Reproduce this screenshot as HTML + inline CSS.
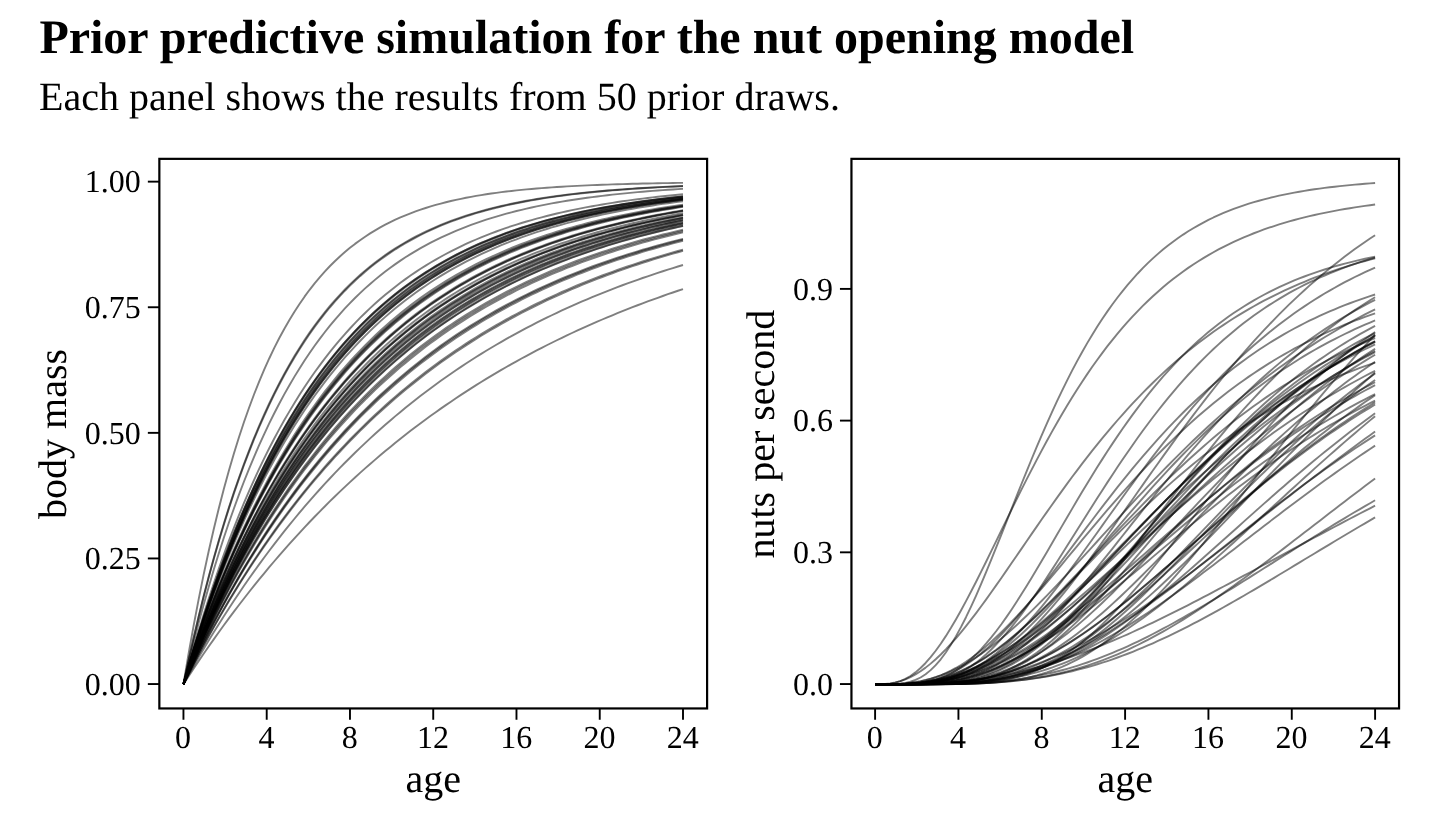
<!DOCTYPE html>
<html><head><meta charset="utf-8"><title>Prior predictive simulation</title>
<style>
html,body{margin:0;padding:0;background:#fff;}
body{width:1440px;height:840px;overflow:hidden;font-family:"Liberation Serif",serif;}
svg{display:block;}
svg text{font-family:"Liberation Serif",serif;fill:#000;text-rendering:geometricPrecision;}
svg{will-change:transform;}
</style></head><body>
<svg width="1440" height="840" viewBox="0 0 1440 840">
<rect width="1440" height="840" fill="#fff"/>
<text class="t" x="39.4" y="53" font-size="48" font-weight="bold">Prior predictive simulation for the nut opening model</text>
<text class="t" x="39" y="110" font-size="40">Each panel shows the results from 50 prior draws.</text>
<g fill="none" stroke="#000" stroke-opacity="0.5" stroke-width="1.9" stroke-linejoin="round"><path d="M183.45 684.20 L188.50 671.83 L193.54 659.77 L198.59 648.00 L203.63 636.52 L208.68 625.33 L213.73 614.41 L218.77 603.76 L223.82 593.37 L228.86 583.24 L233.91 573.36 L238.96 563.72 L244.00 554.31 L249.05 545.14 L254.09 536.20 L259.14 527.47 L264.19 518.96 L269.23 510.66 L274.28 502.56 L279.32 494.67 L284.37 486.96 L289.42 479.45 L294.46 472.12 L299.51 464.97 L304.55 458.00 L309.60 451.20 L314.64 444.57 L319.69 438.10 L324.74 431.79 L329.78 425.63 L334.83 419.63 L339.87 413.77 L344.92 408.06 L349.97 402.49 L355.01 397.05 L360.06 391.75 L365.10 386.58 L370.15 381.54 L375.20 376.62 L380.24 371.82 L385.29 367.14 L390.33 362.58 L395.38 358.13 L400.43 353.79 L405.47 349.55 L410.52 345.42 L415.56 341.39 L420.61 337.46 L425.66 333.63 L430.70 329.89 L435.75 326.24 L440.79 322.68 L445.84 319.21 L450.89 315.83 L455.93 312.53 L460.98 309.31 L466.02 306.16 L471.07 303.10 L476.12 300.11 L481.16 297.20 L486.21 294.36 L491.25 291.58 L496.30 288.88 L501.35 286.24 L506.39 283.67 L511.44 281.16 L516.48 278.71 L521.53 276.32 L526.58 273.99 L531.62 271.72 L536.67 269.51 L541.71 267.34 L546.76 265.24 L551.81 263.18 L556.85 261.17 L561.90 259.22 L566.94 257.31 L571.99 255.45 L577.03 253.63 L582.08 251.86 L587.13 250.14 L592.17 248.45 L597.22 246.81 L602.26 245.21 L607.31 243.64 L612.36 242.12 L617.40 240.63 L622.45 239.18 L627.49 237.77 L632.54 236.39 L637.59 235.04 L642.63 233.73 L647.68 232.45 L652.72 231.20 L657.77 229.98 L662.82 228.79 L667.86 227.63 L672.91 226.50 L677.95 225.40 L683.00 224.32"/><path d="M183.45 684.20 L188.50 666.59 L193.54 649.59 L198.59 633.19 L203.63 617.37 L208.68 602.10 L213.73 587.36 L218.77 573.15 L223.82 559.43 L228.86 546.19 L233.91 533.41 L238.96 521.08 L244.00 509.19 L249.05 497.71 L254.09 486.64 L259.14 475.95 L264.19 465.63 L269.23 455.68 L274.28 446.08 L279.32 436.81 L284.37 427.87 L289.42 419.24 L294.46 410.92 L299.51 402.88 L304.55 395.13 L309.60 387.65 L314.64 380.43 L319.69 373.47 L324.74 366.75 L329.78 360.26 L334.83 354.00 L339.87 347.96 L344.92 342.14 L349.97 336.51 L355.01 331.09 L360.06 325.85 L365.10 320.80 L370.15 315.92 L375.20 311.22 L380.24 306.68 L385.29 302.30 L390.33 298.07 L395.38 293.99 L400.43 290.06 L405.47 286.26 L410.52 282.59 L415.56 279.06 L420.61 275.65 L425.66 272.35 L430.70 269.18 L435.75 266.11 L440.79 263.15 L445.84 260.30 L450.89 257.54 L455.93 254.88 L460.98 252.32 L466.02 249.84 L471.07 247.45 L476.12 245.15 L481.16 242.93 L486.21 240.78 L491.25 238.71 L496.30 236.71 L501.35 234.78 L506.39 232.92 L511.44 231.13 L516.48 229.40 L521.53 227.72 L526.58 226.11 L531.62 224.55 L536.67 223.05 L541.71 221.60 L546.76 220.20 L551.81 218.85 L556.85 217.55 L561.90 216.30 L566.94 215.08 L571.99 213.91 L577.03 212.78 L582.08 211.69 L587.13 210.64 L592.17 209.63 L597.22 208.65 L602.26 207.71 L607.31 206.79 L612.36 205.91 L617.40 205.07 L622.45 204.25 L627.49 203.46 L632.54 202.69 L637.59 201.96 L642.63 201.25 L647.68 200.56 L652.72 199.90 L657.77 199.26 L662.82 198.65 L667.86 198.05 L672.91 197.48 L677.95 196.93 L683.00 196.39"/><path d="M183.45 684.20 L188.50 665.81 L193.54 648.09 L198.59 631.02 L203.63 614.58 L208.68 598.73 L213.73 583.47 L218.77 568.76 L223.82 554.60 L228.86 540.95 L233.91 527.80 L238.96 515.13 L244.00 502.93 L249.05 491.17 L254.09 479.85 L259.14 468.94 L264.19 458.42 L269.23 448.29 L274.28 438.54 L279.32 429.14 L284.37 420.08 L289.42 411.36 L294.46 402.95 L299.51 394.85 L304.55 387.05 L309.60 379.54 L314.64 372.30 L319.69 365.32 L324.74 358.60 L329.78 352.12 L334.83 345.89 L339.87 339.88 L344.92 334.09 L349.97 328.51 L355.01 323.14 L360.06 317.96 L365.10 312.97 L370.15 308.17 L375.20 303.54 L380.24 299.08 L385.29 294.79 L390.33 290.65 L395.38 286.66 L400.43 282.82 L405.47 279.12 L410.52 275.55 L415.56 272.12 L420.61 268.81 L425.66 265.62 L430.70 262.55 L435.75 259.59 L440.79 256.74 L445.84 253.99 L450.89 251.35 L455.93 248.80 L460.98 246.34 L466.02 243.98 L471.07 241.70 L476.12 239.50 L481.16 237.38 L486.21 235.35 L491.25 233.38 L496.30 231.49 L501.35 229.67 L506.39 227.91 L511.44 226.22 L516.48 224.59 L521.53 223.02 L526.58 221.51 L531.62 220.05 L536.67 218.65 L541.71 217.30 L546.76 215.99 L551.81 214.74 L556.85 213.53 L561.90 212.37 L566.94 211.24 L571.99 210.16 L577.03 209.12 L582.08 208.12 L587.13 207.15 L592.17 206.22 L597.22 205.32 L602.26 204.46 L607.31 203.62 L612.36 202.82 L617.40 202.05 L622.45 201.30 L627.49 200.59 L632.54 199.89 L637.59 199.23 L642.63 198.59 L647.68 197.97 L652.72 197.37 L657.77 196.80 L662.82 196.25 L667.86 195.71 L672.91 195.20 L677.95 194.71 L683.00 194.23"/><path d="M183.45 684.20 L188.50 667.50 L193.54 651.35 L198.59 635.74 L203.63 620.64 L208.68 606.05 L213.73 591.95 L218.77 578.31 L223.82 565.13 L228.86 552.38 L233.91 540.06 L238.96 528.15 L244.00 516.63 L249.05 505.50 L254.09 494.74 L259.14 484.33 L264.19 474.27 L269.23 464.55 L274.28 455.14 L279.32 446.05 L284.37 437.27 L289.42 428.77 L294.46 420.56 L299.51 412.62 L304.55 404.94 L309.60 397.52 L314.64 390.35 L319.69 383.41 L324.74 376.71 L329.78 370.23 L334.83 363.96 L339.87 357.90 L344.92 352.04 L349.97 346.38 L355.01 340.91 L360.06 335.61 L365.10 330.50 L370.15 325.55 L375.20 320.77 L380.24 316.15 L385.29 311.68 L390.33 307.36 L395.38 303.18 L400.43 299.14 L405.47 295.24 L410.52 291.47 L415.56 287.82 L420.61 284.29 L425.66 280.88 L430.70 277.58 L435.75 274.39 L440.79 271.31 L445.84 268.33 L450.89 265.46 L455.93 262.67 L460.98 259.98 L466.02 257.38 L471.07 254.86 L476.12 252.43 L481.16 250.08 L486.21 247.81 L491.25 245.61 L496.30 243.48 L501.35 241.43 L506.39 239.44 L511.44 237.53 L516.48 235.67 L521.53 233.88 L526.58 232.14 L531.62 230.46 L536.67 228.84 L541.71 227.28 L546.76 225.76 L551.81 224.30 L556.85 222.88 L561.90 221.51 L566.94 220.19 L571.99 218.91 L577.03 217.67 L582.08 216.48 L587.13 215.32 L592.17 214.20 L597.22 213.12 L602.26 212.08 L607.31 211.07 L612.36 210.09 L617.40 209.15 L622.45 208.24 L627.49 207.35 L632.54 206.50 L637.59 205.68 L642.63 204.88 L647.68 204.11 L652.72 203.36 L657.77 202.64 L662.82 201.95 L667.86 201.28 L672.91 200.62 L677.95 200.00 L683.00 199.39"/><path d="M183.45 684.20 L188.50 674.14 L193.54 664.28 L198.59 654.62 L203.63 645.16 L208.68 635.88 L213.73 626.79 L218.77 617.88 L223.82 609.15 L228.86 600.59 L233.91 592.21 L238.96 583.99 L244.00 575.94 L249.05 568.04 L254.09 560.31 L259.14 552.73 L264.19 545.30 L269.23 538.03 L274.28 530.89 L279.32 523.90 L284.37 517.05 L289.42 510.34 L294.46 503.76 L299.51 497.31 L304.55 491.00 L309.60 484.80 L314.64 478.74 L319.69 472.79 L324.74 466.96 L329.78 461.25 L334.83 455.66 L339.87 450.17 L344.92 444.80 L349.97 439.53 L355.01 434.37 L360.06 429.31 L365.10 424.36 L370.15 419.50 L375.20 414.74 L380.24 410.08 L385.29 405.50 L390.33 401.02 L395.38 396.63 L400.43 392.33 L405.47 388.11 L410.52 383.98 L415.56 379.93 L420.61 375.97 L425.66 372.08 L430.70 368.27 L435.75 364.53 L440.79 360.87 L445.84 357.28 L450.89 353.77 L455.93 350.33 L460.98 346.95 L466.02 343.64 L471.07 340.40 L476.12 337.22 L481.16 334.11 L486.21 331.06 L491.25 328.07 L496.30 325.14 L501.35 322.27 L506.39 319.45 L511.44 316.70 L516.48 313.99 L521.53 311.35 L526.58 308.75 L531.62 306.21 L536.67 303.72 L541.71 301.27 L546.76 298.88 L551.81 296.53 L556.85 294.24 L561.90 291.98 L566.94 289.77 L571.99 287.61 L577.03 285.49 L582.08 283.41 L587.13 281.38 L592.17 279.38 L597.22 277.43 L602.26 275.51 L607.31 273.63 L612.36 271.79 L617.40 269.99 L622.45 268.22 L627.49 266.49 L632.54 264.79 L637.59 263.13 L642.63 261.50 L647.68 259.90 L652.72 258.34 L657.77 256.80 L662.82 255.30 L667.86 253.83 L672.91 252.38 L677.95 250.97 L683.00 249.58"/><path d="M183.45 684.20 L188.50 672.43 L193.54 660.93 L198.59 649.70 L203.63 638.73 L208.68 628.02 L213.73 617.57 L218.77 607.35 L223.82 597.38 L228.86 587.64 L233.91 578.13 L238.96 568.84 L244.00 559.77 L249.05 550.91 L254.09 542.26 L259.14 533.81 L264.19 525.56 L269.23 517.50 L274.28 509.63 L279.32 501.95 L284.37 494.45 L289.42 487.12 L294.46 479.96 L299.51 472.97 L304.55 466.15 L309.60 459.48 L314.64 452.98 L319.69 446.62 L324.74 440.41 L329.78 434.35 L334.83 428.43 L339.87 422.65 L344.92 417.00 L349.97 411.49 L355.01 406.11 L360.06 400.85 L365.10 395.71 L370.15 390.70 L375.20 385.80 L380.24 381.02 L385.29 376.35 L390.33 371.79 L395.38 367.33 L400.43 362.98 L405.47 358.74 L410.52 354.59 L415.56 350.54 L420.61 346.58 L425.66 342.72 L430.70 338.94 L435.75 335.26 L440.79 331.66 L445.84 328.15 L450.89 324.72 L455.93 321.37 L460.98 318.09 L466.02 314.90 L471.07 311.78 L476.12 308.73 L481.16 305.75 L486.21 302.85 L491.25 300.01 L496.30 297.23 L501.35 294.53 L506.39 291.88 L511.44 289.30 L516.48 286.78 L521.53 284.32 L526.58 281.91 L531.62 279.57 L536.67 277.27 L541.71 275.03 L546.76 272.85 L551.81 270.71 L556.85 268.63 L561.90 266.59 L566.94 264.60 L571.99 262.66 L577.03 260.76 L582.08 258.91 L587.13 257.10 L592.17 255.33 L597.22 253.61 L602.26 251.92 L607.31 250.28 L612.36 248.67 L617.40 247.10 L622.45 245.57 L627.49 244.07 L632.54 242.61 L637.59 241.18 L642.63 239.79 L647.68 238.43 L652.72 237.10 L657.77 235.80 L662.82 234.53 L667.86 233.30 L672.91 232.09 L677.95 230.91 L683.00 229.75"/><path d="M183.45 684.20 L188.50 670.64 L193.54 657.44 L198.59 644.60 L203.63 632.11 L208.68 619.96 L213.73 608.13 L218.77 596.62 L223.82 585.42 L228.86 574.53 L233.91 563.93 L238.96 553.61 L244.00 543.57 L249.05 533.81 L254.09 524.30 L259.14 515.06 L264.19 506.06 L269.23 497.31 L274.28 488.79 L279.32 480.50 L284.37 472.44 L289.42 464.59 L294.46 456.96 L299.51 449.53 L304.55 442.30 L309.60 435.27 L314.64 428.42 L319.69 421.77 L324.74 415.29 L329.78 408.98 L334.83 402.85 L339.87 396.88 L344.92 391.07 L349.97 385.42 L355.01 379.93 L360.06 374.58 L365.10 369.37 L370.15 364.31 L375.20 359.38 L380.24 354.58 L385.29 349.92 L390.33 345.38 L395.38 340.96 L400.43 336.66 L405.47 332.48 L410.52 328.41 L415.56 324.45 L420.61 320.60 L425.66 316.85 L430.70 313.20 L435.75 309.65 L440.79 306.20 L445.84 302.84 L450.89 299.57 L455.93 296.39 L460.98 293.29 L466.02 290.28 L471.07 287.35 L476.12 284.50 L481.16 281.73 L486.21 279.03 L491.25 276.40 L496.30 273.85 L501.35 271.36 L506.39 268.94 L511.44 266.58 L516.48 264.29 L521.53 262.06 L526.58 259.90 L531.62 257.79 L536.67 255.73 L541.71 253.73 L546.76 251.79 L551.81 249.90 L556.85 248.06 L561.90 246.27 L566.94 244.52 L571.99 242.83 L577.03 241.18 L582.08 239.57 L587.13 238.01 L592.17 236.49 L597.22 235.01 L602.26 233.57 L607.31 232.17 L612.36 230.81 L617.40 229.49 L622.45 228.20 L627.49 226.94 L632.54 225.72 L637.59 224.53 L642.63 223.38 L647.68 222.25 L652.72 221.16 L657.77 220.09 L662.82 219.06 L667.86 218.05 L672.91 217.07 L677.95 216.11 L683.00 215.19"/><path d="M183.45 684.20 L188.50 674.23 L193.54 664.47 L198.59 654.89 L203.63 645.51 L208.68 636.31 L213.73 627.29 L218.77 618.45 L223.82 609.79 L228.86 601.30 L233.91 592.98 L238.96 584.82 L244.00 576.83 L249.05 568.99 L254.09 561.31 L259.14 553.78 L264.19 546.40 L269.23 539.17 L274.28 532.08 L279.32 525.13 L284.37 518.32 L289.42 511.64 L294.46 505.10 L299.51 498.68 L304.55 492.40 L309.60 486.23 L314.64 480.19 L319.69 474.27 L324.74 468.47 L329.78 462.78 L334.83 457.21 L339.87 451.74 L344.92 446.39 L349.97 441.14 L355.01 435.99 L360.06 430.95 L365.10 426.01 L370.15 421.16 L375.20 416.41 L380.24 411.76 L385.29 407.19 L390.33 402.72 L395.38 398.34 L400.43 394.04 L405.47 389.83 L410.52 385.70 L415.56 381.66 L420.61 377.69 L425.66 373.80 L430.70 369.99 L435.75 366.26 L440.79 362.60 L445.84 359.01 L450.89 355.49 L455.93 352.05 L460.98 348.67 L466.02 345.36 L471.07 342.11 L476.12 338.93 L481.16 335.81 L486.21 332.75 L491.25 329.76 L496.30 326.82 L501.35 323.94 L506.39 321.12 L511.44 318.36 L516.48 315.65 L521.53 312.99 L526.58 310.39 L531.62 307.83 L536.67 305.33 L541.71 302.88 L546.76 300.48 L551.81 298.12 L556.85 295.81 L561.90 293.55 L566.94 291.33 L571.99 289.16 L577.03 287.03 L582.08 284.94 L587.13 282.89 L592.17 280.88 L597.22 278.92 L602.26 276.99 L607.31 275.10 L612.36 273.24 L617.40 271.43 L622.45 269.65 L627.49 267.91 L632.54 266.20 L637.59 264.52 L642.63 262.88 L647.68 261.27 L652.72 259.69 L657.77 258.14 L662.82 256.63 L667.86 255.14 L672.91 253.68 L677.95 252.26 L683.00 250.86"/><path d="M183.45 684.20 L188.50 672.68 L193.54 661.43 L198.59 650.44 L203.63 639.70 L208.68 629.20 L213.73 618.95 L218.77 608.93 L223.82 599.14 L228.86 589.57 L233.91 580.23 L238.96 571.09 L244.00 562.17 L249.05 553.45 L254.09 544.93 L259.14 536.61 L264.19 528.48 L269.23 520.53 L274.28 512.77 L279.32 505.18 L284.37 497.77 L289.42 490.52 L294.46 483.45 L299.51 476.53 L304.55 469.78 L309.60 463.17 L314.64 456.72 L319.69 450.42 L324.74 444.26 L329.78 438.25 L334.83 432.37 L339.87 426.62 L344.92 421.01 L349.97 415.53 L355.01 410.17 L360.06 404.93 L365.10 399.82 L370.15 394.82 L375.20 389.94 L380.24 385.16 L385.29 380.50 L390.33 375.95 L395.38 371.49 L400.43 367.15 L405.47 362.90 L410.52 358.74 L415.56 354.69 L420.61 350.72 L425.66 346.85 L430.70 343.06 L435.75 339.37 L440.79 335.75 L445.84 332.22 L450.89 328.77 L455.93 325.40 L460.98 322.11 L466.02 318.89 L471.07 315.75 L476.12 312.68 L481.16 309.68 L486.21 306.74 L491.25 303.88 L496.30 301.08 L501.35 298.34 L506.39 295.67 L511.44 293.06 L516.48 290.51 L521.53 288.01 L526.58 285.58 L531.62 283.20 L536.67 280.87 L541.71 278.60 L546.76 276.38 L551.81 274.21 L556.85 272.09 L561.90 270.02 L566.94 267.99 L571.99 266.02 L577.03 264.08 L582.08 262.20 L587.13 260.35 L592.17 258.55 L597.22 256.79 L602.26 255.07 L607.31 253.39 L612.36 251.74 L617.40 250.14 L622.45 248.57 L627.49 247.04 L632.54 245.54 L637.59 244.08 L642.63 242.65 L647.68 241.25 L652.72 239.89 L657.77 238.55 L662.82 237.25 L667.86 235.98 L672.91 234.73 L677.95 233.52 L683.00 232.33"/><path d="M183.45 684.20 L188.50 670.33 L193.54 656.83 L198.59 643.71 L203.63 630.96 L208.68 618.55 L213.73 606.49 L218.77 594.76 L223.82 583.36 L228.86 572.27 L233.91 561.48 L238.96 551.00 L244.00 540.80 L249.05 530.89 L254.09 521.24 L259.14 511.87 L264.19 502.75 L269.23 493.89 L274.28 485.27 L279.32 476.89 L284.37 468.74 L289.42 460.81 L294.46 453.10 L299.51 445.61 L304.55 438.32 L309.60 431.24 L314.64 424.35 L319.69 417.65 L324.74 411.13 L329.78 404.80 L334.83 398.64 L339.87 392.65 L344.92 386.82 L349.97 381.16 L355.01 375.65 L360.06 370.30 L365.10 365.09 L370.15 360.03 L375.20 355.10 L380.24 350.31 L385.29 345.66 L390.33 341.13 L395.38 336.73 L400.43 332.45 L405.47 328.29 L410.52 324.24 L415.56 320.30 L420.61 316.48 L425.66 312.76 L430.70 309.14 L435.75 305.62 L440.79 302.20 L445.84 298.87 L450.89 295.63 L455.93 292.49 L460.98 289.43 L466.02 286.45 L471.07 283.56 L476.12 280.75 L481.16 278.01 L486.21 275.36 L491.25 272.77 L496.30 270.26 L501.35 267.81 L506.39 265.43 L511.44 263.12 L516.48 260.87 L521.53 258.69 L526.58 256.56 L531.62 254.49 L536.67 252.48 L541.71 250.53 L546.76 248.63 L551.81 246.78 L556.85 244.98 L561.90 243.24 L566.94 241.54 L571.99 239.89 L577.03 238.28 L582.08 236.72 L587.13 235.20 L592.17 233.72 L597.22 232.28 L602.26 230.89 L607.31 229.53 L612.36 228.21 L617.40 226.92 L622.45 225.68 L627.49 224.46 L632.54 223.28 L637.59 222.13 L642.63 221.02 L647.68 219.93 L652.72 218.88 L657.77 217.85 L662.82 216.85 L667.86 215.88 L672.91 214.94 L677.95 214.02 L683.00 213.13"/><path d="M183.45 684.20 L188.50 669.94 L193.54 656.09 L198.59 642.63 L203.63 629.55 L208.68 616.84 L213.73 604.50 L218.77 592.50 L223.82 580.84 L228.86 569.52 L233.91 558.51 L238.96 547.82 L244.00 537.43 L249.05 527.34 L254.09 517.53 L259.14 508.00 L264.19 498.75 L269.23 489.75 L274.28 481.01 L279.32 472.52 L284.37 464.26 L289.42 456.25 L294.46 448.46 L299.51 440.89 L304.55 433.53 L309.60 426.39 L314.64 419.45 L319.69 412.70 L324.74 406.15 L329.78 399.78 L334.83 393.59 L339.87 387.58 L344.92 381.74 L349.97 376.06 L355.01 370.54 L360.06 365.19 L365.10 359.98 L370.15 354.92 L375.20 350.01 L380.24 345.23 L385.29 340.59 L390.33 336.08 L395.38 331.70 L400.43 327.45 L405.47 323.31 L410.52 319.29 L415.56 315.39 L420.61 311.60 L425.66 307.91 L430.70 304.33 L435.75 300.85 L440.79 297.47 L445.84 294.18 L450.89 290.99 L455.93 287.89 L460.98 284.88 L466.02 281.95 L471.07 279.11 L476.12 276.34 L481.16 273.66 L486.21 271.05 L491.25 268.51 L496.30 266.05 L501.35 263.66 L506.39 261.33 L511.44 259.07 L516.48 256.88 L521.53 254.74 L526.58 252.67 L531.62 250.66 L536.67 248.70 L541.71 246.80 L546.76 244.95 L551.81 243.16 L556.85 241.41 L561.90 239.72 L566.94 238.07 L571.99 236.47 L577.03 234.92 L582.08 233.41 L587.13 231.94 L592.17 230.52 L597.22 229.13 L602.26 227.78 L607.31 226.48 L612.36 225.21 L617.40 223.97 L622.45 222.77 L627.49 221.61 L632.54 220.48 L637.59 219.37 L642.63 218.31 L647.68 217.27 L652.72 216.26 L657.77 215.28 L662.82 214.32 L667.86 213.40 L672.91 212.50 L677.95 211.63 L683.00 210.78"/><path d="M183.45 684.20 L188.50 673.45 L193.54 662.93 L198.59 652.64 L203.63 642.56 L208.68 632.71 L213.73 623.06 L218.77 613.62 L223.82 604.38 L228.86 595.34 L233.91 586.49 L238.96 577.83 L244.00 569.36 L249.05 561.06 L254.09 552.95 L259.14 545.01 L264.19 537.24 L269.23 529.63 L274.28 522.19 L279.32 514.91 L284.37 507.78 L289.42 500.80 L294.46 493.98 L299.51 487.30 L304.55 480.76 L309.60 474.36 L314.64 468.10 L319.69 461.98 L324.74 455.98 L329.78 450.11 L334.83 444.37 L339.87 438.75 L344.92 433.25 L349.97 427.87 L355.01 422.61 L360.06 417.45 L365.10 412.41 L370.15 407.48 L375.20 402.65 L380.24 397.92 L385.29 393.30 L390.33 388.77 L395.38 384.34 L400.43 380.01 L405.47 375.76 L410.52 371.61 L415.56 367.55 L420.61 363.57 L425.66 359.68 L430.70 355.88 L435.75 352.15 L440.79 348.50 L445.84 344.94 L450.89 341.44 L455.93 338.03 L460.98 334.68 L466.02 331.41 L471.07 328.21 L476.12 325.07 L481.16 322.01 L486.21 319.01 L491.25 316.07 L496.30 313.20 L501.35 310.38 L506.39 307.63 L511.44 304.94 L516.48 302.30 L521.53 299.72 L526.58 297.20 L531.62 294.72 L536.67 292.31 L541.71 289.94 L546.76 287.63 L551.81 285.36 L556.85 283.14 L561.90 280.97 L566.94 278.85 L571.99 276.77 L577.03 274.74 L582.08 272.75 L587.13 270.80 L592.17 268.89 L597.22 267.03 L602.26 265.20 L607.31 263.42 L612.36 261.67 L617.40 259.96 L622.45 258.28 L627.49 256.65 L632.54 255.04 L637.59 253.47 L642.63 251.94 L647.68 250.44 L652.72 248.97 L657.77 247.53 L662.82 246.12 L667.86 244.74 L672.91 243.39 L677.95 242.07 L683.00 240.78"/><path d="M183.45 684.20 L188.50 671.36 L193.54 658.84 L198.59 646.65 L203.63 634.76 L208.68 623.18 L213.73 611.90 L218.77 600.91 L223.82 590.19 L228.86 579.75 L233.91 569.58 L238.96 559.66 L244.00 550.00 L249.05 540.59 L254.09 531.42 L259.14 522.48 L264.19 513.77 L269.23 505.28 L274.28 497.01 L279.32 488.95 L284.37 481.10 L289.42 473.45 L294.46 465.99 L299.51 458.73 L304.55 451.65 L309.60 444.75 L314.64 438.02 L319.69 431.47 L324.74 425.09 L329.78 418.87 L334.83 412.81 L339.87 406.90 L344.92 401.14 L349.97 395.54 L355.01 390.07 L360.06 384.75 L365.10 379.56 L370.15 374.50 L375.20 369.57 L380.24 364.77 L385.29 360.09 L390.33 355.53 L395.38 351.09 L400.43 346.76 L405.47 342.54 L410.52 338.43 L415.56 334.42 L420.61 330.52 L425.66 326.72 L430.70 323.01 L435.75 319.40 L440.79 315.88 L445.84 312.45 L450.89 309.11 L455.93 305.85 L460.98 302.68 L466.02 299.59 L471.07 296.57 L476.12 293.64 L481.16 290.78 L486.21 287.99 L491.25 285.27 L496.30 282.63 L501.35 280.05 L506.39 277.53 L511.44 275.08 L516.48 272.70 L521.53 270.37 L526.58 268.10 L531.62 265.90 L536.67 263.74 L541.71 261.65 L546.76 259.60 L551.81 257.61 L556.85 255.67 L561.90 253.78 L566.94 251.94 L571.99 250.14 L577.03 248.40 L582.08 246.69 L587.13 245.03 L592.17 243.41 L597.22 241.83 L602.26 240.30 L607.31 238.80 L612.36 237.34 L617.40 235.92 L622.45 234.53 L627.49 233.18 L632.54 231.87 L637.59 230.58 L642.63 229.33 L647.68 228.12 L652.72 226.93 L657.77 225.77 L662.82 224.65 L667.86 223.55 L672.91 222.48 L677.95 221.44 L683.00 220.42"/><path d="M183.45 684.20 L188.50 667.26 L193.54 650.88 L198.59 635.06 L203.63 619.77 L208.68 605.00 L213.73 590.73 L218.77 576.93 L223.82 563.61 L228.86 550.73 L233.91 538.28 L238.96 526.26 L244.00 514.64 L249.05 503.41 L254.09 492.56 L259.14 482.08 L264.19 471.95 L269.23 462.16 L274.28 452.71 L279.32 443.57 L284.37 434.74 L289.42 426.20 L294.46 417.96 L299.51 409.99 L304.55 402.29 L309.60 394.86 L314.64 387.67 L319.69 380.72 L324.74 374.01 L329.78 367.53 L334.83 361.26 L339.87 355.20 L344.92 349.35 L349.97 343.70 L355.01 338.24 L360.06 332.96 L365.10 327.86 L370.15 322.93 L375.20 318.17 L380.24 313.57 L385.29 309.12 L390.33 304.82 L395.38 300.67 L400.43 296.66 L405.47 292.78 L410.52 289.04 L415.56 285.42 L420.61 281.92 L425.66 278.54 L430.70 275.27 L435.75 272.12 L440.79 269.07 L445.84 266.12 L450.89 263.28 L455.93 260.53 L460.98 257.87 L466.02 255.30 L471.07 252.82 L476.12 250.42 L481.16 248.10 L486.21 245.86 L491.25 243.70 L496.30 241.61 L501.35 239.59 L506.39 237.64 L511.44 235.75 L516.48 233.93 L521.53 232.17 L526.58 230.46 L531.62 228.82 L536.67 227.23 L541.71 225.70 L546.76 224.21 L551.81 222.78 L556.85 221.39 L561.90 220.05 L566.94 218.76 L571.99 217.51 L577.03 216.30 L582.08 215.14 L587.13 214.01 L592.17 212.92 L597.22 211.87 L602.26 210.85 L607.31 209.87 L612.36 208.92 L617.40 208.00 L622.45 207.11 L627.49 206.26 L632.54 205.43 L637.59 204.63 L642.63 203.85 L647.68 203.11 L652.72 202.39 L657.77 201.69 L662.82 201.01 L667.86 200.36 L672.91 199.73 L677.95 199.13 L683.00 198.54"/><path d="M183.45 684.20 L188.50 673.36 L193.54 662.75 L198.59 652.36 L203.63 642.21 L208.68 632.27 L213.73 622.54 L218.77 613.03 L223.82 603.72 L228.86 594.61 L233.91 585.70 L238.96 576.98 L244.00 568.45 L249.05 560.11 L254.09 551.94 L259.14 543.95 L264.19 536.13 L269.23 528.48 L274.28 521.00 L279.32 513.68 L284.37 506.51 L289.42 499.50 L294.46 492.64 L299.51 485.93 L304.55 479.37 L309.60 472.94 L314.64 466.66 L319.69 460.51 L324.74 454.49 L329.78 448.61 L334.83 442.84 L339.87 437.21 L344.92 431.70 L349.97 426.30 L355.01 421.02 L360.06 415.86 L365.10 410.80 L370.15 405.86 L375.20 401.02 L380.24 396.29 L385.29 391.66 L390.33 387.13 L395.38 382.69 L400.43 378.35 L405.47 374.11 L410.52 369.96 L415.56 365.90 L420.61 361.92 L425.66 358.03 L430.70 354.23 L435.75 350.50 L440.79 346.86 L445.84 343.30 L450.89 339.81 L455.93 336.40 L460.98 333.06 L466.02 329.79 L471.07 326.59 L476.12 323.47 L481.16 320.41 L486.21 317.41 L491.25 314.49 L496.30 311.62 L501.35 308.82 L506.39 306.07 L511.44 303.39 L516.48 300.76 L521.53 298.19 L526.58 295.68 L531.62 293.22 L536.67 290.81 L541.71 288.46 L546.76 286.15 L551.81 283.90 L556.85 281.69 L561.90 279.54 L566.94 277.42 L571.99 275.36 L577.03 273.34 L582.08 271.36 L587.13 269.43 L592.17 267.53 L597.22 265.68 L602.26 263.87 L607.31 262.09 L612.36 260.36 L617.40 258.66 L622.45 257.00 L627.49 255.38 L632.54 253.79 L637.59 252.23 L642.63 250.71 L647.68 249.22 L652.72 247.76 L657.77 246.34 L662.82 244.94 L667.86 243.58 L672.91 242.24 L677.95 240.93 L683.00 239.66"/><path d="M183.45 684.20 L188.50 671.23 L193.54 658.59 L198.59 646.28 L203.63 634.28 L208.68 622.60 L213.73 611.22 L218.77 600.13 L223.82 589.33 L228.86 578.80 L233.91 568.55 L238.96 558.57 L244.00 548.84 L249.05 539.36 L254.09 530.13 L259.14 521.13 L264.19 512.37 L269.23 503.83 L274.28 495.51 L279.32 487.41 L284.37 479.52 L289.42 471.83 L294.46 464.34 L299.51 457.05 L304.55 449.94 L309.60 443.01 L314.64 436.27 L319.69 429.69 L324.74 423.29 L329.78 417.06 L334.83 410.98 L339.87 405.06 L344.92 399.29 L349.97 393.68 L355.01 388.20 L360.06 382.87 L365.10 377.68 L370.15 372.62 L375.20 367.69 L380.24 362.89 L385.29 358.21 L390.33 353.66 L395.38 349.22 L400.43 344.89 L405.47 340.68 L410.52 336.57 L415.56 332.58 L420.61 328.68 L425.66 324.89 L430.70 321.19 L435.75 317.59 L440.79 314.08 L445.84 310.66 L450.89 307.33 L455.93 304.09 L460.98 300.93 L466.02 297.85 L471.07 294.85 L476.12 291.93 L481.16 289.09 L486.21 286.32 L491.25 283.61 L496.30 280.98 L501.35 278.42 L506.39 275.92 L511.44 273.49 L516.48 271.12 L521.53 268.81 L526.58 266.56 L531.62 264.37 L536.67 262.24 L541.71 260.16 L546.76 258.13 L551.81 256.16 L556.85 254.24 L561.90 252.37 L566.94 250.54 L571.99 248.76 L577.03 247.03 L582.08 245.35 L587.13 243.70 L592.17 242.10 L597.22 240.54 L602.26 239.02 L607.31 237.54 L612.36 236.10 L617.40 234.70 L622.45 233.33 L627.49 232.00 L632.54 230.70 L637.59 229.43 L642.63 228.20 L647.68 227.00 L652.72 225.83 L657.77 224.69 L662.82 223.58 L667.86 222.50 L672.91 221.45 L677.95 220.42 L683.00 219.42"/><path d="M183.45 684.20 L188.50 668.97 L193.54 654.21 L198.59 639.89 L203.63 626.01 L208.68 612.54 L213.73 599.49 L218.77 586.83 L223.82 574.55 L228.86 562.65 L233.91 551.10 L238.96 539.91 L244.00 529.06 L249.05 518.53 L254.09 508.32 L259.14 498.43 L264.19 488.83 L269.23 479.52 L274.28 470.50 L279.32 461.75 L284.37 453.26 L289.42 445.03 L294.46 437.05 L299.51 429.31 L304.55 421.81 L309.60 414.54 L314.64 407.48 L319.69 400.64 L324.74 394.00 L329.78 387.57 L334.83 381.33 L339.87 375.28 L344.92 369.42 L349.97 363.73 L355.01 358.21 L360.06 352.86 L365.10 347.68 L370.15 342.65 L375.20 337.77 L380.24 333.04 L385.29 328.46 L390.33 324.01 L395.38 319.70 L400.43 315.52 L405.47 311.46 L410.52 307.53 L415.56 303.72 L420.61 300.02 L425.66 296.43 L430.70 292.96 L435.75 289.59 L440.79 286.32 L445.84 283.15 L450.89 280.07 L455.93 277.09 L460.98 274.20 L466.02 271.40 L471.07 268.68 L476.12 266.04 L481.16 263.49 L486.21 261.01 L491.25 258.61 L496.30 256.28 L501.35 254.02 L506.39 251.82 L511.44 249.70 L516.48 247.64 L521.53 245.64 L526.58 243.70 L531.62 241.82 L536.67 240.00 L541.71 238.24 L546.76 236.52 L551.81 234.86 L556.85 233.25 L561.90 231.69 L566.94 230.17 L571.99 228.71 L577.03 227.28 L582.08 225.90 L587.13 224.56 L592.17 223.26 L597.22 222.00 L602.26 220.78 L607.31 219.60 L612.36 218.45 L617.40 217.33 L622.45 216.26 L627.49 215.21 L632.54 214.19 L637.59 213.21 L642.63 212.25 L647.68 211.33 L652.72 210.43 L657.77 209.56 L662.82 208.71 L667.86 207.90 L672.91 207.10 L677.95 206.33 L683.00 205.59"/><path d="M183.45 684.20 L188.50 676.43 L193.54 668.78 L198.59 661.24 L203.63 653.82 L208.68 646.52 L213.73 639.33 L218.77 632.25 L223.82 625.29 L228.86 618.42 L233.91 611.67 L238.96 605.02 L244.00 598.47 L249.05 592.03 L254.09 585.68 L259.14 579.43 L264.19 573.28 L269.23 567.22 L274.28 561.26 L279.32 555.39 L284.37 549.61 L289.42 543.92 L294.46 538.32 L299.51 532.80 L304.55 527.37 L309.60 522.02 L314.64 516.76 L319.69 511.58 L324.74 506.47 L329.78 501.45 L334.83 496.50 L339.87 491.64 L344.92 486.84 L349.97 482.12 L355.01 477.48 L360.06 472.90 L365.10 468.40 L370.15 463.96 L375.20 459.60 L380.24 455.30 L385.29 451.07 L390.33 446.90 L395.38 442.80 L400.43 438.76 L405.47 434.78 L410.52 430.87 L415.56 427.01 L420.61 423.22 L425.66 419.48 L430.70 415.81 L435.75 412.19 L440.79 408.62 L445.84 405.11 L450.89 401.66 L455.93 398.25 L460.98 394.90 L466.02 391.61 L471.07 388.36 L476.12 385.16 L481.16 382.02 L486.21 378.92 L491.25 375.87 L496.30 372.86 L501.35 369.91 L506.39 367.00 L511.44 364.13 L516.48 361.31 L521.53 358.53 L526.58 355.80 L531.62 353.10 L536.67 350.45 L541.71 347.84 L546.76 345.27 L551.81 342.74 L556.85 340.25 L561.90 337.80 L566.94 335.38 L571.99 333.01 L577.03 330.67 L582.08 328.36 L587.13 326.09 L592.17 323.86 L597.22 321.66 L602.26 319.50 L607.31 317.37 L612.36 315.27 L617.40 313.20 L622.45 311.17 L627.49 309.16 L632.54 307.19 L637.59 305.25 L642.63 303.34 L647.68 301.46 L652.72 299.61 L657.77 297.78 L662.82 295.99 L667.86 294.22 L672.91 292.48 L677.95 290.77 L683.00 289.08"/><path d="M183.45 684.20 L188.50 670.63 L193.54 657.43 L198.59 644.58 L203.63 632.08 L208.68 619.92 L213.73 608.08 L218.77 596.57 L223.82 585.37 L228.86 574.47 L233.91 563.86 L238.96 553.54 L244.00 543.50 L249.05 533.73 L254.09 524.22 L259.14 514.97 L264.19 505.97 L269.23 497.22 L274.28 488.70 L279.32 480.41 L284.37 472.34 L289.42 464.49 L294.46 456.85 L299.51 449.42 L304.55 442.19 L309.60 435.16 L314.64 428.32 L319.69 421.66 L324.74 415.18 L329.78 408.87 L334.83 402.74 L339.87 396.77 L344.92 390.96 L349.97 385.31 L355.01 379.81 L360.06 374.46 L365.10 369.25 L370.15 364.19 L375.20 359.26 L380.24 354.47 L385.29 349.80 L390.33 345.26 L395.38 340.85 L400.43 336.55 L405.47 332.37 L410.52 328.30 L415.56 324.34 L420.61 320.49 L425.66 316.74 L430.70 313.09 L435.75 309.54 L440.79 306.09 L445.84 302.73 L450.89 299.46 L455.93 296.28 L460.98 293.19 L466.02 290.18 L471.07 287.25 L476.12 284.40 L481.16 281.63 L486.21 278.93 L491.25 276.30 L496.30 273.75 L501.35 271.26 L506.39 268.84 L511.44 266.49 L516.48 264.20 L521.53 261.97 L526.58 259.80 L531.62 257.70 L536.67 255.64 L541.71 253.65 L546.76 251.70 L551.81 249.81 L556.85 247.97 L561.90 246.18 L566.94 244.44 L571.99 242.75 L577.03 241.10 L582.08 239.50 L587.13 237.94 L592.17 236.42 L597.22 234.94 L602.26 233.50 L607.31 232.10 L612.36 230.74 L617.40 229.42 L622.45 228.13 L627.49 226.87 L632.54 225.65 L637.59 224.47 L642.63 223.31 L647.68 222.19 L652.72 221.10 L657.77 220.03 L662.82 219.00 L667.86 217.99 L672.91 217.01 L677.95 216.06 L683.00 215.13"/><path d="M183.45 684.20 L188.50 666.70 L193.54 649.81 L198.59 633.51 L203.63 617.77 L208.68 602.59 L213.73 587.93 L218.77 573.78 L223.82 560.13 L228.86 546.95 L233.91 534.23 L238.96 521.95 L244.00 510.10 L249.05 498.66 L254.09 487.63 L259.14 476.97 L264.19 466.69 L269.23 456.76 L274.28 447.18 L279.32 437.94 L284.37 429.02 L289.42 420.40 L294.46 412.09 L299.51 404.07 L304.55 396.32 L309.60 388.85 L314.64 381.63 L319.69 374.67 L324.74 367.95 L329.78 361.46 L334.83 355.20 L339.87 349.16 L344.92 343.33 L349.97 337.70 L355.01 332.27 L360.06 327.02 L365.10 321.96 L370.15 317.08 L375.20 312.36 L380.24 307.81 L385.29 303.42 L390.33 299.18 L395.38 295.09 L400.43 291.14 L405.47 287.33 L410.52 283.65 L415.56 280.10 L420.61 276.67 L425.66 273.37 L430.70 270.17 L435.75 267.09 L440.79 264.12 L445.84 261.25 L450.89 258.48 L455.93 255.80 L460.98 253.22 L466.02 250.73 L471.07 248.33 L476.12 246.01 L481.16 243.77 L486.21 241.61 L491.25 239.52 L496.30 237.51 L501.35 235.56 L506.39 233.69 L511.44 231.88 L516.48 230.13 L521.53 228.44 L526.58 226.82 L531.62 225.24 L536.67 223.73 L541.71 222.26 L546.76 220.85 L551.81 219.49 L556.85 218.17 L561.90 216.90 L566.94 215.68 L571.99 214.49 L577.03 213.35 L582.08 212.25 L587.13 211.18 L592.17 210.16 L597.22 209.17 L602.26 208.21 L607.31 207.29 L612.36 206.40 L617.40 205.54 L622.45 204.71 L627.49 203.90 L632.54 203.13 L637.59 202.38 L642.63 201.66 L647.68 200.97 L652.72 200.30 L657.77 199.65 L662.82 199.03 L667.86 198.42 L672.91 197.84 L677.95 197.28 L683.00 196.74"/><path d="M183.45 684.20 L188.50 667.97 L193.54 652.27 L198.59 637.08 L203.63 622.37 L208.68 608.14 L213.73 594.37 L218.77 581.05 L223.82 568.15 L228.86 555.67 L233.91 543.60 L238.96 531.91 L244.00 520.60 L249.05 509.66 L254.09 499.07 L259.14 488.82 L264.19 478.90 L269.23 469.31 L274.28 460.02 L279.32 451.03 L284.37 442.33 L289.42 433.92 L294.46 425.77 L299.51 417.89 L304.55 410.27 L309.60 402.88 L314.64 395.74 L319.69 388.83 L324.74 382.14 L329.78 375.67 L334.83 369.41 L339.87 363.35 L344.92 357.48 L349.97 351.80 L355.01 346.31 L360.06 341.00 L365.10 335.85 L370.15 330.87 L375.20 326.06 L380.24 321.40 L385.29 316.88 L390.33 312.52 L395.38 308.30 L400.43 304.21 L405.47 300.25 L410.52 296.42 L415.56 292.72 L420.61 289.13 L425.66 285.66 L430.70 282.31 L435.75 279.06 L440.79 275.91 L445.84 272.87 L450.89 269.93 L455.93 267.08 L460.98 264.32 L466.02 261.65 L471.07 259.07 L476.12 256.57 L481.16 254.16 L486.21 251.82 L491.25 249.55 L496.30 247.36 L501.35 245.24 L506.39 243.19 L511.44 241.20 L516.48 239.28 L521.53 237.42 L526.58 235.62 L531.62 233.88 L536.67 232.20 L541.71 230.57 L546.76 228.99 L551.81 227.46 L556.85 225.98 L561.90 224.55 L566.94 223.17 L571.99 221.83 L577.03 220.54 L582.08 219.28 L587.13 218.07 L592.17 216.89 L597.22 215.76 L602.26 214.66 L607.31 213.59 L612.36 212.56 L617.40 211.57 L622.45 210.60 L627.49 209.67 L632.54 208.77 L637.59 207.89 L642.63 207.05 L647.68 206.23 L652.72 205.44 L657.77 204.67 L662.82 203.93 L667.86 203.21 L672.91 202.52 L677.95 201.84 L683.00 201.19"/><path d="M183.45 684.20 L188.50 671.39 L193.54 658.90 L198.59 646.73 L203.63 634.88 L208.68 623.32 L213.73 612.06 L218.77 601.09 L223.82 590.40 L228.86 579.98 L233.91 569.82 L238.96 559.92 L244.00 550.28 L249.05 540.88 L254.09 531.72 L259.14 522.80 L264.19 514.10 L269.23 505.63 L274.28 497.37 L279.32 489.32 L284.37 481.48 L289.42 473.83 L294.46 466.38 L299.51 459.12 L304.55 452.05 L309.60 445.16 L314.64 438.44 L319.69 431.89 L324.74 425.51 L329.78 419.30 L334.83 413.24 L339.87 407.34 L344.92 401.58 L349.97 395.98 L355.01 390.51 L360.06 385.19 L365.10 380.00 L370.15 374.94 L375.20 370.02 L380.24 365.22 L385.29 360.54 L390.33 355.98 L395.38 351.53 L400.43 347.20 L405.47 342.98 L410.52 338.87 L415.56 334.86 L420.61 330.96 L425.66 327.15 L430.70 323.44 L435.75 319.83 L440.79 316.31 L445.84 312.88 L450.89 309.53 L455.93 306.27 L460.98 303.10 L466.02 300.00 L471.07 296.98 L476.12 294.04 L481.16 291.18 L486.21 288.39 L491.25 285.67 L496.30 283.02 L501.35 280.43 L506.39 277.92 L511.44 275.46 L516.48 273.07 L521.53 270.74 L526.58 268.47 L531.62 266.26 L536.67 264.10 L541.71 262.00 L546.76 259.96 L551.81 257.96 L556.85 256.02 L561.90 254.12 L566.94 252.27 L571.99 250.47 L577.03 248.72 L582.08 247.01 L587.13 245.35 L592.17 243.72 L597.22 242.14 L602.26 240.60 L607.31 239.10 L612.36 237.64 L617.40 236.21 L622.45 234.82 L627.49 233.47 L632.54 232.15 L637.59 230.86 L642.63 229.61 L647.68 228.38 L652.72 227.19 L657.77 226.03 L662.82 224.90 L667.86 223.80 L672.91 222.73 L677.95 221.68 L683.00 220.66"/><path d="M183.45 684.20 L188.50 670.55 L193.54 657.27 L198.59 644.36 L203.63 631.79 L208.68 619.56 L213.73 607.67 L218.77 596.10 L223.82 584.85 L228.86 573.90 L233.91 563.24 L238.96 552.88 L244.00 542.80 L249.05 532.99 L254.09 523.45 L259.14 514.17 L264.19 505.14 L269.23 496.35 L274.28 487.80 L279.32 479.49 L284.37 471.40 L289.42 463.53 L294.46 455.88 L299.51 448.43 L304.55 441.19 L309.60 434.14 L314.64 427.28 L319.69 420.61 L324.74 414.12 L329.78 407.81 L334.83 401.67 L339.87 395.69 L344.92 389.88 L349.97 384.23 L355.01 378.72 L360.06 373.37 L365.10 368.17 L370.15 363.10 L375.20 358.18 L380.24 353.38 L385.29 348.72 L390.33 344.18 L395.38 339.77 L400.43 335.48 L405.47 331.30 L410.52 327.24 L415.56 323.28 L420.61 319.44 L425.66 315.70 L430.70 312.06 L435.75 308.52 L440.79 305.07 L445.84 301.72 L450.89 298.46 L455.93 295.29 L460.98 292.20 L466.02 289.20 L471.07 286.28 L476.12 283.44 L481.16 280.68 L486.21 277.99 L491.25 275.37 L496.30 272.83 L501.35 270.35 L506.39 267.95 L511.44 265.60 L516.48 263.33 L521.53 261.11 L526.58 258.95 L531.62 256.85 L536.67 254.81 L541.71 252.83 L546.76 250.89 L551.81 249.01 L556.85 247.19 L561.90 245.41 L566.94 243.68 L571.99 241.99 L577.03 240.36 L582.08 238.76 L587.13 237.21 L592.17 235.71 L597.22 234.24 L602.26 232.81 L607.31 231.42 L612.36 230.07 L617.40 228.76 L622.45 227.48 L627.49 226.24 L632.54 225.03 L637.59 223.85 L642.63 222.71 L647.68 221.59 L652.72 220.51 L657.77 219.45 L662.82 218.43 L667.86 217.43 L672.91 216.46 L677.95 215.52 L683.00 214.60"/><path d="M183.45 684.20 L188.50 667.01 L193.54 650.40 L198.59 634.37 L203.63 618.88 L208.68 603.92 L213.73 589.48 L218.77 575.53 L223.82 562.05 L228.86 549.04 L233.91 536.47 L238.96 524.33 L244.00 512.61 L249.05 501.29 L254.09 490.36 L259.14 479.80 L264.19 469.60 L269.23 459.75 L274.28 450.23 L279.32 441.05 L284.37 432.17 L289.42 423.60 L294.46 415.33 L299.51 407.33 L304.55 399.61 L309.60 392.16 L314.64 384.96 L319.69 378.00 L324.74 371.29 L329.78 364.80 L334.83 358.54 L339.87 352.49 L344.92 346.64 L349.97 341.00 L355.01 335.55 L360.06 330.29 L365.10 325.20 L370.15 320.29 L375.20 315.55 L380.24 310.97 L385.29 306.55 L390.33 302.28 L395.38 298.15 L400.43 294.17 L405.47 290.32 L410.52 286.60 L415.56 283.01 L420.61 279.55 L425.66 276.20 L430.70 272.97 L435.75 269.85 L440.79 266.83 L445.84 263.92 L450.89 261.10 L455.93 258.39 L460.98 255.76 L466.02 253.23 L471.07 250.78 L476.12 248.42 L481.16 246.14 L486.21 243.93 L491.25 241.80 L496.30 239.75 L501.35 237.76 L506.39 235.84 L511.44 233.99 L516.48 232.20 L521.53 230.47 L526.58 228.80 L531.62 227.19 L536.67 225.64 L541.71 224.13 L546.76 222.68 L551.81 221.28 L556.85 219.93 L561.90 218.62 L566.94 217.35 L571.99 216.13 L577.03 214.96 L582.08 213.82 L587.13 212.72 L592.17 211.66 L597.22 210.63 L602.26 209.64 L607.31 208.69 L612.36 207.76 L617.40 206.87 L622.45 206.01 L627.49 205.18 L632.54 204.38 L637.59 203.60 L642.63 202.85 L647.68 202.13 L652.72 201.43 L657.77 200.75 L662.82 200.10 L667.86 199.47 L672.91 198.86 L677.95 198.28 L683.00 197.71"/><path d="M183.45 684.20 L188.50 666.59 L193.54 649.61 L198.59 633.21 L203.63 617.39 L208.68 602.13 L213.73 587.40 L218.77 573.19 L223.82 559.47 L228.86 546.23 L233.91 533.46 L238.96 521.14 L244.00 509.25 L249.05 497.77 L254.09 486.70 L259.14 476.01 L264.19 465.70 L269.23 455.75 L274.28 446.15 L279.32 436.88 L284.37 427.94 L289.42 419.32 L294.46 410.99 L299.51 402.96 L304.55 395.21 L309.60 387.73 L314.64 380.51 L319.69 373.54 L324.74 366.82 L329.78 360.34 L334.83 354.08 L339.87 348.04 L344.92 342.21 L349.97 336.59 L355.01 331.16 L360.06 325.92 L365.10 320.87 L370.15 316.00 L375.20 311.29 L380.24 306.75 L385.29 302.37 L390.33 298.14 L395.38 294.06 L400.43 290.12 L405.47 286.33 L410.52 282.66 L415.56 279.12 L420.61 275.71 L425.66 272.42 L430.70 269.24 L435.75 266.17 L440.79 263.21 L445.84 260.36 L450.89 257.60 L455.93 254.94 L460.98 252.38 L466.02 249.90 L471.07 247.51 L476.12 245.20 L481.16 242.98 L486.21 240.83 L491.25 238.76 L496.30 236.76 L501.35 234.83 L506.39 232.97 L511.44 231.17 L516.48 229.44 L521.53 227.77 L526.58 226.15 L531.62 224.60 L536.67 223.09 L541.71 221.64 L546.76 220.24 L551.81 218.89 L556.85 217.59 L561.90 216.33 L566.94 215.12 L571.99 213.95 L577.03 212.82 L582.08 211.73 L587.13 210.68 L592.17 209.66 L597.22 208.68 L602.26 207.74 L607.31 206.82 L612.36 205.94 L617.40 205.09 L622.45 204.28 L627.49 203.48 L632.54 202.72 L637.59 201.98 L642.63 201.27 L647.68 200.59 L652.72 199.93 L657.77 199.29 L662.82 198.67 L667.86 198.08 L672.91 197.50 L677.95 196.95 L683.00 196.42"/><path d="M183.45 684.20 L188.50 669.86 L193.54 655.93 L198.59 642.40 L203.63 629.25 L208.68 616.48 L213.73 604.07 L218.77 592.02 L223.82 580.31 L228.86 568.93 L233.91 557.88 L238.96 547.15 L244.00 536.72 L249.05 526.59 L254.09 516.74 L259.14 507.18 L264.19 497.89 L269.23 488.87 L274.28 480.11 L279.32 471.59 L284.37 463.32 L289.42 455.28 L294.46 447.47 L299.51 439.89 L304.55 432.52 L309.60 425.36 L314.64 418.41 L319.69 411.65 L324.74 405.09 L329.78 398.72 L334.83 392.52 L339.87 386.51 L344.92 380.66 L349.97 374.99 L355.01 369.47 L360.06 364.11 L365.10 358.91 L370.15 353.85 L375.20 348.94 L380.24 344.16 L385.29 339.53 L390.33 335.02 L395.38 330.65 L400.43 326.40 L405.47 322.27 L410.52 318.26 L415.56 314.36 L420.61 310.57 L425.66 306.90 L430.70 303.32 L435.75 299.85 L440.79 296.48 L445.84 293.21 L450.89 290.02 L455.93 286.93 L460.98 283.93 L466.02 281.01 L471.07 278.18 L476.12 275.42 L481.16 272.75 L486.21 270.15 L491.25 267.63 L496.30 265.18 L501.35 262.79 L506.39 260.48 L511.44 258.23 L516.48 256.05 L521.53 253.93 L526.58 251.86 L531.62 249.86 L536.67 247.92 L541.71 246.03 L546.76 244.19 L551.81 242.41 L556.85 240.68 L561.90 238.99 L566.94 237.36 L571.99 235.77 L577.03 234.23 L582.08 232.73 L587.13 231.27 L592.17 229.86 L597.22 228.48 L602.26 227.15 L607.31 225.85 L612.36 224.59 L617.40 223.37 L622.45 222.18 L627.49 221.02 L632.54 219.90 L637.59 218.81 L642.63 217.75 L647.68 216.72 L652.72 215.72 L657.77 214.75 L662.82 213.81 L667.86 212.89 L672.91 212.00 L677.95 211.14 L683.00 210.30"/><path d="M183.45 684.20 L188.50 669.14 L193.54 654.53 L198.59 640.36 L203.63 626.61 L208.68 613.28 L213.73 600.34 L218.77 587.80 L223.82 575.63 L228.86 563.82 L233.91 552.37 L238.96 541.26 L244.00 530.48 L249.05 520.03 L254.09 509.89 L259.14 500.05 L264.19 490.51 L269.23 481.26 L274.28 472.28 L279.32 463.57 L284.37 455.12 L289.42 446.93 L294.46 438.98 L299.51 431.27 L304.55 423.79 L309.60 416.53 L314.64 409.49 L319.69 402.67 L324.74 396.05 L329.78 389.62 L334.83 383.39 L339.87 377.34 L344.92 371.48 L349.97 365.79 L355.01 360.28 L360.06 354.92 L365.10 349.73 L370.15 344.70 L375.20 339.81 L380.24 335.07 L385.29 330.48 L390.33 326.02 L395.38 321.69 L400.43 317.50 L405.47 313.43 L410.52 309.48 L415.56 305.65 L420.61 301.93 L425.66 298.33 L430.70 294.84 L435.75 291.44 L440.79 288.16 L445.84 284.96 L450.89 281.87 L455.93 278.87 L460.98 275.96 L466.02 273.13 L471.07 270.39 L476.12 267.73 L481.16 265.15 L486.21 262.65 L491.25 260.23 L496.30 257.87 L501.35 255.59 L506.39 253.38 L511.44 251.23 L516.48 249.14 L521.53 247.12 L526.58 245.16 L531.62 243.26 L536.67 241.41 L541.71 239.62 L546.76 237.89 L551.81 236.20 L556.85 234.57 L561.90 232.99 L566.94 231.45 L571.99 229.96 L577.03 228.51 L582.08 227.11 L587.13 225.75 L592.17 224.43 L597.22 223.15 L602.26 221.91 L607.31 220.70 L612.36 219.53 L617.40 218.40 L622.45 217.30 L627.49 216.23 L632.54 215.20 L637.59 214.19 L642.63 213.22 L647.68 212.27 L652.72 211.36 L657.77 210.47 L662.82 209.61 L667.86 208.77 L672.91 207.96 L677.95 207.17 L683.00 206.41"/><path d="M183.45 684.20 L188.50 671.02 L193.54 658.19 L198.59 645.69 L203.63 633.52 L208.68 621.67 L213.73 610.14 L218.77 598.90 L223.82 587.96 L228.86 577.30 L233.91 566.93 L238.96 556.83 L244.00 546.99 L249.05 537.41 L254.09 528.08 L259.14 519.00 L264.19 510.15 L269.23 501.54 L274.28 493.15 L279.32 484.98 L284.37 477.03 L289.42 469.28 L294.46 461.74 L299.51 454.40 L304.55 447.24 L309.60 440.28 L314.64 433.50 L319.69 426.89 L324.74 420.46 L329.78 414.20 L334.83 408.10 L339.87 402.17 L344.92 396.39 L349.97 390.76 L355.01 385.27 L360.06 379.93 L365.10 374.73 L370.15 369.67 L375.20 364.74 L380.24 359.94 L385.29 355.27 L390.33 350.72 L395.38 346.28 L400.43 341.97 L405.47 337.76 L410.52 333.67 L415.56 329.69 L420.61 325.80 L425.66 322.03 L430.70 318.34 L435.75 314.76 L440.79 311.27 L445.84 307.87 L450.89 304.56 L455.93 301.34 L460.98 298.20 L466.02 295.15 L471.07 292.17 L476.12 289.28 L481.16 286.46 L486.21 283.71 L491.25 281.03 L496.30 278.43 L501.35 275.89 L506.39 273.42 L511.44 271.02 L516.48 268.67 L521.53 266.39 L526.58 264.17 L531.62 262.01 L536.67 259.90 L541.71 257.85 L546.76 255.85 L551.81 253.91 L556.85 252.02 L561.90 250.17 L566.94 248.38 L571.99 246.63 L577.03 244.92 L582.08 243.27 L587.13 241.65 L592.17 240.08 L597.22 238.55 L602.26 237.06 L607.31 235.61 L612.36 234.19 L617.40 232.82 L622.45 231.47 L627.49 230.17 L632.54 228.90 L637.59 227.66 L642.63 226.46 L647.68 225.28 L652.72 224.14 L657.77 223.03 L662.82 221.94 L667.86 220.89 L672.91 219.86 L677.95 218.86 L683.00 217.88"/><path d="M183.45 684.20 L188.50 660.60 L193.54 638.10 L198.59 616.67 L203.63 596.24 L208.68 576.77 L213.73 558.21 L218.77 540.52 L223.82 523.67 L228.86 507.61 L233.91 492.30 L238.96 477.71 L244.00 463.81 L249.05 450.56 L254.09 437.93 L259.14 425.89 L264.19 414.42 L269.23 403.49 L274.28 393.07 L279.32 383.15 L284.37 373.68 L289.42 364.67 L294.46 356.07 L299.51 347.88 L304.55 340.08 L309.60 332.64 L314.64 325.55 L319.69 318.79 L324.74 312.35 L329.78 306.22 L334.83 300.37 L339.87 294.79 L344.92 289.48 L349.97 284.42 L355.01 279.59 L360.06 275.00 L365.10 270.61 L370.15 266.44 L375.20 262.46 L380.24 258.66 L385.29 255.05 L390.33 251.60 L395.38 248.32 L400.43 245.19 L405.47 242.21 L410.52 239.37 L415.56 236.66 L420.61 234.08 L425.66 231.62 L430.70 229.27 L435.75 227.04 L440.79 224.91 L445.84 222.88 L450.89 220.94 L455.93 219.10 L460.98 217.34 L466.02 215.67 L471.07 214.07 L476.12 212.55 L481.16 211.10 L486.21 209.72 L491.25 208.41 L496.30 207.15 L501.35 205.96 L506.39 204.82 L511.44 203.73 L516.48 202.70 L521.53 201.71 L526.58 200.77 L531.62 199.88 L536.67 199.02 L541.71 198.21 L546.76 197.43 L551.81 196.69 L556.85 195.99 L561.90 195.32 L566.94 194.68 L571.99 194.07 L577.03 193.49 L582.08 192.93 L587.13 192.41 L592.17 191.90 L597.22 191.42 L602.26 190.97 L607.31 190.53 L612.36 190.12 L617.40 189.72 L622.45 189.35 L627.49 188.99 L632.54 188.64 L637.59 188.32 L642.63 188.01 L647.68 187.71 L652.72 187.43 L657.77 187.16 L662.82 186.90 L667.86 186.66 L672.91 186.43 L677.95 186.20 L683.00 185.99"/><path d="M183.45 684.20 L188.50 673.28 L193.54 662.60 L198.59 652.15 L203.63 641.93 L208.68 631.93 L213.73 622.15 L218.77 612.58 L223.82 603.22 L228.86 594.06 L233.91 585.10 L238.96 576.34 L244.00 567.76 L249.05 559.38 L254.09 551.17 L259.14 543.14 L264.19 535.29 L269.23 527.61 L274.28 520.09 L279.32 512.74 L284.37 505.55 L289.42 498.51 L294.46 491.63 L299.51 484.90 L304.55 478.31 L309.60 471.86 L314.64 465.56 L319.69 459.39 L324.74 453.36 L329.78 447.46 L334.83 441.68 L339.87 436.03 L344.92 430.51 L349.97 425.10 L355.01 419.81 L360.06 414.64 L365.10 409.58 L370.15 404.63 L375.20 399.79 L380.24 395.05 L385.29 390.41 L390.33 385.88 L395.38 381.44 L400.43 377.10 L405.47 372.86 L410.52 368.70 L415.56 364.64 L420.61 360.67 L425.66 356.78 L430.70 352.97 L435.75 349.25 L440.79 345.61 L445.84 342.05 L450.89 338.57 L455.93 335.16 L460.98 331.82 L466.02 328.56 L471.07 325.37 L476.12 322.25 L481.16 319.20 L486.21 316.21 L491.25 313.29 L496.30 310.43 L501.35 307.63 L506.39 304.90 L511.44 302.22 L516.48 299.60 L521.53 297.04 L526.58 294.53 L531.62 292.08 L536.67 289.68 L541.71 287.34 L546.76 285.04 L551.81 282.80 L556.85 280.60 L561.90 278.45 L566.94 276.35 L571.99 274.29 L577.03 272.28 L582.08 270.31 L587.13 268.39 L592.17 266.50 L597.22 264.66 L602.26 262.86 L607.31 261.10 L612.36 259.37 L617.40 257.68 L622.45 256.03 L627.49 254.42 L632.54 252.84 L637.59 251.29 L642.63 249.78 L647.68 248.30 L652.72 246.85 L657.77 245.44 L662.82 244.05 L667.86 242.70 L672.91 241.37 L677.95 240.08 L683.00 238.81"/><path d="M183.45 684.20 L188.50 667.36 L193.54 651.09 L198.59 635.36 L203.63 620.16 L208.68 605.46 L213.73 591.26 L218.77 577.54 L223.82 564.28 L228.86 551.46 L233.91 539.07 L238.96 527.09 L244.00 515.52 L249.05 504.33 L254.09 493.52 L259.14 483.07 L264.19 472.97 L269.23 463.21 L274.28 453.78 L279.32 444.66 L284.37 435.85 L289.42 427.33 L294.46 419.10 L299.51 411.15 L304.55 403.46 L309.60 396.03 L314.64 388.85 L319.69 381.90 L324.74 375.20 L329.78 368.71 L334.83 362.45 L339.87 356.39 L344.92 350.54 L349.97 344.88 L355.01 339.41 L360.06 334.13 L365.10 329.02 L370.15 324.08 L375.20 319.31 L380.24 314.70 L385.29 310.24 L390.33 305.93 L395.38 301.77 L400.43 297.75 L405.47 293.86 L410.52 290.10 L415.56 286.47 L420.61 282.96 L425.66 279.56 L430.70 276.29 L435.75 273.12 L440.79 270.05 L445.84 267.09 L450.89 264.23 L455.93 261.47 L460.98 258.79 L466.02 256.21 L471.07 253.71 L476.12 251.30 L481.16 248.97 L486.21 246.71 L491.25 244.53 L496.30 242.43 L501.35 240.39 L506.39 238.43 L511.44 236.53 L516.48 234.69 L521.53 232.91 L526.58 231.20 L531.62 229.54 L536.67 227.94 L541.71 226.39 L546.76 224.89 L551.81 223.44 L556.85 222.04 L561.90 220.69 L566.94 219.38 L571.99 218.12 L577.03 216.90 L582.08 215.72 L587.13 214.58 L592.17 213.48 L597.22 212.41 L602.26 211.39 L607.31 210.39 L612.36 209.43 L617.40 208.50 L622.45 207.60 L627.49 206.73 L632.54 205.90 L637.59 205.08 L642.63 204.30 L647.68 203.54 L652.72 202.81 L657.77 202.10 L662.82 201.42 L667.86 200.76 L672.91 200.12 L677.95 199.50 L683.00 198.91"/><path d="M183.45 684.20 L188.50 660.77 L193.54 638.43 L198.59 617.13 L203.63 596.83 L208.68 577.47 L213.73 559.02 L218.77 541.42 L223.82 524.65 L228.86 508.66 L233.91 493.41 L238.96 478.88 L244.00 465.02 L249.05 451.81 L254.09 439.22 L259.14 427.21 L264.19 415.76 L269.23 404.85 L274.28 394.44 L279.32 384.52 L284.37 375.06 L289.42 366.05 L294.46 357.45 L299.51 349.26 L304.55 341.44 L309.60 333.99 L314.64 326.89 L319.69 320.12 L324.74 313.67 L329.78 307.51 L334.83 301.65 L339.87 296.05 L344.92 290.72 L349.97 285.64 L355.01 280.79 L360.06 276.17 L365.10 271.77 L370.15 267.57 L375.20 263.56 L380.24 259.75 L385.29 256.11 L390.33 252.64 L395.38 249.33 L400.43 246.18 L405.47 243.17 L410.52 240.30 L415.56 237.57 L420.61 234.97 L425.66 232.48 L430.70 230.11 L435.75 227.86 L440.79 225.70 L445.84 223.65 L450.89 221.70 L455.93 219.83 L460.98 218.05 L466.02 216.36 L471.07 214.74 L476.12 213.20 L481.16 211.73 L486.21 210.33 L491.25 209.00 L496.30 207.72 L501.35 206.51 L506.39 205.35 L511.44 204.25 L516.48 203.20 L521.53 202.20 L526.58 201.24 L531.62 200.33 L536.67 199.46 L541.71 198.63 L546.76 197.84 L551.81 197.09 L556.85 196.37 L561.90 195.69 L566.94 195.04 L571.99 194.41 L577.03 193.82 L582.08 193.26 L587.13 192.72 L592.17 192.20 L597.22 191.71 L602.26 191.25 L607.31 190.80 L612.36 190.38 L617.40 189.97 L622.45 189.59 L627.49 189.22 L632.54 188.87 L637.59 188.53 L642.63 188.22 L647.68 187.91 L652.72 187.62 L657.77 187.35 L662.82 187.08 L667.86 186.83 L672.91 186.59 L677.95 186.36 L683.00 186.15"/><path d="M183.45 684.20 L188.50 669.98 L193.54 656.16 L198.59 642.73 L203.63 629.68 L208.68 617.00 L213.73 604.68 L218.77 592.70 L223.82 581.07 L228.86 569.77 L233.91 558.78 L238.96 548.11 L244.00 537.74 L249.05 527.66 L254.09 517.87 L259.14 508.35 L264.19 499.11 L269.23 490.12 L274.28 481.39 L279.32 472.91 L284.37 464.67 L289.42 456.66 L294.46 448.87 L299.51 441.31 L304.55 433.96 L309.60 426.82 L314.64 419.89 L319.69 413.14 L324.74 406.59 L329.78 400.23 L334.83 394.04 L339.87 388.03 L344.92 382.19 L349.97 376.52 L355.01 371.00 L360.06 365.64 L365.10 360.44 L370.15 355.38 L375.20 350.46 L380.24 345.69 L385.29 341.04 L390.33 336.53 L395.38 332.15 L400.43 327.89 L405.47 323.75 L410.52 319.73 L415.56 315.83 L420.61 312.03 L425.66 308.34 L430.70 304.76 L435.75 301.27 L440.79 297.89 L445.84 294.60 L450.89 291.40 L455.93 288.30 L460.98 285.28 L466.02 282.35 L471.07 279.50 L476.12 276.73 L481.16 274.04 L486.21 271.43 L491.25 268.89 L496.30 266.42 L501.35 264.02 L506.39 261.69 L511.44 259.43 L516.48 257.23 L521.53 255.09 L526.58 253.01 L531.62 251.00 L536.67 249.03 L541.71 247.13 L546.76 245.28 L551.81 243.48 L556.85 241.73 L561.90 240.03 L566.94 238.38 L571.99 236.77 L577.03 235.21 L582.08 233.70 L587.13 232.23 L592.17 230.80 L597.22 229.41 L602.26 228.06 L607.31 226.75 L612.36 225.47 L617.40 224.23 L622.45 223.03 L627.49 221.86 L632.54 220.72 L637.59 219.62 L642.63 218.54 L647.68 217.50 L652.72 216.49 L657.77 215.50 L662.82 214.55 L667.86 213.62 L672.91 212.71 L677.95 211.84 L683.00 210.98"/><path d="M183.45 684.20 L188.50 671.59 L193.54 659.29 L198.59 647.30 L203.63 635.61 L208.68 624.21 L213.73 613.11 L218.77 602.28 L223.82 591.72 L228.86 581.42 L233.91 571.39 L238.96 561.61 L244.00 552.07 L249.05 542.77 L254.09 533.71 L259.14 524.87 L264.19 516.25 L269.23 507.86 L274.28 499.67 L279.32 491.69 L284.37 483.90 L289.42 476.32 L294.46 468.92 L299.51 461.71 L304.55 454.68 L309.60 447.83 L314.64 441.15 L319.69 434.63 L324.74 428.28 L329.78 422.09 L334.83 416.06 L339.87 410.18 L344.92 404.44 L349.97 398.85 L355.01 393.40 L360.06 388.08 L365.10 382.90 L370.15 377.85 L375.20 372.93 L380.24 368.13 L385.29 363.45 L390.33 358.88 L395.38 354.44 L400.43 350.10 L405.47 345.87 L410.52 341.75 L415.56 337.73 L420.61 333.81 L425.66 330.00 L430.70 326.27 L435.75 322.64 L440.79 319.11 L445.84 315.66 L450.89 312.29 L455.93 309.01 L460.98 305.82 L466.02 302.70 L471.07 299.67 L476.12 296.70 L481.16 293.82 L486.21 291.00 L491.25 288.26 L496.30 285.58 L501.35 282.98 L506.39 280.43 L511.44 277.95 L516.48 275.54 L521.53 273.18 L526.58 270.89 L531.62 268.65 L536.67 266.46 L541.71 264.34 L546.76 262.26 L551.81 260.24 L556.85 258.27 L561.90 256.35 L566.94 254.47 L571.99 252.64 L577.03 250.86 L582.08 249.13 L587.13 247.43 L592.17 245.78 L597.22 244.18 L602.26 242.61 L607.31 241.08 L612.36 239.59 L617.40 238.13 L622.45 236.72 L627.49 235.34 L632.54 233.99 L637.59 232.68 L642.63 231.40 L647.68 230.15 L652.72 228.93 L657.77 227.75 L662.82 226.59 L667.86 225.46 L672.91 224.37 L677.95 223.29 L683.00 222.25"/><path d="M183.45 684.20 L188.50 668.78 L193.54 653.84 L198.59 639.35 L203.63 625.31 L208.68 611.70 L213.73 598.51 L218.77 585.72 L223.82 573.33 L228.86 561.31 L233.91 549.66 L238.96 538.37 L244.00 527.43 L249.05 516.82 L254.09 506.54 L259.14 496.58 L264.19 486.92 L269.23 477.55 L274.28 468.47 L279.32 459.68 L284.37 451.15 L289.42 442.88 L294.46 434.87 L299.51 427.10 L304.55 419.57 L309.60 412.27 L314.64 405.20 L319.69 398.34 L324.74 391.70 L329.78 385.25 L334.83 379.01 L339.87 372.95 L344.92 367.09 L349.97 361.40 L355.01 355.89 L360.06 350.54 L365.10 345.36 L370.15 340.34 L375.20 335.47 L380.24 330.75 L385.29 326.18 L390.33 321.75 L395.38 317.45 L400.43 313.29 L405.47 309.25 L410.52 305.34 L415.56 301.54 L420.61 297.87 L425.66 294.30 L430.70 290.85 L435.75 287.50 L440.79 284.25 L445.84 281.11 L450.89 278.06 L455.93 275.10 L460.98 272.24 L466.02 269.46 L471.07 266.76 L476.12 264.16 L481.16 261.63 L486.21 259.17 L491.25 256.80 L496.30 254.49 L501.35 252.26 L506.39 250.09 L511.44 248.00 L516.48 245.96 L521.53 243.99 L526.58 242.08 L531.62 240.23 L536.67 238.43 L541.71 236.69 L546.76 235.00 L551.81 233.37 L556.85 231.78 L561.90 230.25 L566.94 228.76 L571.99 227.31 L577.03 225.91 L582.08 224.56 L587.13 223.24 L592.17 221.97 L597.22 220.73 L602.26 219.53 L607.31 218.37 L612.36 217.25 L617.40 216.16 L622.45 215.10 L627.49 214.08 L632.54 213.08 L637.59 212.12 L642.63 211.19 L647.68 210.28 L652.72 209.41 L657.77 208.56 L662.82 207.73 L667.86 206.93 L672.91 206.16 L677.95 205.41 L683.00 204.68"/><path d="M183.45 684.20 L188.50 675.16 L193.54 666.28 L198.59 657.56 L203.63 649.00 L208.68 640.60 L213.73 632.34 L218.77 624.23 L223.82 616.27 L228.86 608.45 L233.91 600.78 L238.96 593.24 L244.00 585.83 L249.05 578.56 L254.09 571.42 L259.14 564.41 L264.19 557.53 L269.23 550.77 L274.28 544.13 L279.32 537.61 L284.37 531.20 L289.42 524.92 L294.46 518.74 L299.51 512.68 L304.55 506.72 L309.60 500.88 L314.64 495.13 L319.69 489.50 L324.74 483.96 L329.78 478.52 L334.83 473.18 L339.87 467.94 L344.92 462.79 L349.97 457.73 L355.01 452.76 L360.06 447.89 L365.10 443.10 L370.15 438.40 L375.20 433.78 L380.24 429.24 L385.29 424.79 L390.33 420.42 L395.38 416.12 L400.43 411.91 L405.47 407.76 L410.52 403.70 L415.56 399.70 L420.61 395.78 L425.66 391.93 L430.70 388.15 L435.75 384.43 L440.79 380.79 L445.84 377.20 L450.89 373.69 L455.93 370.23 L460.98 366.84 L466.02 363.51 L471.07 360.24 L476.12 357.03 L481.16 353.87 L486.21 350.78 L491.25 347.73 L496.30 344.75 L501.35 341.81 L506.39 338.93 L511.44 336.11 L516.48 333.33 L521.53 330.60 L526.58 327.92 L531.62 325.29 L536.67 322.71 L541.71 320.17 L546.76 317.68 L551.81 315.23 L556.85 312.83 L561.90 310.47 L566.94 308.16 L571.99 305.88 L577.03 303.65 L582.08 301.45 L587.13 299.30 L592.17 297.18 L597.22 295.10 L602.26 293.06 L607.31 291.06 L612.36 289.09 L617.40 287.16 L622.45 285.26 L627.49 283.40 L632.54 281.57 L637.59 279.77 L642.63 278.01 L647.68 276.28 L652.72 274.58 L657.77 272.91 L662.82 271.26 L667.86 269.65 L672.91 268.07 L677.95 266.52 L683.00 264.99"/><path d="M183.45 684.20 L188.50 663.03 L193.54 642.75 L198.59 623.33 L203.63 604.73 L208.68 586.91 L213.73 569.84 L218.77 553.48 L223.82 537.82 L228.86 522.82 L233.91 508.45 L238.96 494.68 L244.00 481.50 L249.05 468.87 L254.09 456.77 L259.14 445.18 L264.19 434.08 L269.23 423.45 L274.28 413.27 L279.32 403.51 L284.37 394.17 L289.42 385.22 L294.46 376.64 L299.51 368.43 L304.55 360.56 L309.60 353.03 L314.64 345.81 L319.69 338.90 L324.74 332.28 L329.78 325.93 L334.83 319.86 L339.87 314.04 L344.92 308.46 L349.97 303.12 L355.01 298.01 L360.06 293.11 L365.10 288.41 L370.15 283.92 L375.20 279.61 L380.24 275.49 L385.29 271.54 L390.33 267.75 L395.38 264.13 L400.43 260.65 L405.47 257.33 L410.52 254.14 L415.56 251.09 L420.61 248.17 L425.66 245.37 L430.70 242.68 L435.75 240.12 L440.79 237.65 L445.84 235.30 L450.89 233.04 L455.93 230.88 L460.98 228.81 L466.02 226.82 L471.07 224.92 L476.12 223.10 L481.16 221.36 L486.21 219.68 L491.25 218.08 L496.30 216.55 L501.35 215.08 L506.39 213.68 L511.44 212.33 L516.48 211.04 L521.53 209.80 L526.58 208.62 L531.62 207.49 L536.67 206.40 L541.71 205.36 L546.76 204.36 L551.81 203.41 L556.85 202.49 L561.90 201.62 L566.94 200.78 L571.99 199.97 L577.03 199.20 L582.08 198.47 L587.13 197.76 L592.17 197.08 L597.22 196.44 L602.26 195.82 L607.31 195.22 L612.36 194.65 L617.40 194.11 L622.45 193.58 L627.49 193.08 L632.54 192.60 L637.59 192.14 L642.63 191.70 L647.68 191.28 L652.72 190.88 L657.77 190.49 L662.82 190.12 L667.86 189.77 L672.91 189.43 L677.95 189.10 L683.00 188.79"/><path d="M183.45 684.20 L188.50 672.00 L193.54 660.09 L198.59 648.47 L203.63 637.14 L208.68 626.08 L213.73 615.29 L218.77 604.76 L223.82 594.48 L228.86 584.46 L233.91 574.68 L238.96 565.13 L244.00 555.82 L249.05 546.74 L254.09 537.87 L259.14 529.22 L264.19 520.78 L269.23 512.55 L274.28 504.51 L279.32 496.67 L284.37 489.03 L289.42 481.56 L294.46 474.28 L299.51 467.18 L304.55 460.24 L309.60 453.48 L314.64 446.88 L319.69 440.44 L324.74 434.16 L329.78 428.02 L334.83 422.04 L339.87 416.21 L344.92 410.51 L349.97 404.95 L355.01 399.53 L360.06 394.24 L365.10 389.08 L370.15 384.04 L375.20 379.13 L380.24 374.34 L385.29 369.66 L390.33 365.09 L395.38 360.64 L400.43 356.29 L405.47 352.05 L410.52 347.92 L415.56 343.88 L420.61 339.94 L425.66 336.10 L430.70 332.35 L435.75 328.69 L440.79 325.12 L445.84 321.64 L450.89 318.24 L455.93 314.93 L460.98 311.69 L466.02 308.53 L471.07 305.45 L476.12 302.45 L481.16 299.52 L486.21 296.65 L491.25 293.86 L496.30 291.14 L501.35 288.48 L506.39 285.89 L511.44 283.36 L516.48 280.89 L521.53 278.48 L526.58 276.13 L531.62 273.84 L536.67 271.60 L541.71 269.42 L546.76 267.29 L551.81 265.21 L556.85 263.18 L561.90 261.20 L566.94 259.27 L571.99 257.39 L577.03 255.55 L582.08 253.76 L587.13 252.01 L592.17 250.30 L597.22 248.63 L602.26 247.01 L607.31 245.42 L612.36 243.87 L617.40 242.36 L622.45 240.89 L627.49 239.45 L632.54 238.05 L637.59 236.68 L642.63 235.35 L647.68 234.04 L652.72 232.77 L657.77 231.53 L662.82 230.32 L667.86 229.14 L672.91 227.99 L677.95 226.87 L683.00 225.77"/><path d="M183.45 684.20 L188.50 671.75 L193.54 659.60 L198.59 647.76 L203.63 636.21 L208.68 624.94 L213.73 613.96 L218.77 603.24 L223.82 592.79 L228.86 582.61 L233.91 572.67 L238.96 562.98 L244.00 553.53 L249.05 544.31 L254.09 535.33 L259.14 526.56 L264.19 518.02 L269.23 509.68 L274.28 501.55 L279.32 493.62 L284.37 485.89 L289.42 478.35 L294.46 471.00 L299.51 463.83 L304.55 456.84 L309.60 450.02 L314.64 443.37 L319.69 436.88 L324.74 430.56 L329.78 424.39 L334.83 418.38 L339.87 412.51 L344.92 406.79 L349.97 401.21 L355.01 395.77 L360.06 390.47 L365.10 385.29 L370.15 380.25 L375.20 375.33 L380.24 370.53 L385.29 365.85 L390.33 361.28 L395.38 356.83 L400.43 352.49 L405.47 348.26 L410.52 344.13 L415.56 340.10 L420.61 336.18 L425.66 332.35 L430.70 328.62 L435.75 324.98 L440.79 321.42 L445.84 317.96 L450.89 314.58 L455.93 311.29 L460.98 308.08 L466.02 304.95 L471.07 301.89 L476.12 298.91 L481.16 296.01 L486.21 293.18 L491.25 290.41 L496.30 287.72 L501.35 285.09 L506.39 282.53 L511.44 280.03 L516.48 277.59 L521.53 275.22 L526.58 272.90 L531.62 270.64 L536.67 268.43 L541.71 266.28 L546.76 264.19 L551.81 262.14 L556.85 260.15 L561.90 258.20 L566.94 256.31 L571.99 254.46 L577.03 252.66 L582.08 250.90 L587.13 249.18 L592.17 247.51 L597.22 245.88 L602.26 244.29 L607.31 242.74 L612.36 241.22 L617.40 239.75 L622.45 238.31 L627.49 236.91 L632.54 235.54 L637.59 234.20 L642.63 232.90 L647.68 231.63 L652.72 230.40 L657.77 229.19 L662.82 228.01 L667.86 226.87 L672.91 225.75 L677.95 224.65 L683.00 223.59"/><path d="M183.45 684.20 L188.50 670.91 L193.54 657.98 L198.59 645.39 L203.63 633.13 L208.68 621.19 L213.73 609.57 L218.77 598.26 L223.82 587.24 L228.86 576.52 L233.91 566.08 L238.96 555.92 L244.00 546.02 L249.05 536.39 L254.09 527.01 L259.14 517.88 L264.19 508.99 L269.23 500.34 L274.28 491.91 L279.32 483.71 L284.37 475.73 L289.42 467.95 L294.46 460.38 L299.51 453.02 L304.55 445.84 L309.60 438.86 L314.64 432.06 L319.69 425.44 L324.74 418.99 L329.78 412.72 L334.83 406.61 L339.87 400.67 L344.92 394.88 L349.97 389.24 L355.01 383.75 L360.06 378.41 L365.10 373.21 L370.15 368.14 L375.20 363.22 L380.24 358.42 L385.29 353.74 L390.33 349.19 L395.38 344.77 L400.43 340.45 L405.47 336.26 L410.52 332.17 L415.56 328.19 L420.61 324.32 L425.66 320.55 L430.70 316.88 L435.75 313.30 L440.79 309.82 L445.84 306.43 L450.89 303.14 L455.93 299.93 L460.98 296.80 L466.02 293.76 L471.07 290.79 L476.12 287.91 L481.16 285.10 L486.21 282.37 L491.25 279.71 L496.30 277.11 L501.35 274.59 L506.39 272.14 L511.44 269.74 L516.48 267.42 L521.53 265.15 L526.58 262.94 L531.62 260.80 L536.67 258.70 L541.71 256.67 L546.76 254.69 L551.81 252.76 L556.85 250.88 L561.90 249.05 L566.94 247.27 L571.99 245.53 L577.03 243.85 L582.08 242.20 L587.13 240.60 L592.17 239.05 L597.22 237.53 L602.26 236.05 L607.31 234.62 L612.36 233.22 L617.40 231.86 L622.45 230.53 L627.49 229.24 L632.54 227.98 L637.59 226.76 L642.63 225.57 L647.68 224.41 L652.72 223.28 L657.77 222.18 L662.82 221.11 L667.86 220.07 L672.91 219.05 L677.95 218.06 L683.00 217.10"/><path d="M183.45 684.20 L188.50 671.07 L193.54 658.29 L198.59 645.84 L203.63 633.72 L208.68 621.91 L213.73 610.41 L218.77 599.21 L223.82 588.30 L228.86 577.68 L233.91 567.34 L238.96 557.26 L244.00 547.45 L249.05 537.90 L254.09 528.59 L259.14 519.53 L264.19 510.71 L269.23 502.11 L274.28 493.74 L279.32 485.59 L284.37 477.65 L289.42 469.92 L294.46 462.39 L299.51 455.06 L304.55 447.92 L309.60 440.97 L314.64 434.19 L319.69 427.60 L324.74 421.17 L329.78 414.92 L334.83 408.83 L339.87 402.89 L344.92 397.11 L349.97 391.49 L355.01 386.01 L360.06 380.67 L365.10 375.47 L370.15 370.41 L375.20 365.48 L380.24 360.68 L385.29 356.00 L390.33 351.45 L395.38 347.02 L400.43 342.70 L405.47 338.49 L410.52 334.40 L415.56 330.41 L420.61 326.52 L425.66 322.74 L430.70 319.06 L435.75 315.47 L440.79 311.97 L445.84 308.57 L450.89 305.26 L455.93 302.03 L460.98 298.89 L466.02 295.82 L471.07 292.84 L476.12 289.94 L481.16 287.11 L486.21 284.36 L491.25 281.68 L496.30 279.07 L501.35 276.52 L506.39 274.05 L511.44 271.63 L516.48 269.28 L521.53 267.00 L526.58 264.77 L531.62 262.60 L536.67 260.48 L541.71 258.43 L546.76 256.42 L551.81 254.47 L556.85 252.57 L561.90 250.72 L566.94 248.91 L571.99 247.16 L577.03 245.45 L582.08 243.78 L587.13 242.16 L592.17 240.58 L597.22 239.04 L602.26 237.55 L607.31 236.09 L612.36 234.67 L617.40 233.28 L622.45 231.94 L627.49 230.62 L632.54 229.35 L637.59 228.10 L642.63 226.89 L647.68 225.71 L652.72 224.56 L657.77 223.44 L662.82 222.35 L667.86 221.29 L672.91 220.25 L677.95 219.25 L683.00 218.27"/><path d="M183.45 684.20 L188.50 672.55 L193.54 661.18 L198.59 650.07 L203.63 639.21 L208.68 628.61 L213.73 618.25 L218.77 608.13 L223.82 598.25 L228.86 588.60 L233.91 579.17 L238.96 569.95 L244.00 560.96 L249.05 552.17 L254.09 543.58 L259.14 535.19 L264.19 527.00 L269.23 519.00 L274.28 511.18 L279.32 503.54 L284.37 496.09 L289.42 488.80 L294.46 481.68 L299.51 474.73 L304.55 467.94 L309.60 461.30 L314.64 454.82 L319.69 448.49 L324.74 442.31 L329.78 436.27 L334.83 430.37 L339.87 424.61 L344.92 418.98 L349.97 413.48 L355.01 408.11 L360.06 402.86 L365.10 397.74 L370.15 392.73 L375.20 387.84 L380.24 383.06 L385.29 378.39 L390.33 373.83 L395.38 369.38 L400.43 365.03 L405.47 360.78 L410.52 356.63 L415.56 352.58 L420.61 348.62 L425.66 344.75 L430.70 340.97 L435.75 337.28 L440.79 333.67 L445.84 330.15 L450.89 326.71 L455.93 323.35 L460.98 320.07 L466.02 316.86 L471.07 313.73 L476.12 310.67 L481.16 307.68 L486.21 304.76 L491.25 301.91 L496.30 299.12 L501.35 296.40 L506.39 293.74 L511.44 291.15 L516.48 288.61 L521.53 286.13 L526.58 283.71 L531.62 281.35 L536.67 279.04 L541.71 276.78 L546.76 274.58 L551.81 272.43 L556.85 270.32 L561.90 268.27 L566.94 266.26 L571.99 264.30 L577.03 262.39 L582.08 260.52 L587.13 258.69 L592.17 256.91 L597.22 255.16 L602.26 253.46 L607.31 251.80 L612.36 250.17 L617.40 248.59 L622.45 247.04 L627.49 245.52 L632.54 244.04 L637.59 242.60 L642.63 241.19 L647.68 239.81 L652.72 238.46 L657.77 237.15 L662.82 235.86 L667.86 234.61 L672.91 233.38 L677.95 232.18 L683.00 231.01"/><path d="M183.45 684.20 L188.50 667.61 L193.54 651.57 L198.59 636.06 L203.63 621.06 L208.68 606.55 L213.73 592.53 L218.77 578.96 L223.82 565.85 L228.86 553.17 L233.91 540.90 L238.96 529.04 L244.00 517.58 L249.05 506.49 L254.09 495.77 L259.14 485.40 L264.19 475.37 L269.23 465.68 L274.28 456.30 L279.32 447.24 L284.37 438.47 L289.42 429.99 L294.46 421.80 L299.51 413.87 L304.55 406.21 L309.60 398.79 L314.64 391.63 L319.69 384.70 L324.74 377.99 L329.78 371.51 L334.83 365.25 L339.87 359.19 L344.92 353.33 L349.97 347.66 L355.01 342.18 L360.06 336.89 L365.10 331.76 L370.15 326.81 L375.20 322.02 L380.24 317.39 L385.29 312.91 L390.33 308.57 L395.38 304.39 L400.43 300.34 L405.47 296.42 L410.52 292.63 L415.56 288.97 L420.61 285.43 L425.66 282.00 L430.70 278.69 L435.75 275.49 L440.79 272.39 L445.84 269.40 L450.89 266.50 L455.93 263.70 L460.98 261.00 L466.02 258.38 L471.07 255.85 L476.12 253.40 L481.16 251.03 L486.21 248.74 L491.25 246.53 L496.30 244.39 L501.35 242.32 L506.39 240.32 L511.44 238.38 L516.48 236.51 L521.53 234.70 L526.58 232.95 L531.62 231.26 L536.67 229.63 L541.71 228.04 L546.76 226.51 L551.81 225.03 L556.85 223.60 L561.90 222.22 L566.94 220.88 L571.99 219.59 L577.03 218.34 L582.08 217.13 L587.13 215.96 L592.17 214.83 L597.22 213.73 L602.26 212.68 L607.31 211.65 L612.36 210.66 L617.40 209.71 L622.45 208.78 L627.49 207.89 L632.54 207.03 L637.59 206.19 L642.63 205.38 L647.68 204.60 L652.72 203.84 L657.77 203.11 L662.82 202.41 L667.86 201.72 L672.91 201.06 L677.95 200.42 L683.00 199.80"/><path d="M183.45 684.20 L188.50 671.65 L193.54 659.42 L198.59 647.50 L203.63 635.87 L208.68 624.53 L213.73 613.47 L218.77 602.69 L223.82 592.18 L228.86 581.94 L233.91 571.94 L238.96 562.20 L244.00 552.70 L249.05 543.44 L254.09 534.41 L259.14 525.60 L264.19 517.02 L269.23 508.65 L274.28 500.48 L279.32 492.53 L284.37 484.77 L289.42 477.20 L294.46 469.82 L299.51 462.63 L304.55 455.62 L309.60 448.78 L314.64 442.11 L319.69 435.61 L324.74 429.27 L329.78 423.09 L334.83 417.06 L339.87 411.19 L344.92 405.46 L349.97 399.87 L355.01 394.42 L360.06 389.11 L365.10 383.94 L370.15 378.89 L375.20 373.96 L380.24 369.16 L385.29 364.48 L390.33 359.92 L395.38 355.47 L400.43 351.13 L405.47 346.90 L410.52 342.78 L415.56 338.76 L420.61 334.84 L425.66 331.01 L430.70 327.28 L435.75 323.65 L440.79 320.11 L445.84 316.65 L450.89 313.28 L455.93 310.00 L460.98 306.79 L466.02 303.67 L471.07 300.63 L476.12 297.66 L481.16 294.76 L486.21 291.94 L491.25 289.19 L496.30 286.50 L501.35 283.89 L506.39 281.34 L511.44 278.85 L516.48 276.42 L521.53 274.06 L526.58 271.75 L531.62 269.50 L536.67 267.31 L541.71 265.18 L546.76 263.09 L551.81 261.06 L556.85 259.08 L561.90 257.15 L566.94 255.26 L571.99 253.43 L577.03 251.64 L582.08 249.89 L587.13 248.19 L592.17 246.53 L597.22 244.91 L602.26 243.33 L607.31 241.79 L612.36 240.29 L617.40 238.83 L622.45 237.40 L627.49 236.01 L632.54 234.66 L637.59 233.33 L642.63 232.05 L647.68 230.79 L652.72 229.56 L657.77 228.37 L662.82 227.20 L667.86 226.07 L672.91 224.96 L677.95 223.88 L683.00 222.83"/><path d="M183.45 684.20 L188.50 667.62 L193.54 651.59 L198.59 636.09 L203.63 621.09 L208.68 606.60 L213.73 592.58 L218.77 579.02 L223.82 565.91 L228.86 553.24 L233.91 540.98 L238.96 529.13 L244.00 517.66 L249.05 506.58 L254.09 495.86 L259.14 485.49 L264.19 475.47 L269.23 465.78 L274.28 456.41 L279.32 447.34 L284.37 438.58 L289.42 430.10 L294.46 421.91 L299.51 413.98 L304.55 406.32 L309.60 398.91 L314.64 391.74 L319.69 384.81 L324.74 378.11 L329.78 371.63 L334.83 365.36 L339.87 359.30 L344.92 353.44 L349.97 347.78 L355.01 342.30 L360.06 337.00 L365.10 331.88 L370.15 326.92 L375.20 322.13 L380.24 317.50 L385.29 313.02 L390.33 308.68 L395.38 304.49 L400.43 300.44 L405.47 296.53 L410.52 292.74 L415.56 289.07 L420.61 285.53 L425.66 282.10 L430.70 278.79 L435.75 275.59 L440.79 272.49 L445.84 269.50 L450.89 266.60 L455.93 263.80 L460.98 261.09 L466.02 258.47 L471.07 255.94 L476.12 253.49 L481.16 251.12 L486.21 248.83 L491.25 246.61 L496.30 244.47 L501.35 242.40 L506.39 240.40 L511.44 238.46 L516.48 236.59 L521.53 234.78 L526.58 233.03 L531.62 231.33 L536.67 229.70 L541.71 228.11 L546.76 226.58 L551.81 225.10 L556.85 223.67 L561.90 222.28 L566.94 220.94 L571.99 219.65 L577.03 218.40 L582.08 217.19 L587.13 216.02 L592.17 214.88 L597.22 213.79 L602.26 212.73 L607.31 211.71 L612.36 210.72 L617.40 209.76 L622.45 208.83 L627.49 207.94 L632.54 207.07 L637.59 206.24 L642.63 205.43 L647.68 204.64 L652.72 203.89 L657.77 203.15 L662.82 202.45 L667.86 201.76 L672.91 201.10 L677.95 200.46 L683.00 199.84"/><path d="M183.45 684.20 L188.50 654.25 L193.54 626.08 L198.59 599.59 L203.63 574.68 L208.68 551.26 L213.73 529.23 L218.77 508.52 L223.82 489.04 L228.86 470.72 L233.91 453.49 L238.96 437.29 L244.00 422.05 L249.05 407.73 L254.09 394.25 L259.14 381.58 L264.19 369.67 L269.23 358.47 L274.28 347.93 L279.32 338.02 L284.37 328.70 L289.42 319.94 L294.46 311.70 L299.51 303.95 L304.55 296.67 L309.60 289.81 L314.64 283.37 L319.69 277.31 L324.74 271.61 L329.78 266.25 L334.83 261.21 L339.87 256.47 L344.92 252.01 L349.97 247.82 L355.01 243.88 L360.06 240.18 L365.10 236.69 L370.15 233.41 L375.20 230.33 L380.24 227.43 L385.29 224.71 L390.33 222.14 L395.38 219.73 L400.43 217.46 L405.47 215.33 L410.52 213.33 L415.56 211.44 L420.61 209.67 L425.66 208.00 L430.70 206.43 L435.75 204.96 L440.79 203.57 L445.84 202.27 L450.89 201.04 L455.93 199.89 L460.98 198.81 L466.02 197.79 L471.07 196.83 L476.12 195.93 L481.16 195.08 L486.21 194.28 L491.25 193.53 L496.30 192.83 L501.35 192.16 L506.39 191.54 L511.44 190.95 L516.48 190.40 L521.53 189.88 L526.58 189.39 L531.62 188.94 L536.67 188.50 L541.71 188.10 L546.76 187.72 L551.81 187.36 L556.85 187.02 L561.90 186.70 L566.94 186.41 L571.99 186.13 L577.03 185.86 L582.08 185.61 L587.13 185.38 L592.17 185.16 L597.22 184.95 L602.26 184.76 L607.31 184.58 L612.36 184.41 L617.40 184.25 L622.45 184.09 L627.49 183.95 L632.54 183.82 L637.59 183.69 L642.63 183.57 L647.68 183.46 L652.72 183.36 L657.77 183.26 L662.82 183.16 L667.86 183.08 L672.91 182.99 L677.95 182.92 L683.00 182.84"/><path d="M183.45 684.20 L188.50 672.02 L193.54 660.14 L198.59 648.55 L203.63 637.23 L208.68 626.20 L213.73 615.42 L218.77 604.91 L223.82 594.66 L228.86 584.65 L233.91 574.89 L238.96 565.36 L244.00 556.06 L249.05 546.99 L254.09 538.14 L259.14 529.50 L264.19 521.07 L269.23 512.85 L274.28 504.82 L279.32 496.99 L284.37 489.35 L289.42 481.90 L294.46 474.62 L299.51 467.53 L304.55 460.60 L309.60 453.84 L314.64 447.25 L319.69 440.81 L324.74 434.53 L329.78 428.41 L334.83 422.43 L339.87 416.59 L344.92 410.90 L349.97 405.35 L355.01 399.93 L360.06 394.64 L365.10 389.48 L370.15 384.44 L375.20 379.53 L380.24 374.74 L385.29 370.06 L390.33 365.50 L395.38 361.04 L400.43 356.70 L405.47 352.45 L410.52 348.32 L415.56 344.28 L420.61 340.34 L425.66 336.50 L430.70 332.74 L435.75 329.08 L440.79 325.51 L445.84 322.03 L450.89 318.63 L455.93 315.31 L460.98 312.07 L466.02 308.91 L471.07 305.83 L476.12 302.82 L481.16 299.89 L486.21 297.02 L491.25 294.23 L496.30 291.50 L501.35 288.84 L506.39 286.24 L511.44 283.71 L516.48 281.24 L521.53 278.83 L526.58 276.47 L531.62 274.18 L536.67 271.94 L541.71 269.75 L546.76 267.62 L551.81 265.53 L556.85 263.50 L561.90 261.52 L566.94 259.59 L571.99 257.70 L577.03 255.86 L582.08 254.06 L587.13 252.31 L592.17 250.59 L597.22 248.93 L602.26 247.30 L607.31 245.71 L612.36 244.16 L617.40 242.64 L622.45 241.17 L627.49 239.72 L632.54 238.32 L637.59 236.95 L642.63 235.61 L647.68 234.30 L652.72 233.03 L657.77 231.78 L662.82 230.57 L667.86 229.38 L672.91 228.23 L677.95 227.10 L683.00 226.00"/><path d="M183.45 684.20 L188.50 667.05 L193.54 650.48 L198.59 634.47 L203.63 619.02 L208.68 604.09 L213.73 589.67 L218.77 575.74 L223.82 562.29 L228.86 549.29 L233.91 536.75 L238.96 524.62 L244.00 512.92 L249.05 501.61 L254.09 490.69 L259.14 480.14 L264.19 469.95 L269.23 460.11 L274.28 450.61 L279.32 441.43 L284.37 432.56 L289.42 424.00 L294.46 415.72 L299.51 407.74 L304.55 400.02 L309.60 392.57 L314.64 385.37 L319.69 378.41 L324.74 371.70 L329.78 365.21 L334.83 358.95 L339.87 352.90 L344.92 347.05 L349.97 341.41 L355.01 335.96 L360.06 330.69 L365.10 325.60 L370.15 320.69 L375.20 315.95 L380.24 311.36 L385.29 306.94 L390.33 302.66 L395.38 298.53 L400.43 294.54 L405.47 290.69 L410.52 286.97 L415.56 283.38 L420.61 279.90 L425.66 276.55 L430.70 273.31 L435.75 270.19 L440.79 267.17 L445.84 264.25 L450.89 261.43 L455.93 258.71 L460.98 256.08 L466.02 253.54 L471.07 251.09 L476.12 248.72 L481.16 246.43 L486.21 244.22 L491.25 242.09 L496.30 240.03 L501.35 238.03 L506.39 236.11 L511.44 234.25 L516.48 232.46 L521.53 230.73 L526.58 229.05 L531.62 227.44 L536.67 225.87 L541.71 224.37 L546.76 222.91 L551.81 221.50 L556.85 220.14 L561.90 218.83 L566.94 217.56 L571.99 216.34 L577.03 215.16 L582.08 214.02 L587.13 212.91 L592.17 211.85 L597.22 210.82 L602.26 209.82 L607.31 208.86 L612.36 207.94 L617.40 207.04 L622.45 206.18 L627.49 205.34 L632.54 204.53 L637.59 203.75 L642.63 203.00 L647.68 202.27 L652.72 201.57 L657.77 200.89 L662.82 200.24 L667.86 199.60 L672.91 198.99 L677.95 198.40 L683.00 197.83"/><path d="M183.45 684.20 L188.50 669.24 L193.54 654.72 L198.59 640.63 L203.63 626.96 L208.68 613.70 L213.73 600.84 L218.77 588.36 L223.82 576.24 L228.86 564.49 L233.91 553.10 L238.96 542.03 L244.00 531.30 L249.05 520.89 L254.09 510.79 L259.14 500.99 L264.19 491.48 L269.23 482.26 L274.28 473.31 L279.32 464.62 L284.37 456.20 L289.42 448.02 L294.46 440.09 L299.51 432.40 L304.55 424.93 L309.60 417.69 L314.64 410.66 L319.69 403.84 L324.74 397.22 L329.78 390.81 L334.83 384.58 L339.87 378.54 L344.92 372.67 L349.97 366.99 L355.01 361.47 L360.06 356.12 L365.10 350.92 L370.15 345.88 L375.20 340.99 L380.24 336.25 L385.29 331.65 L390.33 327.18 L395.38 322.85 L400.43 318.65 L405.47 314.57 L410.52 310.61 L415.56 306.77 L420.61 303.05 L425.66 299.43 L430.70 295.93 L435.75 292.52 L440.79 289.22 L445.84 286.02 L450.89 282.92 L455.93 279.90 L460.98 276.98 L466.02 274.14 L471.07 271.39 L476.12 268.72 L481.16 266.12 L486.21 263.61 L491.25 261.17 L496.30 258.80 L501.35 256.51 L506.39 254.28 L511.44 252.12 L516.48 250.02 L521.53 247.99 L526.58 246.01 L531.62 244.10 L536.67 242.24 L541.71 240.44 L546.76 238.69 L551.81 236.99 L556.85 235.34 L561.90 233.75 L566.94 232.20 L571.99 230.69 L577.03 229.23 L582.08 227.82 L587.13 226.44 L592.17 225.11 L597.22 223.82 L602.26 222.56 L607.31 221.35 L612.36 220.17 L617.40 219.02 L622.45 217.91 L627.49 216.83 L632.54 215.79 L637.59 214.77 L642.63 213.79 L647.68 212.83 L652.72 211.90 L657.77 211.00 L662.82 210.13 L667.86 209.28 L672.91 208.46 L677.95 207.67 L683.00 206.89"/><path d="M183.45 684.20 L188.50 669.04 L193.54 654.33 L198.59 640.07 L203.63 626.24 L208.68 612.82 L213.73 599.81 L218.77 587.19 L223.82 574.96 L228.86 563.09 L233.91 551.58 L238.96 540.42 L244.00 529.60 L249.05 519.10 L254.09 508.92 L259.14 499.04 L264.19 489.47 L269.23 480.18 L274.28 471.17 L279.32 462.44 L284.37 453.96 L289.42 445.75 L294.46 437.78 L299.51 430.05 L304.55 422.56 L309.60 415.29 L314.64 408.24 L319.69 401.41 L324.74 394.78 L329.78 388.35 L334.83 382.11 L339.87 376.06 L344.92 370.20 L349.97 364.51 L355.01 358.99 L360.06 353.64 L365.10 348.45 L370.15 343.42 L375.20 338.54 L380.24 333.81 L385.29 329.22 L390.33 324.77 L395.38 320.45 L400.43 316.26 L405.47 312.20 L410.52 308.26 L415.56 304.44 L420.61 300.74 L425.66 297.15 L430.70 293.66 L435.75 290.29 L440.79 287.01 L445.84 283.83 L450.89 280.75 L455.93 277.76 L460.98 274.86 L466.02 272.05 L471.07 269.32 L476.12 266.68 L481.16 264.12 L486.21 261.63 L491.25 259.22 L496.30 256.88 L501.35 254.61 L506.39 252.41 L511.44 250.27 L516.48 248.21 L521.53 246.20 L526.58 244.25 L531.62 242.36 L536.67 240.53 L541.71 238.76 L546.76 237.04 L551.81 235.37 L556.85 233.75 L561.90 232.18 L566.94 230.65 L571.99 229.18 L577.03 227.74 L582.08 226.35 L587.13 225.01 L592.17 223.70 L597.22 222.43 L602.26 221.20 L607.31 220.01 L612.36 218.86 L617.40 217.73 L622.45 216.65 L627.49 215.59 L632.54 214.57 L637.59 213.58 L642.63 212.62 L647.68 211.68 L652.72 210.78 L657.77 209.90 L662.82 209.05 L667.86 208.22 L672.91 207.42 L677.95 206.65 L683.00 205.89"/></g>
<rect x="159.35" y="158.85" width="547.75" height="549.60" fill="none" stroke="#000" stroke-width="2.2"/>
<line x1="183.45" x2="183.45" y1="708.45" y2="719.75" stroke="#000" stroke-width="1.9"/>
<text class="t" x="183.1" y="748.2" font-size="32" text-anchor="middle">0</text>
<line x1="266.71" x2="266.71" y1="708.45" y2="719.75" stroke="#000" stroke-width="1.9"/>
<text class="t" x="266.4" y="748.2" font-size="32" text-anchor="middle">4</text>
<line x1="349.97" x2="349.97" y1="708.45" y2="719.75" stroke="#000" stroke-width="1.9"/>
<text class="t" x="349.7" y="748.2" font-size="32" text-anchor="middle">8</text>
<line x1="433.23" x2="433.23" y1="708.45" y2="719.75" stroke="#000" stroke-width="1.9"/>
<text class="t" x="432.9" y="748.2" font-size="32" text-anchor="middle">12</text>
<line x1="516.48" x2="516.48" y1="708.45" y2="719.75" stroke="#000" stroke-width="1.9"/>
<text class="t" x="516.2" y="748.2" font-size="32" text-anchor="middle">16</text>
<line x1="599.74" x2="599.74" y1="708.45" y2="719.75" stroke="#000" stroke-width="1.9"/>
<text class="t" x="599.4" y="748.2" font-size="32" text-anchor="middle">20</text>
<line x1="683.00" x2="683.00" y1="708.45" y2="719.75" stroke="#000" stroke-width="1.9"/>
<text class="t" x="682.7" y="748.2" font-size="32" text-anchor="middle">24</text>
<line x1="147.85" x2="159.35" y1="684.05" y2="684.05" stroke="#000" stroke-width="1.9"/>
<text class="t" x="140.8" y="694.8" font-size="32" text-anchor="end">0.00</text>
<line x1="147.85" x2="159.35" y1="558.45" y2="558.45" stroke="#000" stroke-width="1.9"/>
<text class="t" x="140.8" y="569.2" font-size="32" text-anchor="end">0.25</text>
<line x1="147.85" x2="159.35" y1="432.85" y2="432.85" stroke="#000" stroke-width="1.9"/>
<text class="t" x="140.8" y="443.6" font-size="32" text-anchor="end">0.50</text>
<line x1="147.85" x2="159.35" y1="307.25" y2="307.25" stroke="#000" stroke-width="1.9"/>
<text class="t" x="140.8" y="318.1" font-size="32" text-anchor="end">0.75</text>
<line x1="147.85" x2="159.35" y1="181.65" y2="181.65" stroke="#000" stroke-width="1.9"/>
<text class="t" x="140.8" y="192.4" font-size="32" text-anchor="end">1.00</text>
<text class="t" x="433.2" y="792" font-size="40" text-anchor="middle">age</text>
<text class="t" transform="translate(66.0,433.9) rotate(-90)" font-size="40" text-anchor="middle">body mass</text>
<g fill="none" stroke="#000" stroke-opacity="0.5" stroke-width="1.9" stroke-linejoin="round"><path d="M875.10 684.30 L880.15 684.30 L885.20 684.30 L890.25 684.28 L895.30 684.24 L900.35 684.18 L905.40 684.07 L910.45 683.90 L915.50 683.66 L920.55 683.35 L925.61 682.95 L930.66 682.44 L935.71 681.83 L940.76 681.10 L945.81 680.24 L950.86 679.26 L955.91 678.14 L960.96 676.88 L966.01 675.48 L971.06 673.93 L976.11 672.24 L981.16 670.41 L986.21 668.42 L991.26 666.30 L996.31 664.03 L1001.36 661.62 L1006.41 659.07 L1011.46 656.38 L1016.51 653.57 L1021.56 650.63 L1026.62 647.57 L1031.67 644.38 L1036.72 641.09 L1041.77 637.69 L1046.82 634.19 L1051.87 630.59 L1056.92 626.89 L1061.97 623.12 L1067.02 619.26 L1072.07 615.33 L1077.12 611.32 L1082.17 607.26 L1087.22 603.13 L1092.27 598.96 L1097.32 594.73 L1102.37 590.46 L1107.42 586.16 L1112.47 581.82 L1117.52 577.46 L1122.57 573.07 L1127.63 568.67 L1132.68 564.25 L1137.73 559.82 L1142.78 555.38 L1147.83 550.94 L1152.88 546.51 L1157.93 542.08 L1162.98 537.65 L1168.03 533.24 L1173.08 528.85 L1178.13 524.47 L1183.18 520.12 L1188.23 515.79 L1193.28 511.48 L1198.33 507.21 L1203.38 502.96 L1208.43 498.75 L1213.48 494.57 L1218.53 490.43 L1223.58 486.32 L1228.64 482.26 L1233.69 478.23 L1238.74 474.25 L1243.79 470.32 L1248.84 466.42 L1253.89 462.58 L1258.94 458.78 L1263.99 455.03 L1269.04 451.32 L1274.09 447.67 L1279.14 444.06 L1284.19 440.51 L1289.24 437.00 L1294.29 433.55 L1299.34 430.14 L1304.39 426.79 L1309.44 423.49 L1314.49 420.24 L1319.54 417.04 L1324.59 413.89 L1329.65 410.80 L1334.70 407.75 L1339.75 404.76 L1344.80 401.81 L1349.85 398.92 L1354.90 396.08 L1359.95 393.29 L1365.00 390.54 L1370.05 387.85 L1375.10 385.21"/><path d="M875.10 684.30 L880.15 684.30 L885.20 684.30 L890.25 684.30 L895.30 684.30 L900.35 684.30 L905.40 684.30 L910.45 684.30 L915.50 684.30 L920.55 684.30 L925.61 684.29 L930.66 684.28 L935.71 684.27 L940.76 684.24 L945.81 684.21 L950.86 684.15 L955.91 684.06 L960.96 683.94 L966.01 683.78 L971.06 683.57 L976.11 683.29 L981.16 682.94 L986.21 682.49 L991.26 681.95 L996.31 681.29 L1001.36 680.50 L1006.41 679.57 L1011.46 678.48 L1016.51 677.23 L1021.56 675.80 L1026.62 674.19 L1031.67 672.37 L1036.72 670.36 L1041.77 668.13 L1046.82 665.68 L1051.87 663.01 L1056.92 660.12 L1061.97 657.00 L1067.02 653.66 L1072.07 650.09 L1077.12 646.31 L1082.17 642.31 L1087.22 638.09 L1092.27 633.68 L1097.32 629.06 L1102.37 624.25 L1107.42 619.27 L1112.47 614.11 L1117.52 608.79 L1122.57 603.33 L1127.63 597.72 L1132.68 591.98 L1137.73 586.13 L1142.78 580.17 L1147.83 574.11 L1152.88 567.98 L1157.93 561.77 L1162.98 555.50 L1168.03 549.18 L1173.08 542.82 L1178.13 536.44 L1183.18 530.04 L1188.23 523.63 L1193.28 517.22 L1198.33 510.82 L1203.38 504.44 L1208.43 498.08 L1213.48 491.76 L1218.53 485.48 L1223.58 479.25 L1228.64 473.07 L1233.69 466.95 L1238.74 460.90 L1243.79 454.92 L1248.84 449.01 L1253.89 443.18 L1258.94 437.44 L1263.99 431.78 L1269.04 426.21 L1274.09 420.73 L1279.14 415.35 L1284.19 410.06 L1289.24 404.87 L1294.29 399.78 L1299.34 394.79 L1304.39 389.90 L1309.44 385.11 L1314.49 380.43 L1319.54 375.84 L1324.59 371.36 L1329.65 366.98 L1334.70 362.71 L1339.75 358.53 L1344.80 354.46 L1349.85 350.48 L1354.90 346.61 L1359.95 342.83 L1365.00 339.15 L1370.05 335.57 L1375.10 332.08"/><path d="M875.10 684.30 L880.15 684.30 L885.20 684.30 L890.25 684.27 L895.30 684.22 L900.35 684.10 L905.40 683.89 L910.45 683.56 L915.50 683.07 L920.55 682.40 L925.61 681.53 L930.66 680.41 L935.71 679.05 L940.76 677.40 L945.81 675.47 L950.86 673.24 L955.91 670.70 L960.96 667.85 L966.01 664.70 L971.06 661.24 L976.11 657.48 L981.16 653.42 L986.21 649.08 L991.26 644.48 L996.31 639.61 L1001.36 634.51 L1006.41 629.18 L1011.46 623.64 L1016.51 617.90 L1021.56 611.99 L1026.62 605.92 L1031.67 599.71 L1036.72 593.38 L1041.77 586.93 L1046.82 580.40 L1051.87 573.79 L1056.92 567.13 L1061.97 560.42 L1067.02 553.67 L1072.07 546.92 L1077.12 540.15 L1082.17 533.40 L1087.22 526.67 L1092.27 519.96 L1097.32 513.30 L1102.37 506.68 L1107.42 500.13 L1112.47 493.63 L1117.52 487.21 L1122.57 480.87 L1127.63 474.62 L1132.68 468.45 L1137.73 462.38 L1142.78 456.41 L1147.83 450.54 L1152.88 444.78 L1157.93 439.12 L1162.98 433.57 L1168.03 428.14 L1173.08 422.82 L1178.13 417.62 L1183.18 412.53 L1188.23 407.55 L1193.28 402.70 L1198.33 397.95 L1203.38 393.33 L1208.43 388.82 L1213.48 384.42 L1218.53 380.14 L1223.58 375.97 L1228.64 371.91 L1233.69 367.96 L1238.74 364.12 L1243.79 360.39 L1248.84 356.76 L1253.89 353.23 L1258.94 349.81 L1263.99 346.48 L1269.04 343.26 L1274.09 340.12 L1279.14 337.09 L1284.19 334.14 L1289.24 331.28 L1294.29 328.52 L1299.34 325.83 L1304.39 323.23 L1309.44 320.72 L1314.49 318.28 L1319.54 315.92 L1324.59 313.63 L1329.65 311.42 L1334.70 309.28 L1339.75 307.21 L1344.80 305.20 L1349.85 303.26 L1354.90 301.39 L1359.95 299.58 L1365.00 297.82 L1370.05 296.13 L1375.10 294.49"/><path d="M875.10 684.30 L880.15 684.30 L885.20 684.30 L890.25 684.30 L895.30 684.29 L900.35 684.28 L905.40 684.25 L910.45 684.20 L915.50 684.11 L920.55 683.96 L925.61 683.76 L930.66 683.46 L935.71 683.07 L940.76 682.56 L945.81 681.91 L950.86 681.11 L955.91 680.14 L960.96 678.98 L966.01 677.63 L971.06 676.07 L976.11 674.29 L981.16 672.28 L986.21 670.03 L991.26 667.55 L996.31 664.83 L1001.36 661.86 L1006.41 658.65 L1011.46 655.20 L1016.51 651.52 L1021.56 647.60 L1026.62 643.46 L1031.67 639.11 L1036.72 634.54 L1041.77 629.78 L1046.82 624.83 L1051.87 619.70 L1056.92 614.41 L1061.97 608.96 L1067.02 603.36 L1072.07 597.64 L1077.12 591.79 L1082.17 585.84 L1087.22 579.79 L1092.27 573.66 L1097.32 567.46 L1102.37 561.20 L1107.42 554.89 L1112.47 548.54 L1117.52 542.16 L1122.57 535.76 L1127.63 529.35 L1132.68 522.95 L1137.73 516.55 L1142.78 510.18 L1147.83 503.82 L1152.88 497.50 L1157.93 491.22 L1162.98 484.99 L1168.03 478.81 L1173.08 472.69 L1178.13 466.63 L1183.18 460.63 L1188.23 454.71 L1193.28 448.87 L1198.33 443.10 L1203.38 437.42 L1208.43 431.82 L1213.48 426.31 L1218.53 420.89 L1223.58 415.57 L1228.64 410.33 L1233.69 405.20 L1238.74 400.16 L1243.79 395.21 L1248.84 390.37 L1253.89 385.62 L1258.94 380.97 L1263.99 376.42 L1269.04 371.97 L1274.09 367.62 L1279.14 363.36 L1284.19 359.20 L1289.24 355.14 L1294.29 351.18 L1299.34 347.31 L1304.39 343.53 L1309.44 339.84 L1314.49 336.25 L1319.54 332.75 L1324.59 329.34 L1329.65 326.01 L1334.70 322.77 L1339.75 319.62 L1344.80 316.55 L1349.85 313.56 L1354.90 310.65 L1359.95 307.82 L1365.00 305.07 L1370.05 302.40 L1375.10 299.80"/><path d="M875.10 684.30 L880.15 684.30 L885.20 684.30 L890.25 684.30 L895.30 684.30 L900.35 684.30 L905.40 684.30 L910.45 684.30 L915.50 684.29 L920.55 684.29 L925.61 684.28 L930.66 684.26 L935.71 684.24 L940.76 684.20 L945.81 684.16 L950.86 684.10 L955.91 684.03 L960.96 683.93 L966.01 683.82 L971.06 683.68 L976.11 683.50 L981.16 683.30 L986.21 683.06 L991.26 682.78 L996.31 682.45 L1001.36 682.08 L1006.41 681.66 L1011.46 681.18 L1016.51 680.65 L1021.56 680.05 L1026.62 679.39 L1031.67 678.67 L1036.72 677.87 L1041.77 677.01 L1046.82 676.07 L1051.87 675.05 L1056.92 673.95 L1061.97 672.78 L1067.02 671.52 L1072.07 670.18 L1077.12 668.75 L1082.17 667.24 L1087.22 665.65 L1092.27 663.97 L1097.32 662.20 L1102.37 660.34 L1107.42 658.40 L1112.47 656.38 L1117.52 654.27 L1122.57 652.07 L1127.63 649.79 L1132.68 647.43 L1137.73 644.99 L1142.78 642.47 L1147.83 639.87 L1152.88 637.19 L1157.93 634.44 L1162.98 631.62 L1168.03 628.73 L1173.08 625.77 L1178.13 622.74 L1183.18 619.64 L1188.23 616.49 L1193.28 613.28 L1198.33 610.01 L1203.38 606.68 L1208.43 603.30 L1213.48 599.88 L1218.53 596.40 L1223.58 592.88 L1228.64 589.32 L1233.69 585.72 L1238.74 582.09 L1243.79 578.42 L1248.84 574.72 L1253.89 570.98 L1258.94 567.23 L1263.99 563.44 L1269.04 559.64 L1274.09 555.81 L1279.14 551.97 L1284.19 548.12 L1289.24 544.25 L1294.29 540.37 L1299.34 536.48 L1304.39 532.59 L1309.44 528.69 L1314.49 524.79 L1319.54 520.89 L1324.59 516.99 L1329.65 513.10 L1334.70 509.21 L1339.75 505.33 L1344.80 501.46 L1349.85 497.59 L1354.90 493.74 L1359.95 489.91 L1365.00 486.08 L1370.05 482.28 L1375.10 478.49"/><path d="M875.10 684.30 L880.15 684.30 L885.20 684.30 L890.25 684.30 L895.30 684.30 L900.35 684.30 L905.40 684.29 L910.45 684.29 L915.50 684.27 L920.55 684.25 L925.61 684.22 L930.66 684.17 L935.71 684.10 L940.76 684.00 L945.81 683.88 L950.86 683.71 L955.91 683.50 L960.96 683.25 L966.01 682.93 L971.06 682.55 L976.11 682.10 L981.16 681.58 L986.21 680.97 L991.26 680.26 L996.31 679.47 L1001.36 678.56 L1006.41 677.56 L1011.46 676.43 L1016.51 675.20 L1021.56 673.83 L1026.62 672.35 L1031.67 670.73 L1036.72 668.98 L1041.77 667.10 L1046.82 665.08 L1051.87 662.93 L1056.92 660.63 L1061.97 658.20 L1067.02 655.64 L1072.07 652.93 L1077.12 650.09 L1082.17 647.11 L1087.22 644.00 L1092.27 640.76 L1097.32 637.39 L1102.37 633.89 L1107.42 630.28 L1112.47 626.54 L1117.52 622.69 L1122.57 618.72 L1127.63 614.65 L1132.68 610.48 L1137.73 606.21 L1142.78 601.84 L1147.83 597.38 L1152.88 592.84 L1157.93 588.22 L1162.98 583.52 L1168.03 578.75 L1173.08 573.91 L1178.13 569.01 L1183.18 564.06 L1188.23 559.05 L1193.28 554.00 L1198.33 548.90 L1203.38 543.77 L1208.43 538.60 L1213.48 533.40 L1218.53 528.18 L1223.58 522.94 L1228.64 517.68 L1233.69 512.42 L1238.74 507.14 L1243.79 501.85 L1248.84 496.57 L1253.89 491.29 L1258.94 486.02 L1263.99 480.75 L1269.04 475.50 L1274.09 470.26 L1279.14 465.05 L1284.19 459.85 L1289.24 454.68 L1294.29 449.54 L1299.34 444.42 L1304.39 439.34 L1309.44 434.29 L1314.49 429.27 L1319.54 424.30 L1324.59 419.36 L1329.65 414.46 L1334.70 409.61 L1339.75 404.80 L1344.80 400.04 L1349.85 395.33 L1354.90 390.66 L1359.95 386.05 L1365.00 381.48 L1370.05 376.97 L1375.10 372.51"/><path d="M875.10 684.30 L880.15 684.30 L885.20 684.30 L890.25 684.29 L895.30 684.28 L900.35 684.25 L905.40 684.20 L910.45 684.12 L915.50 683.99 L920.55 683.81 L925.61 683.56 L930.66 683.23 L935.71 682.82 L940.76 682.31 L945.81 681.69 L950.86 680.95 L955.91 680.09 L960.96 679.10 L966.01 677.97 L971.06 676.69 L976.11 675.27 L981.16 673.70 L986.21 671.97 L991.26 670.09 L996.31 668.05 L1001.36 665.86 L1006.41 663.51 L1011.46 661.02 L1016.51 658.37 L1021.56 655.58 L1026.62 652.64 L1031.67 649.57 L1036.72 646.36 L1041.77 643.03 L1046.82 639.57 L1051.87 635.99 L1056.92 632.30 L1061.97 628.51 L1067.02 624.61 L1072.07 620.62 L1077.12 616.55 L1082.17 612.39 L1087.22 608.16 L1092.27 603.86 L1097.32 599.50 L1102.37 595.08 L1107.42 590.61 L1112.47 586.10 L1117.52 581.56 L1122.57 576.98 L1127.63 572.37 L1132.68 567.74 L1137.73 563.10 L1142.78 558.44 L1147.83 553.78 L1152.88 549.12 L1157.93 544.47 L1162.98 539.81 L1168.03 535.18 L1173.08 530.55 L1178.13 525.95 L1183.18 521.37 L1188.23 516.81 L1193.28 512.28 L1198.33 507.79 L1203.38 503.33 L1208.43 498.90 L1213.48 494.52 L1218.53 490.18 L1223.58 485.88 L1228.64 481.63 L1233.69 477.42 L1238.74 473.27 L1243.79 469.16 L1248.84 465.11 L1253.89 461.11 L1258.94 457.16 L1263.99 453.27 L1269.04 449.43 L1274.09 445.65 L1279.14 441.93 L1284.19 438.27 L1289.24 434.66 L1294.29 431.11 L1299.34 427.62 L1304.39 424.19 L1309.44 420.81 L1314.49 417.50 L1319.54 414.24 L1324.59 411.04 L1329.65 407.90 L1334.70 404.82 L1339.75 401.80 L1344.80 398.83 L1349.85 395.92 L1354.90 393.07 L1359.95 390.27 L1365.00 387.53 L1370.05 384.85 L1375.10 382.22"/><path d="M875.10 684.30 L880.15 684.30 L885.20 684.30 L890.25 684.30 L895.30 684.30 L900.35 684.30 L905.40 684.30 L910.45 684.29 L915.50 684.29 L920.55 684.28 L925.61 684.27 L930.66 684.25 L935.71 684.22 L940.76 684.18 L945.81 684.13 L950.86 684.07 L955.91 683.99 L960.96 683.89 L966.01 683.76 L971.06 683.61 L976.11 683.44 L981.16 683.23 L986.21 682.99 L991.26 682.71 L996.31 682.39 L1001.36 682.03 L1006.41 681.62 L1011.46 681.16 L1016.51 680.66 L1021.56 680.10 L1026.62 679.49 L1031.67 678.81 L1036.72 678.08 L1041.77 677.29 L1046.82 676.44 L1051.87 675.53 L1056.92 674.54 L1061.97 673.50 L1067.02 672.38 L1072.07 671.20 L1077.12 669.95 L1082.17 668.64 L1087.22 667.25 L1092.27 665.80 L1097.32 664.28 L1102.37 662.69 L1107.42 661.03 L1112.47 659.31 L1117.52 657.52 L1122.57 655.67 L1127.63 653.75 L1132.68 651.78 L1137.73 649.74 L1142.78 647.64 L1147.83 645.48 L1152.88 643.26 L1157.93 640.99 L1162.98 638.67 L1168.03 636.29 L1173.08 633.87 L1178.13 631.39 L1183.18 628.87 L1188.23 626.31 L1193.28 623.70 L1198.33 621.05 L1203.38 618.36 L1208.43 615.64 L1213.48 612.88 L1218.53 610.09 L1223.58 607.27 L1228.64 604.42 L1233.69 601.54 L1238.74 598.64 L1243.79 595.72 L1248.84 592.78 L1253.89 589.81 L1258.94 586.83 L1263.99 583.84 L1269.04 580.83 L1274.09 577.81 L1279.14 574.78 L1284.19 571.75 L1289.24 568.70 L1294.29 565.66 L1299.34 562.60 L1304.39 559.55 L1309.44 556.50 L1314.49 553.45 L1319.54 550.40 L1324.59 547.36 L1329.65 544.32 L1334.70 541.29 L1339.75 538.27 L1344.80 535.26 L1349.85 532.25 L1354.90 529.26 L1359.95 526.29 L1365.00 523.32 L1370.05 520.37 L1375.10 517.44"/><path d="M875.10 684.30 L880.15 684.30 L885.20 684.30 L890.25 684.30 L895.30 684.30 L900.35 684.29 L905.40 684.28 L910.45 684.27 L915.50 684.24 L920.55 684.20 L925.61 684.14 L930.66 684.05 L935.71 683.94 L940.76 683.79 L945.81 683.60 L950.86 683.36 L955.91 683.07 L960.96 682.73 L966.01 682.32 L971.06 681.84 L976.11 681.29 L981.16 680.65 L986.21 679.94 L991.26 679.14 L996.31 678.25 L1001.36 677.26 L1006.41 676.17 L1011.46 674.99 L1016.51 673.70 L1021.56 672.30 L1026.62 670.80 L1031.67 669.20 L1036.72 667.48 L1041.77 665.66 L1046.82 663.73 L1051.87 661.70 L1056.92 659.56 L1061.97 657.31 L1067.02 654.96 L1072.07 652.51 L1077.12 649.96 L1082.17 647.32 L1087.22 644.58 L1092.27 641.75 L1097.32 638.83 L1102.37 635.82 L1107.42 632.73 L1112.47 629.56 L1117.52 626.32 L1122.57 623.00 L1127.63 619.62 L1132.68 616.17 L1137.73 612.66 L1142.78 609.09 L1147.83 605.46 L1152.88 601.79 L1157.93 598.07 L1162.98 594.30 L1168.03 590.50 L1173.08 586.66 L1178.13 582.79 L1183.18 578.89 L1188.23 574.96 L1193.28 571.01 L1198.33 567.05 L1203.38 563.06 L1208.43 559.07 L1213.48 555.06 L1218.53 551.05 L1223.58 547.04 L1228.64 543.02 L1233.69 539.01 L1238.74 535.00 L1243.79 531.00 L1248.84 527.01 L1253.89 523.02 L1258.94 519.06 L1263.99 515.11 L1269.04 511.17 L1274.09 507.26 L1279.14 503.37 L1284.19 499.50 L1289.24 495.65 L1294.29 491.84 L1299.34 488.05 L1304.39 484.29 L1309.44 480.56 L1314.49 476.86 L1319.54 473.20 L1324.59 469.57 L1329.65 465.98 L1334.70 462.42 L1339.75 458.90 L1344.80 455.41 L1349.85 451.97 L1354.90 448.56 L1359.95 445.20 L1365.00 441.87 L1370.05 438.58 L1375.10 435.34"/><path d="M875.10 684.30 L880.15 684.30 L885.20 684.30 L890.25 684.30 L895.30 684.30 L900.35 684.29 L905.40 684.29 L910.45 684.27 L915.50 684.24 L920.55 684.20 L925.61 684.13 L930.66 684.03 L935.71 683.89 L940.76 683.70 L945.81 683.46 L950.86 683.15 L955.91 682.77 L960.96 682.30 L966.01 681.73 L971.06 681.06 L976.11 680.28 L981.16 679.38 L986.21 678.35 L991.26 677.19 L996.31 675.88 L1001.36 674.43 L1006.41 672.82 L1011.46 671.06 L1016.51 669.14 L1021.56 667.06 L1026.62 664.82 L1031.67 662.41 L1036.72 659.85 L1041.77 657.12 L1046.82 654.23 L1051.87 651.19 L1056.92 647.99 L1061.97 644.64 L1067.02 641.14 L1072.07 637.50 L1077.12 633.72 L1082.17 629.81 L1087.22 625.77 L1092.27 621.61 L1097.32 617.34 L1102.37 612.95 L1107.42 608.47 L1112.47 603.89 L1117.52 599.22 L1122.57 594.46 L1127.63 589.64 L1132.68 584.74 L1137.73 579.78 L1142.78 574.76 L1147.83 569.70 L1152.88 564.59 L1157.93 559.44 L1162.98 554.26 L1168.03 549.06 L1173.08 543.84 L1178.13 538.61 L1183.18 533.36 L1188.23 528.12 L1193.28 522.88 L1198.33 517.64 L1203.38 512.42 L1208.43 507.21 L1213.48 502.02 L1218.53 496.85 L1223.58 491.72 L1228.64 486.61 L1233.69 481.54 L1238.74 476.51 L1243.79 471.52 L1248.84 466.57 L1253.89 461.67 L1258.94 456.82 L1263.99 452.02 L1269.04 447.27 L1274.09 442.57 L1279.14 437.94 L1284.19 433.36 L1289.24 428.84 L1294.29 424.38 L1299.34 419.98 L1304.39 415.65 L1309.44 411.38 L1314.49 407.18 L1319.54 403.04 L1324.59 398.96 L1329.65 394.96 L1334.70 391.01 L1339.75 387.14 L1344.80 383.33 L1349.85 379.59 L1354.90 375.92 L1359.95 372.31 L1365.00 368.77 L1370.05 365.29 L1375.10 361.88"/><path d="M875.10 684.30 L880.15 684.30 L885.20 684.30 L890.25 684.30 L895.30 684.29 L900.35 684.28 L905.40 684.24 L910.45 684.19 L915.50 684.10 L920.55 683.97 L925.61 683.78 L930.66 683.52 L935.71 683.18 L940.76 682.75 L945.81 682.22 L950.86 681.56 L955.91 680.78 L960.96 679.86 L966.01 678.79 L971.06 677.57 L976.11 676.18 L981.16 674.62 L986.21 672.88 L991.26 670.97 L996.31 668.87 L1001.36 666.59 L1006.41 664.12 L1011.46 661.47 L1016.51 658.64 L1021.56 655.62 L1026.62 652.43 L1031.67 649.06 L1036.72 645.53 L1041.77 641.82 L1046.82 637.96 L1051.87 633.95 L1056.92 629.78 L1061.97 625.48 L1067.02 621.05 L1072.07 616.49 L1077.12 611.81 L1082.17 607.03 L1087.22 602.14 L1092.27 597.16 L1097.32 592.09 L1102.37 586.94 L1107.42 581.72 L1112.47 576.44 L1117.52 571.11 L1122.57 565.72 L1127.63 560.30 L1132.68 554.84 L1137.73 549.36 L1142.78 543.85 L1147.83 538.33 L1152.88 532.81 L1157.93 527.28 L1162.98 521.76 L1168.03 516.25 L1173.08 510.75 L1178.13 505.27 L1183.18 499.82 L1188.23 494.39 L1193.28 489.00 L1198.33 483.64 L1203.38 478.33 L1208.43 473.06 L1213.48 467.84 L1218.53 462.66 L1223.58 457.54 L1228.64 452.48 L1233.69 447.47 L1238.74 442.53 L1243.79 437.64 L1248.84 432.82 L1253.89 428.06 L1258.94 423.38 L1263.99 418.75 L1269.04 414.20 L1274.09 409.72 L1279.14 405.31 L1284.19 400.97 L1289.24 396.70 L1294.29 392.50 L1299.34 388.38 L1304.39 384.33 L1309.44 380.35 L1314.49 376.44 L1319.54 372.61 L1324.59 368.85 L1329.65 365.16 L1334.70 361.54 L1339.75 358.00 L1344.80 354.52 L1349.85 351.12 L1354.90 347.79 L1359.95 344.52 L1365.00 341.32 L1370.05 338.20 L1375.10 335.14"/><path d="M875.10 684.30 L880.15 684.30 L885.20 684.30 L890.25 684.30 L895.30 684.30 L900.35 684.30 L905.40 684.30 L910.45 684.29 L915.50 684.28 L920.55 684.27 L925.61 684.25 L930.66 684.22 L935.71 684.18 L940.76 684.13 L945.81 684.06 L950.86 683.97 L955.91 683.85 L960.96 683.71 L966.01 683.54 L971.06 683.33 L976.11 683.09 L981.16 682.80 L986.21 682.47 L991.26 682.10 L996.31 681.67 L1001.36 681.18 L1006.41 680.64 L1011.46 680.04 L1016.51 679.37 L1021.56 678.64 L1026.62 677.84 L1031.67 676.97 L1036.72 676.03 L1041.77 675.02 L1046.82 673.93 L1051.87 672.77 L1056.92 671.53 L1061.97 670.21 L1067.02 668.82 L1072.07 667.35 L1077.12 665.80 L1082.17 664.18 L1087.22 662.48 L1092.27 660.70 L1097.32 658.85 L1102.37 656.93 L1107.42 654.93 L1112.47 652.87 L1117.52 650.73 L1122.57 648.53 L1127.63 646.26 L1132.68 643.93 L1137.73 641.53 L1142.78 639.08 L1147.83 636.57 L1152.88 634.00 L1157.93 631.38 L1162.98 628.71 L1168.03 625.99 L1173.08 623.22 L1178.13 620.41 L1183.18 617.56 L1188.23 614.67 L1193.28 611.74 L1198.33 608.78 L1203.38 605.79 L1208.43 602.77 L1213.48 599.73 L1218.53 596.65 L1223.58 593.56 L1228.64 590.45 L1233.69 587.32 L1238.74 584.17 L1243.79 581.02 L1248.84 577.85 L1253.89 574.67 L1258.94 571.49 L1263.99 568.30 L1269.04 565.11 L1274.09 561.92 L1279.14 558.73 L1284.19 555.54 L1289.24 552.36 L1294.29 549.18 L1299.34 546.01 L1304.39 542.85 L1309.44 539.70 L1314.49 536.56 L1319.54 533.44 L1324.59 530.33 L1329.65 527.24 L1334.70 524.16 L1339.75 521.11 L1344.80 518.07 L1349.85 515.05 L1354.90 512.05 L1359.95 509.08 L1365.00 506.13 L1370.05 503.20 L1375.10 500.30"/><path d="M875.10 684.30 L880.15 684.30 L885.20 684.30 L890.25 684.30 L895.30 684.30 L900.35 684.29 L905.40 684.27 L910.45 684.25 L915.50 684.20 L920.55 684.14 L925.61 684.04 L930.66 683.91 L935.71 683.73 L940.76 683.50 L945.81 683.21 L950.86 682.85 L955.91 682.41 L960.96 681.89 L966.01 681.29 L971.06 680.58 L976.11 679.77 L981.16 678.85 L986.21 677.82 L991.26 676.67 L996.31 675.39 L1001.36 673.99 L1006.41 672.46 L1011.46 670.80 L1016.51 669.01 L1021.56 667.09 L1026.62 665.04 L1031.67 662.85 L1036.72 660.53 L1041.77 658.08 L1046.82 655.51 L1051.87 652.81 L1056.92 649.99 L1061.97 647.05 L1067.02 644.00 L1072.07 640.83 L1077.12 637.56 L1082.17 634.18 L1087.22 630.70 L1092.27 627.13 L1097.32 623.47 L1102.37 619.73 L1107.42 615.91 L1112.47 612.01 L1117.52 608.04 L1122.57 604.01 L1127.63 599.92 L1132.68 595.78 L1137.73 591.59 L1142.78 587.35 L1147.83 583.07 L1152.88 578.76 L1157.93 574.42 L1162.98 570.06 L1168.03 565.67 L1173.08 561.27 L1178.13 556.85 L1183.18 552.43 L1188.23 548.00 L1193.28 543.57 L1198.33 539.15 L1203.38 534.73 L1208.43 530.32 L1213.48 525.93 L1218.53 521.55 L1223.58 517.19 L1228.64 512.85 L1233.69 508.54 L1238.74 504.25 L1243.79 500.00 L1248.84 495.77 L1253.89 491.58 L1258.94 487.43 L1263.99 483.31 L1269.04 479.23 L1274.09 475.20 L1279.14 471.20 L1284.19 467.25 L1289.24 463.35 L1294.29 459.49 L1299.34 455.67 L1304.39 451.91 L1309.44 448.19 L1314.49 444.52 L1319.54 440.91 L1324.59 437.34 L1329.65 433.82 L1334.70 430.36 L1339.75 426.95 L1344.80 423.59 L1349.85 420.28 L1354.90 417.03 L1359.95 413.82 L1365.00 410.67 L1370.05 407.57 L1375.10 404.53"/><path d="M875.10 684.30 L880.15 684.30 L885.20 684.30 L890.25 684.30 L895.30 684.30 L900.35 684.30 L905.40 684.29 L910.45 684.27 L915.50 684.23 L920.55 684.18 L925.61 684.08 L930.66 683.95 L935.71 683.75 L940.76 683.49 L945.81 683.14 L950.86 682.69 L955.91 682.12 L960.96 681.43 L966.01 680.58 L971.06 679.58 L976.11 678.41 L981.16 677.05 L986.21 675.50 L991.26 673.74 L996.31 671.78 L1001.36 669.59 L1006.41 667.19 L1011.46 664.57 L1016.51 661.72 L1021.56 658.64 L1026.62 655.35 L1031.67 651.84 L1036.72 648.11 L1041.77 644.17 L1046.82 640.04 L1051.87 635.70 L1056.92 631.19 L1061.97 626.49 L1067.02 621.63 L1072.07 616.61 L1077.12 611.45 L1082.17 606.15 L1087.22 600.72 L1092.27 595.18 L1097.32 589.54 L1102.37 583.81 L1107.42 578.00 L1112.47 572.12 L1117.52 566.18 L1122.57 560.19 L1127.63 554.17 L1132.68 548.12 L1137.73 542.05 L1142.78 535.97 L1147.83 529.89 L1152.88 523.82 L1157.93 517.77 L1162.98 511.74 L1168.03 505.74 L1173.08 499.77 L1178.13 493.85 L1183.18 487.98 L1188.23 482.17 L1193.28 476.41 L1198.33 470.72 L1203.38 465.10 L1208.43 459.54 L1213.48 454.07 L1218.53 448.67 L1223.58 443.36 L1228.64 438.13 L1233.69 432.98 L1238.74 427.93 L1243.79 422.96 L1248.84 418.09 L1253.89 413.30 L1258.94 408.61 L1263.99 404.02 L1269.04 399.52 L1274.09 395.11 L1279.14 390.80 L1284.19 386.58 L1289.24 382.45 L1294.29 378.42 L1299.34 374.48 L1304.39 370.64 L1309.44 366.89 L1314.49 363.22 L1319.54 359.65 L1324.59 356.17 L1329.65 352.77 L1334.70 349.46 L1339.75 346.24 L1344.80 343.10 L1349.85 340.04 L1354.90 337.07 L1359.95 334.17 L1365.00 331.35 L1370.05 328.61 L1375.10 325.95"/><path d="M875.10 684.30 L880.15 684.30 L885.20 684.30 L890.25 684.30 L895.30 684.30 L900.35 684.29 L905.40 684.29 L910.45 684.27 L915.50 684.25 L920.55 684.21 L925.61 684.15 L930.66 684.08 L935.71 683.98 L940.76 683.84 L945.81 683.68 L950.86 683.47 L955.91 683.21 L960.96 682.91 L966.01 682.55 L971.06 682.13 L976.11 681.64 L981.16 681.09 L986.21 680.46 L991.26 679.75 L996.31 678.96 L1001.36 678.09 L1006.41 677.13 L1011.46 676.08 L1016.51 674.94 L1021.56 673.70 L1026.62 672.37 L1031.67 670.94 L1036.72 669.41 L1041.77 667.78 L1046.82 666.06 L1051.87 664.23 L1056.92 662.31 L1061.97 660.29 L1067.02 658.17 L1072.07 655.96 L1077.12 653.65 L1082.17 651.25 L1087.22 648.76 L1092.27 646.18 L1097.32 643.52 L1102.37 640.77 L1107.42 637.93 L1112.47 635.02 L1117.52 632.04 L1122.57 628.98 L1127.63 625.85 L1132.68 622.65 L1137.73 619.39 L1142.78 616.07 L1147.83 612.68 L1152.88 609.25 L1157.93 605.76 L1162.98 602.23 L1168.03 598.64 L1173.08 595.02 L1178.13 591.36 L1183.18 587.66 L1188.23 583.93 L1193.28 580.17 L1198.33 576.39 L1203.38 572.58 L1208.43 568.75 L1213.48 564.90 L1218.53 561.04 L1223.58 557.16 L1228.64 553.27 L1233.69 549.38 L1238.74 545.49 L1243.79 541.59 L1248.84 537.69 L1253.89 533.79 L1258.94 529.90 L1263.99 526.02 L1269.04 522.14 L1274.09 518.28 L1279.14 514.42 L1284.19 510.59 L1289.24 506.76 L1294.29 502.96 L1299.34 499.18 L1304.39 495.42 L1309.44 491.68 L1314.49 487.96 L1319.54 484.27 L1324.59 480.60 L1329.65 476.97 L1334.70 473.36 L1339.75 469.78 L1344.80 466.23 L1349.85 462.72 L1354.90 459.23 L1359.95 455.78 L1365.00 452.36 L1370.05 448.98 L1375.10 445.63"/><path d="M875.10 684.30 L880.15 684.30 L885.20 684.30 L890.25 684.30 L895.30 684.30 L900.35 684.30 L905.40 684.29 L910.45 684.28 L915.50 684.26 L920.55 684.22 L925.61 684.17 L930.66 684.09 L935.71 683.98 L940.76 683.84 L945.81 683.65 L950.86 683.42 L955.91 683.12 L960.96 682.76 L966.01 682.32 L971.06 681.80 L976.11 681.20 L981.16 680.49 L986.21 679.69 L991.26 678.78 L996.31 677.75 L1001.36 676.61 L1006.41 675.34 L1011.46 673.95 L1016.51 672.42 L1021.56 670.76 L1026.62 668.97 L1031.67 667.04 L1036.72 664.98 L1041.77 662.78 L1046.82 660.44 L1051.87 657.96 L1056.92 655.35 L1061.97 652.61 L1067.02 649.74 L1072.07 646.74 L1077.12 643.62 L1082.17 640.37 L1087.22 637.01 L1092.27 633.53 L1097.32 629.95 L1102.37 626.26 L1107.42 622.47 L1112.47 618.59 L1117.52 614.62 L1122.57 610.56 L1127.63 606.42 L1132.68 602.21 L1137.73 597.93 L1142.78 593.59 L1147.83 589.19 L1152.88 584.74 L1157.93 580.23 L1162.98 575.69 L1168.03 571.11 L1173.08 566.49 L1178.13 561.85 L1183.18 557.18 L1188.23 552.50 L1193.28 547.80 L1198.33 543.09 L1203.38 538.38 L1208.43 533.66 L1213.48 528.95 L1218.53 524.24 L1223.58 519.54 L1228.64 514.86 L1233.69 510.19 L1238.74 505.54 L1243.79 500.92 L1248.84 496.32 L1253.89 491.75 L1258.94 487.21 L1263.99 482.70 L1269.04 478.23 L1274.09 473.79 L1279.14 469.40 L1284.19 465.05 L1289.24 460.74 L1294.29 456.47 L1299.34 452.25 L1304.39 448.08 L1309.44 443.96 L1314.49 439.89 L1319.54 435.86 L1324.59 431.90 L1329.65 427.98 L1334.70 424.11 L1339.75 420.31 L1344.80 416.55 L1349.85 412.85 L1354.90 409.21 L1359.95 405.62 L1365.00 402.08 L1370.05 398.61 L1375.10 395.19"/><path d="M875.10 684.30 L880.15 684.30 L885.20 684.30 L890.25 684.30 L895.30 684.28 L900.35 684.25 L905.40 684.19 L910.45 684.08 L915.50 683.92 L920.55 683.67 L925.61 683.33 L930.66 682.87 L935.71 682.28 L940.76 681.53 L945.81 680.62 L950.86 679.51 L955.91 678.20 L960.96 676.67 L966.01 674.92 L971.06 672.93 L976.11 670.69 L981.16 668.20 L986.21 665.45 L991.26 662.45 L996.31 659.19 L1001.36 655.66 L1006.41 651.89 L1011.46 647.86 L1016.51 643.58 L1021.56 639.06 L1026.62 634.31 L1031.67 629.34 L1036.72 624.15 L1041.77 618.75 L1046.82 613.16 L1051.87 607.38 L1056.92 601.43 L1061.97 595.31 L1067.02 589.05 L1072.07 582.65 L1077.12 576.12 L1082.17 569.47 L1087.22 562.72 L1092.27 555.89 L1097.32 548.97 L1102.37 541.98 L1107.42 534.93 L1112.47 527.84 L1117.52 520.71 L1122.57 513.55 L1127.63 506.37 L1132.68 499.19 L1137.73 492.00 L1142.78 484.83 L1147.83 477.67 L1152.88 470.54 L1157.93 463.43 L1162.98 456.37 L1168.03 449.35 L1173.08 442.38 L1178.13 435.46 L1183.18 428.61 L1188.23 421.82 L1193.28 415.10 L1198.33 408.46 L1203.38 401.89 L1208.43 395.41 L1213.48 389.01 L1218.53 382.70 L1223.58 376.48 L1228.64 370.35 L1233.69 364.31 L1238.74 358.37 L1243.79 352.52 L1248.84 346.78 L1253.89 341.13 L1258.94 335.59 L1263.99 330.14 L1269.04 324.79 L1274.09 319.55 L1279.14 314.41 L1284.19 309.37 L1289.24 304.42 L1294.29 299.58 L1299.34 294.84 L1304.39 290.20 L1309.44 285.66 L1314.49 281.22 L1319.54 276.87 L1324.59 272.62 L1329.65 268.47 L1334.70 264.41 L1339.75 260.44 L1344.80 256.57 L1349.85 252.78 L1354.90 249.09 L1359.95 245.48 L1365.00 241.96 L1370.05 238.53 L1375.10 235.18"/><path d="M875.10 684.30 L880.15 684.30 L885.20 684.30 L890.25 684.29 L895.30 684.27 L900.35 684.24 L905.40 684.19 L910.45 684.12 L915.50 684.03 L920.55 683.90 L925.61 683.75 L930.66 683.55 L935.71 683.32 L940.76 683.05 L945.81 682.73 L950.86 682.36 L955.91 681.95 L960.96 681.48 L966.01 680.96 L971.06 680.38 L976.11 679.75 L981.16 679.06 L986.21 678.32 L991.26 677.51 L996.31 676.64 L1001.36 675.71 L1006.41 674.73 L1011.46 673.68 L1016.51 672.57 L1021.56 671.40 L1026.62 670.17 L1031.67 668.88 L1036.72 667.54 L1041.77 666.13 L1046.82 664.67 L1051.87 663.15 L1056.92 661.57 L1061.97 659.94 L1067.02 658.25 L1072.07 656.51 L1077.12 654.72 L1082.17 652.88 L1087.22 650.99 L1092.27 649.05 L1097.32 647.07 L1102.37 645.04 L1107.42 642.97 L1112.47 640.85 L1117.52 638.70 L1122.57 636.50 L1127.63 634.27 L1132.68 632.00 L1137.73 629.69 L1142.78 627.35 L1147.83 624.98 L1152.88 622.58 L1157.93 620.15 L1162.98 617.69 L1168.03 615.20 L1173.08 612.69 L1178.13 610.16 L1183.18 607.61 L1188.23 605.03 L1193.28 602.43 L1198.33 599.82 L1203.38 597.19 L1208.43 594.55 L1213.48 591.89 L1218.53 589.21 L1223.58 586.53 L1228.64 583.84 L1233.69 581.13 L1238.74 578.42 L1243.79 575.70 L1248.84 572.98 L1253.89 570.25 L1258.94 567.52 L1263.99 564.78 L1269.04 562.05 L1274.09 559.31 L1279.14 556.57 L1284.19 553.84 L1289.24 551.11 L1294.29 548.38 L1299.34 545.65 L1304.39 542.93 L1309.44 540.21 L1314.49 537.50 L1319.54 534.80 L1324.59 532.10 L1329.65 529.41 L1334.70 526.74 L1339.75 524.07 L1344.80 521.41 L1349.85 518.76 L1354.90 516.13 L1359.95 513.50 L1365.00 510.89 L1370.05 508.29 L1375.10 505.70"/><path d="M875.10 684.30 L880.15 684.30 L885.20 684.30 L890.25 684.30 L895.30 684.30 L900.35 684.30 L905.40 684.30 L910.45 684.30 L915.50 684.30 L920.55 684.30 L925.61 684.29 L930.66 684.28 L935.71 684.27 L940.76 684.25 L945.81 684.22 L950.86 684.18 L955.91 684.12 L960.96 684.04 L966.01 683.93 L971.06 683.79 L976.11 683.61 L981.16 683.38 L986.21 683.09 L991.26 682.75 L996.31 682.33 L1001.36 681.84 L1006.41 681.26 L1011.46 680.58 L1016.51 679.80 L1021.56 678.90 L1026.62 677.88 L1031.67 676.74 L1036.72 675.46 L1041.77 674.03 L1046.82 672.46 L1051.87 670.73 L1056.92 668.84 L1061.97 666.78 L1067.02 664.55 L1072.07 662.15 L1077.12 659.58 L1082.17 656.83 L1087.22 653.90 L1092.27 650.79 L1097.32 647.50 L1102.37 644.04 L1107.42 640.39 L1112.47 636.58 L1117.52 632.59 L1122.57 628.44 L1127.63 624.12 L1132.68 619.64 L1137.73 615.00 L1142.78 610.21 L1147.83 605.28 L1152.88 600.21 L1157.93 595.01 L1162.98 589.68 L1168.03 584.23 L1173.08 578.67 L1178.13 572.99 L1183.18 567.22 L1188.23 561.36 L1193.28 555.41 L1198.33 549.38 L1203.38 543.28 L1208.43 537.12 L1213.48 530.89 L1218.53 524.62 L1223.58 518.30 L1228.64 511.95 L1233.69 505.56 L1238.74 499.15 L1243.79 492.72 L1248.84 486.27 L1253.89 479.83 L1258.94 473.38 L1263.99 466.93 L1269.04 460.49 L1274.09 454.07 L1279.14 447.67 L1284.19 441.30 L1289.24 434.95 L1294.29 428.63 L1299.34 422.36 L1304.39 416.12 L1309.44 409.93 L1314.49 403.78 L1319.54 397.69 L1324.59 391.65 L1329.65 385.67 L1334.70 379.75 L1339.75 373.88 L1344.80 368.09 L1349.85 362.36 L1354.90 356.69 L1359.95 351.10 L1365.00 345.58 L1370.05 340.13 L1375.10 334.75"/><path d="M875.10 684.30 L880.15 684.30 L885.20 684.30 L890.25 684.30 L895.30 684.30 L900.35 684.30 L905.40 684.30 L910.45 684.29 L915.50 684.27 L920.55 684.24 L925.61 684.20 L930.66 684.12 L935.71 684.01 L940.76 683.85 L945.81 683.63 L950.86 683.34 L955.91 682.97 L960.96 682.49 L966.01 681.89 L971.06 681.17 L976.11 680.30 L981.16 679.27 L986.21 678.08 L991.26 676.70 L996.31 675.14 L1001.36 673.37 L1006.41 671.40 L1011.46 669.21 L1016.51 666.81 L1021.56 664.19 L1026.62 661.35 L1031.67 658.29 L1036.72 655.01 L1041.77 651.52 L1046.82 647.82 L1051.87 643.91 L1056.92 639.81 L1061.97 635.52 L1067.02 631.05 L1072.07 626.40 L1077.12 621.59 L1082.17 616.63 L1087.22 611.53 L1092.27 606.30 L1097.32 600.95 L1102.37 595.49 L1107.42 589.93 L1112.47 584.29 L1117.52 578.58 L1122.57 572.80 L1127.63 566.97 L1132.68 561.09 L1137.73 555.19 L1142.78 549.26 L1147.83 543.32 L1152.88 537.37 L1157.93 531.43 L1162.98 525.51 L1168.03 519.60 L1173.08 513.73 L1178.13 507.89 L1183.18 502.09 L1188.23 496.34 L1193.28 490.65 L1198.33 485.01 L1203.38 479.44 L1208.43 473.93 L1213.48 468.50 L1218.53 463.15 L1223.58 457.87 L1228.64 452.67 L1233.69 447.56 L1238.74 442.54 L1243.79 437.61 L1248.84 432.76 L1253.89 428.01 L1258.94 423.35 L1263.99 418.79 L1269.04 414.32 L1274.09 409.94 L1279.14 405.66 L1284.19 401.47 L1289.24 397.38 L1294.29 393.39 L1299.34 389.49 L1304.39 385.68 L1309.44 381.96 L1314.49 378.34 L1319.54 374.81 L1324.59 371.36 L1329.65 368.01 L1334.70 364.74 L1339.75 361.56 L1344.80 358.47 L1349.85 355.46 L1354.90 352.53 L1359.95 349.68 L1365.00 346.92 L1370.05 344.23 L1375.10 341.61"/><path d="M875.10 684.30 L880.15 684.30 L885.20 684.29 L890.25 684.27 L895.30 684.21 L900.35 684.09 L905.40 683.89 L910.45 683.58 L915.50 683.16 L920.55 682.59 L925.61 681.86 L930.66 680.96 L935.71 679.86 L940.76 678.56 L945.81 677.06 L950.86 675.34 L955.91 673.40 L960.96 671.24 L966.01 668.86 L971.06 666.26 L976.11 663.45 L981.16 660.43 L986.21 657.21 L991.26 653.79 L996.31 650.18 L1001.36 646.40 L1006.41 642.44 L1011.46 638.33 L1016.51 634.08 L1021.56 629.68 L1026.62 625.16 L1031.67 620.53 L1036.72 615.79 L1041.77 610.96 L1046.82 606.05 L1051.87 601.07 L1056.92 596.02 L1061.97 590.92 L1067.02 585.79 L1072.07 580.62 L1077.12 575.42 L1082.17 570.21 L1087.22 565.00 L1092.27 559.78 L1097.32 554.57 L1102.37 549.38 L1107.42 544.21 L1112.47 539.07 L1117.52 533.96 L1122.57 528.88 L1127.63 523.85 L1132.68 518.87 L1137.73 513.94 L1142.78 509.07 L1147.83 504.25 L1152.88 499.50 L1157.93 494.81 L1162.98 490.19 L1168.03 485.63 L1173.08 481.15 L1178.13 476.75 L1183.18 472.41 L1188.23 468.16 L1193.28 463.98 L1198.33 459.88 L1203.38 455.85 L1208.43 451.91 L1213.48 448.04 L1218.53 444.25 L1223.58 440.55 L1228.64 436.92 L1233.69 433.37 L1238.74 429.90 L1243.79 426.51 L1248.84 423.19 L1253.89 419.95 L1258.94 416.79 L1263.99 413.70 L1269.04 410.69 L1274.09 407.75 L1279.14 404.89 L1284.19 402.09 L1289.24 399.37 L1294.29 396.71 L1299.34 394.12 L1304.39 391.60 L1309.44 389.15 L1314.49 386.76 L1319.54 384.43 L1324.59 382.17 L1329.65 379.97 L1334.70 377.82 L1339.75 375.74 L1344.80 373.71 L1349.85 371.74 L1354.90 369.82 L1359.95 367.96 L1365.00 366.15 L1370.05 364.39 L1375.10 362.68"/><path d="M875.10 684.30 L880.15 684.30 L885.20 684.30 L890.25 684.30 L895.30 684.30 L900.35 684.29 L905.40 684.28 L910.45 684.25 L915.50 684.21 L920.55 684.14 L925.61 684.05 L930.66 683.92 L935.71 683.75 L940.76 683.53 L945.81 683.24 L950.86 682.89 L955.91 682.47 L960.96 681.96 L966.01 681.36 L971.06 680.67 L976.11 679.88 L981.16 678.97 L986.21 677.95 L991.26 676.82 L996.31 675.56 L1001.36 674.18 L1006.41 672.66 L1011.46 671.02 L1016.51 669.25 L1021.56 667.34 L1026.62 665.30 L1031.67 663.12 L1036.72 660.82 L1041.77 658.38 L1046.82 655.82 L1051.87 653.13 L1056.92 650.32 L1061.97 647.38 L1067.02 644.33 L1072.07 641.17 L1077.12 637.89 L1082.17 634.52 L1087.22 631.04 L1092.27 627.46 L1097.32 623.79 L1102.37 620.04 L1107.42 616.21 L1112.47 612.30 L1117.52 608.31 L1122.57 604.27 L1127.63 600.16 L1132.68 595.99 L1137.73 591.77 L1142.78 587.51 L1147.83 583.20 L1152.88 578.86 L1157.93 574.49 L1162.98 570.09 L1168.03 565.67 L1173.08 561.23 L1178.13 556.77 L1183.18 552.31 L1188.23 547.84 L1193.28 543.37 L1198.33 538.90 L1203.38 534.43 L1208.43 529.98 L1213.48 525.53 L1218.53 521.11 L1223.58 516.70 L1228.64 512.31 L1233.69 507.94 L1238.74 503.60 L1243.79 499.29 L1248.84 495.02 L1253.89 490.77 L1258.94 486.56 L1263.99 482.39 L1269.04 478.25 L1274.09 474.16 L1279.14 470.11 L1284.19 466.10 L1289.24 462.13 L1294.29 458.21 L1299.34 454.34 L1304.39 450.52 L1309.44 446.74 L1314.49 443.02 L1319.54 439.34 L1324.59 435.72 L1329.65 432.15 L1334.70 428.62 L1339.75 425.15 L1344.80 421.74 L1349.85 418.37 L1354.90 415.06 L1359.95 411.80 L1365.00 408.59 L1370.05 405.44 L1375.10 402.34"/><path d="M875.10 684.30 L880.15 684.30 L885.20 684.30 L890.25 684.28 L895.30 684.24 L900.35 684.16 L905.40 684.03 L910.45 683.83 L915.50 683.54 L920.55 683.15 L925.61 682.65 L930.66 682.02 L935.71 681.24 L940.76 680.32 L945.81 679.23 L950.86 677.97 L955.91 676.54 L960.96 674.93 L966.01 673.13 L971.06 671.14 L976.11 668.97 L981.16 666.61 L986.21 664.06 L991.26 661.33 L996.31 658.41 L1001.36 655.32 L1006.41 652.06 L1011.46 648.63 L1016.51 645.04 L1021.56 641.29 L1026.62 637.39 L1031.67 633.36 L1036.72 629.19 L1041.77 624.89 L1046.82 620.47 L1051.87 615.95 L1056.92 611.32 L1061.97 606.59 L1067.02 601.78 L1072.07 596.89 L1077.12 591.93 L1082.17 586.90 L1087.22 581.82 L1092.27 576.69 L1097.32 571.51 L1102.37 566.30 L1107.42 561.06 L1112.47 555.80 L1117.52 550.52 L1122.57 545.23 L1127.63 539.93 L1132.68 534.64 L1137.73 529.35 L1142.78 524.08 L1147.83 518.82 L1152.88 513.58 L1157.93 508.36 L1162.98 503.18 L1168.03 498.02 L1173.08 492.90 L1178.13 487.82 L1183.18 482.78 L1188.23 477.79 L1193.28 472.84 L1198.33 467.95 L1203.38 463.10 L1208.43 458.32 L1213.48 453.58 L1218.53 448.91 L1223.58 444.29 L1228.64 439.74 L1233.69 435.24 L1238.74 430.81 L1243.79 426.45 L1248.84 422.15 L1253.89 417.91 L1258.94 413.75 L1263.99 409.64 L1269.04 405.61 L1274.09 401.64 L1279.14 397.74 L1284.19 393.91 L1289.24 390.14 L1294.29 386.45 L1299.34 382.82 L1304.39 379.25 L1309.44 375.76 L1314.49 372.32 L1319.54 368.96 L1324.59 365.66 L1329.65 362.43 L1334.70 359.26 L1339.75 356.15 L1344.80 353.11 L1349.85 350.13 L1354.90 347.21 L1359.95 344.35 L1365.00 341.56 L1370.05 338.82 L1375.10 336.14"/><path d="M875.10 684.30 L880.15 684.25 L885.20 684.00 L890.25 683.43 L895.30 682.49 L900.35 681.12 L905.40 679.32 L910.45 677.06 L915.50 674.36 L920.55 671.21 L925.61 667.63 L930.66 663.63 L935.71 659.25 L940.76 654.50 L945.81 649.40 L950.86 643.98 L955.91 638.28 L960.96 632.30 L966.01 626.09 L971.06 619.66 L976.11 613.05 L981.16 606.27 L986.21 599.34 L991.26 592.30 L996.31 585.15 L1001.36 577.93 L1006.41 570.65 L1011.46 563.32 L1016.51 555.97 L1021.56 548.61 L1026.62 541.25 L1031.67 533.90 L1036.72 526.59 L1041.77 519.32 L1046.82 512.10 L1051.87 504.93 L1056.92 497.84 L1061.97 490.83 L1067.02 483.89 L1072.07 477.05 L1077.12 470.31 L1082.17 463.66 L1087.22 457.12 L1092.27 450.69 L1097.32 444.37 L1102.37 438.16 L1107.42 432.07 L1112.47 426.10 L1117.52 420.25 L1122.57 414.53 L1127.63 408.92 L1132.68 403.44 L1137.73 398.07 L1142.78 392.84 L1147.83 387.72 L1152.88 382.72 L1157.93 377.85 L1162.98 373.09 L1168.03 368.46 L1173.08 363.94 L1178.13 359.54 L1183.18 355.25 L1188.23 351.07 L1193.28 347.01 L1198.33 343.05 L1203.38 339.21 L1208.43 335.46 L1213.48 331.83 L1218.53 328.29 L1223.58 324.85 L1228.64 321.52 L1233.69 318.27 L1238.74 315.12 L1243.79 312.07 L1248.84 309.10 L1253.89 306.22 L1258.94 303.42 L1263.99 300.71 L1269.04 298.08 L1274.09 295.53 L1279.14 293.05 L1284.19 290.65 L1289.24 288.33 L1294.29 286.07 L1299.34 283.89 L1304.39 281.77 L1309.44 279.72 L1314.49 277.73 L1319.54 275.80 L1324.59 273.94 L1329.65 272.13 L1334.70 270.38 L1339.75 268.69 L1344.80 267.05 L1349.85 265.46 L1354.90 263.92 L1359.95 262.43 L1365.00 260.99 L1370.05 259.60 L1375.10 258.25"/><path d="M875.10 684.30 L880.15 684.30 L885.20 684.30 L890.25 684.29 L895.30 684.28 L900.35 684.24 L905.40 684.16 L910.45 684.03 L915.50 683.82 L920.55 683.50 L925.61 683.06 L930.66 682.47 L935.71 681.71 L940.76 680.75 L945.81 679.58 L950.86 678.17 L955.91 676.51 L960.96 674.58 L966.01 672.38 L971.06 669.90 L976.11 667.13 L981.16 664.07 L986.21 660.72 L991.26 657.08 L996.31 653.15 L1001.36 648.95 L1006.41 644.47 L1011.46 639.74 L1016.51 634.75 L1021.56 629.53 L1026.62 624.08 L1031.67 618.42 L1036.72 612.56 L1041.77 606.52 L1046.82 600.32 L1051.87 593.96 L1056.92 587.47 L1061.97 580.86 L1067.02 574.14 L1072.07 567.33 L1077.12 560.45 L1082.17 553.51 L1087.22 546.51 L1092.27 539.48 L1097.32 532.43 L1102.37 525.37 L1107.42 518.32 L1112.47 511.27 L1117.52 504.25 L1122.57 497.25 L1127.63 490.30 L1132.68 483.40 L1137.73 476.56 L1142.78 469.78 L1147.83 463.07 L1152.88 456.44 L1157.93 449.89 L1162.98 443.43 L1168.03 437.06 L1173.08 430.79 L1178.13 424.62 L1183.18 418.55 L1188.23 412.59 L1193.28 406.74 L1198.33 400.99 L1203.38 395.36 L1208.43 389.84 L1213.48 384.44 L1218.53 379.15 L1223.58 373.97 L1228.64 368.91 L1233.69 363.96 L1238.74 359.13 L1243.79 354.42 L1248.84 349.81 L1253.89 345.32 L1258.94 340.94 L1263.99 336.68 L1269.04 332.52 L1274.09 328.47 L1279.14 324.52 L1284.19 320.69 L1289.24 316.95 L1294.29 313.32 L1299.34 309.79 L1304.39 306.35 L1309.44 303.01 L1314.49 299.77 L1319.54 296.62 L1324.59 293.56 L1329.65 290.59 L1334.70 287.71 L1339.75 284.91 L1344.80 282.19 L1349.85 279.56 L1354.90 277.00 L1359.95 274.53 L1365.00 272.13 L1370.05 269.80 L1375.10 267.54"/><path d="M875.10 684.30 L880.15 684.30 L885.20 684.30 L890.25 684.30 L895.30 684.30 L900.35 684.30 L905.40 684.30 L910.45 684.29 L915.50 684.29 L920.55 684.27 L925.61 684.25 L930.66 684.21 L935.71 684.15 L940.76 684.07 L945.81 683.96 L950.86 683.81 L955.91 683.62 L960.96 683.37 L966.01 683.06 L971.06 682.68 L976.11 682.22 L981.16 681.67 L986.21 681.03 L991.26 680.28 L996.31 679.41 L1001.36 678.42 L1006.41 677.30 L1011.46 676.05 L1016.51 674.66 L1021.56 673.12 L1026.62 671.43 L1031.67 669.59 L1036.72 667.58 L1041.77 665.42 L1046.82 663.10 L1051.87 660.62 L1056.92 657.98 L1061.97 655.17 L1067.02 652.21 L1072.07 649.09 L1077.12 645.82 L1082.17 642.40 L1087.22 638.83 L1092.27 635.13 L1097.32 631.28 L1102.37 627.31 L1107.42 623.21 L1112.47 618.99 L1117.52 614.65 L1122.57 610.21 L1127.63 605.67 L1132.68 601.03 L1137.73 596.30 L1142.78 591.50 L1147.83 586.62 L1152.88 581.67 L1157.93 576.67 L1162.98 571.60 L1168.03 566.50 L1173.08 561.35 L1178.13 556.16 L1183.18 550.95 L1188.23 545.72 L1193.28 540.47 L1198.33 535.20 L1203.38 529.94 L1208.43 524.67 L1213.48 519.41 L1218.53 514.16 L1223.58 508.92 L1228.64 503.71 L1233.69 498.51 L1238.74 493.35 L1243.79 488.21 L1248.84 483.11 L1253.89 478.05 L1258.94 473.03 L1263.99 468.06 L1269.04 463.13 L1274.09 458.25 L1279.14 453.43 L1284.19 448.65 L1289.24 443.94 L1294.29 439.28 L1299.34 434.69 L1304.39 430.15 L1309.44 425.68 L1314.49 421.27 L1319.54 416.92 L1324.59 412.65 L1329.65 408.43 L1334.70 404.29 L1339.75 400.21 L1344.80 396.21 L1349.85 392.27 L1354.90 388.40 L1359.95 384.59 L1365.00 380.86 L1370.05 377.20 L1375.10 373.60"/><path d="M875.10 684.30 L880.15 684.30 L885.20 684.30 L890.25 684.29 L895.30 684.27 L900.35 684.22 L905.40 684.13 L910.45 683.99 L915.50 683.79 L920.55 683.49 L925.61 683.09 L930.66 682.58 L935.71 681.94 L940.76 681.15 L945.81 680.20 L950.86 679.09 L955.91 677.80 L960.96 676.32 L966.01 674.65 L971.06 672.79 L976.11 670.73 L981.16 668.47 L986.21 666.02 L991.26 663.36 L996.31 660.51 L1001.36 657.46 L1006.41 654.23 L1011.46 650.82 L1016.51 647.22 L1021.56 643.46 L1026.62 639.54 L1031.67 635.47 L1036.72 631.24 L1041.77 626.88 L1046.82 622.39 L1051.87 617.79 L1056.92 613.07 L1061.97 608.25 L1067.02 603.33 L1072.07 598.34 L1077.12 593.27 L1082.17 588.13 L1087.22 582.94 L1092.27 577.70 L1097.32 572.41 L1102.37 567.10 L1107.42 561.76 L1112.47 556.40 L1117.52 551.04 L1122.57 545.67 L1127.63 540.30 L1132.68 534.94 L1137.73 529.60 L1142.78 524.27 L1147.83 518.97 L1152.88 513.71 L1157.93 508.47 L1162.98 503.28 L1168.03 498.13 L1173.08 493.03 L1178.13 487.97 L1183.18 482.97 L1188.23 478.03 L1193.28 473.15 L1198.33 468.33 L1203.38 463.57 L1208.43 458.87 L1213.48 454.25 L1218.53 449.69 L1223.58 445.21 L1228.64 440.79 L1233.69 436.45 L1238.74 432.18 L1243.79 427.99 L1248.84 423.87 L1253.89 419.82 L1258.94 415.85 L1263.99 411.96 L1269.04 408.14 L1274.09 404.39 L1279.14 400.72 L1284.19 397.13 L1289.24 393.61 L1294.29 390.16 L1299.34 386.79 L1304.39 383.48 L1309.44 380.25 L1314.49 377.10 L1319.54 374.01 L1324.59 370.99 L1329.65 368.04 L1334.70 365.16 L1339.75 362.35 L1344.80 359.60 L1349.85 356.92 L1354.90 354.30 L1359.95 351.74 L1365.00 349.25 L1370.05 346.82 L1375.10 344.44"/><path d="M875.10 684.30 L880.15 684.30 L885.20 684.27 L890.25 684.18 L895.30 684.02 L900.35 683.74 L905.40 683.34 L910.45 682.78 L915.50 682.05 L920.55 681.14 L925.61 680.03 L930.66 678.72 L935.71 677.20 L940.76 675.46 L945.81 673.51 L950.86 671.34 L955.91 668.95 L960.96 666.35 L966.01 663.53 L971.06 660.51 L976.11 657.29 L981.16 653.88 L986.21 650.28 L991.26 646.50 L996.31 642.55 L1001.36 638.44 L1006.41 634.18 L1011.46 629.77 L1016.51 625.22 L1021.56 620.55 L1026.62 615.76 L1031.67 610.87 L1036.72 605.87 L1041.77 600.79 L1046.82 595.62 L1051.87 590.38 L1056.92 585.08 L1061.97 579.72 L1067.02 574.31 L1072.07 568.86 L1077.12 563.37 L1082.17 557.86 L1087.22 552.33 L1092.27 546.79 L1097.32 541.24 L1102.37 535.68 L1107.42 530.13 L1112.47 524.59 L1117.52 519.07 L1122.57 513.56 L1127.63 508.08 L1132.68 502.62 L1137.73 497.20 L1142.78 491.81 L1147.83 486.46 L1152.88 481.16 L1157.93 475.90 L1162.98 470.68 L1168.03 465.52 L1173.08 460.41 L1178.13 455.36 L1183.18 450.36 L1188.23 445.43 L1193.28 440.55 L1198.33 435.73 L1203.38 430.98 L1208.43 426.30 L1213.48 421.68 L1218.53 417.12 L1223.58 412.64 L1228.64 408.22 L1233.69 403.87 L1238.74 399.58 L1243.79 395.37 L1248.84 391.23 L1253.89 387.15 L1258.94 383.15 L1263.99 379.21 L1269.04 375.35 L1274.09 371.55 L1279.14 367.82 L1284.19 364.16 L1289.24 360.57 L1294.29 357.04 L1299.34 353.58 L1304.39 350.19 L1309.44 346.87 L1314.49 343.60 L1319.54 340.41 L1324.59 337.28 L1329.65 334.21 L1334.70 331.20 L1339.75 328.26 L1344.80 325.38 L1349.85 322.55 L1354.90 319.79 L1359.95 317.08 L1365.00 314.43 L1370.05 311.84 L1375.10 309.31"/><path d="M875.10 684.30 L880.15 684.28 L885.20 684.10 L890.25 683.59 L895.30 682.63 L900.35 681.08 L905.40 678.89 L910.45 676.00 L915.50 672.38 L920.55 668.03 L925.61 662.96 L930.66 657.20 L935.71 650.77 L940.76 643.74 L945.81 636.14 L950.86 628.03 L955.91 619.46 L960.96 610.49 L966.01 601.17 L971.06 591.56 L976.11 581.71 L981.16 571.66 L986.21 561.48 L991.26 551.19 L996.31 540.84 L1001.36 530.47 L1006.41 520.12 L1011.46 509.81 L1016.51 499.58 L1021.56 489.45 L1026.62 479.44 L1031.67 469.57 L1036.72 459.87 L1041.77 450.34 L1046.82 441.00 L1051.87 431.86 L1056.92 422.94 L1061.97 414.23 L1067.02 405.74 L1072.07 397.48 L1077.12 389.46 L1082.17 381.67 L1087.22 374.11 L1092.27 366.78 L1097.32 359.69 L1102.37 352.83 L1107.42 346.20 L1112.47 339.80 L1117.52 333.62 L1122.57 327.65 L1127.63 321.91 L1132.68 316.37 L1137.73 311.04 L1142.78 305.91 L1147.83 300.98 L1152.88 296.23 L1157.93 291.67 L1162.98 287.29 L1168.03 283.09 L1173.08 279.05 L1178.13 275.18 L1183.18 271.46 L1188.23 267.90 L1193.28 264.49 L1198.33 261.22 L1203.38 258.08 L1208.43 255.08 L1213.48 252.21 L1218.53 249.45 L1223.58 246.82 L1228.64 244.30 L1233.69 241.89 L1238.74 239.58 L1243.79 237.37 L1248.84 235.26 L1253.89 233.25 L1258.94 231.32 L1263.99 229.47 L1269.04 227.71 L1274.09 226.03 L1279.14 224.42 L1284.19 222.89 L1289.24 221.42 L1294.29 220.02 L1299.34 218.68 L1304.39 217.40 L1309.44 216.18 L1314.49 215.02 L1319.54 213.90 L1324.59 212.84 L1329.65 211.83 L1334.70 210.86 L1339.75 209.94 L1344.80 209.06 L1349.85 208.22 L1354.90 207.42 L1359.95 206.65 L1365.00 205.92 L1370.05 205.23 L1375.10 204.56"/><path d="M875.10 684.30 L880.15 684.30 L885.20 684.30 L890.25 684.30 L895.30 684.30 L900.35 684.30 L905.40 684.29 L910.45 684.29 L915.50 684.28 L920.55 684.26 L925.61 684.23 L930.66 684.19 L935.71 684.14 L940.76 684.06 L945.81 683.96 L950.86 683.83 L955.91 683.67 L960.96 683.46 L966.01 683.22 L971.06 682.92 L976.11 682.57 L981.16 682.16 L986.21 681.68 L991.26 681.13 L996.31 680.51 L1001.36 679.81 L1006.41 679.02 L1011.46 678.15 L1016.51 677.18 L1021.56 676.11 L1026.62 674.95 L1031.67 673.68 L1036.72 672.31 L1041.77 670.83 L1046.82 669.24 L1051.87 667.54 L1056.92 665.72 L1061.97 663.80 L1067.02 661.76 L1072.07 659.61 L1077.12 657.34 L1082.17 654.96 L1087.22 652.47 L1092.27 649.87 L1097.32 647.16 L1102.37 644.34 L1107.42 641.41 L1112.47 638.38 L1117.52 635.25 L1122.57 632.02 L1127.63 628.70 L1132.68 625.28 L1137.73 621.77 L1142.78 618.17 L1147.83 614.49 L1152.88 610.73 L1157.93 606.89 L1162.98 602.98 L1168.03 599.00 L1173.08 594.95 L1178.13 590.84 L1183.18 586.67 L1188.23 582.44 L1193.28 578.16 L1198.33 573.83 L1203.38 569.46 L1208.43 565.04 L1213.48 560.59 L1218.53 556.11 L1223.58 551.59 L1228.64 547.05 L1233.69 542.48 L1238.74 537.90 L1243.79 533.29 L1248.84 528.67 L1253.89 524.04 L1258.94 519.41 L1263.99 514.76 L1269.04 510.12 L1274.09 505.48 L1279.14 500.84 L1284.19 496.20 L1289.24 491.57 L1294.29 486.96 L1299.34 482.36 L1304.39 477.77 L1309.44 473.20 L1314.49 468.65 L1319.54 464.12 L1324.59 459.62 L1329.65 455.14 L1334.70 450.68 L1339.75 446.26 L1344.80 441.86 L1349.85 437.50 L1354.90 433.17 L1359.95 428.87 L1365.00 424.61 L1370.05 420.38 L1375.10 416.20"/><path d="M875.10 684.30 L880.15 684.30 L885.20 684.30 L890.25 684.30 L895.30 684.30 L900.35 684.29 L905.40 684.28 L910.45 684.26 L915.50 684.21 L920.55 684.14 L925.61 684.03 L930.66 683.86 L935.71 683.63 L940.76 683.32 L945.81 682.92 L950.86 682.40 L955.91 681.76 L960.96 680.99 L966.01 680.05 L971.06 678.95 L976.11 677.68 L981.16 676.21 L986.21 674.55 L991.26 672.68 L996.31 670.60 L1001.36 668.31 L1006.41 665.80 L1011.46 663.07 L1016.51 660.12 L1021.56 656.95 L1026.62 653.56 L1031.67 649.97 L1036.72 646.17 L1041.77 642.18 L1046.82 637.99 L1051.87 633.62 L1056.92 629.08 L1061.97 624.37 L1067.02 619.51 L1072.07 614.50 L1077.12 609.36 L1082.17 604.09 L1087.22 598.72 L1092.27 593.24 L1097.32 587.67 L1102.37 582.02 L1107.42 576.31 L1112.47 570.53 L1117.52 564.71 L1122.57 558.85 L1127.63 552.96 L1132.68 547.05 L1137.73 541.13 L1142.78 535.21 L1147.83 529.29 L1152.88 523.39 L1157.93 517.51 L1162.98 511.66 L1168.03 505.84 L1173.08 500.07 L1178.13 494.34 L1183.18 488.66 L1188.23 483.04 L1193.28 477.49 L1198.33 471.99 L1203.38 466.57 L1208.43 461.22 L1213.48 455.94 L1218.53 450.75 L1223.58 445.63 L1228.64 440.60 L1233.69 435.65 L1238.74 430.79 L1243.79 426.02 L1248.84 421.34 L1253.89 416.75 L1258.94 412.25 L1263.99 407.83 L1269.04 403.52 L1274.09 399.29 L1279.14 395.15 L1284.19 391.11 L1289.24 387.15 L1294.29 383.29 L1299.34 379.52 L1304.39 375.83 L1309.44 372.24 L1314.49 368.73 L1319.54 365.30 L1324.59 361.97 L1329.65 358.72 L1334.70 355.55 L1339.75 352.46 L1344.80 349.45 L1349.85 346.52 L1354.90 343.67 L1359.95 340.90 L1365.00 338.20 L1370.05 335.58 L1375.10 333.03"/><path d="M875.10 684.30 L880.15 684.30 L885.20 684.30 L890.25 684.29 L895.30 684.27 L900.35 684.22 L905.40 684.11 L910.45 683.89 L915.50 683.55 L920.55 683.02 L925.61 682.26 L930.66 681.23 L935.71 679.89 L940.76 678.19 L945.81 676.09 L950.86 673.59 L955.91 670.64 L960.96 667.25 L966.01 663.39 L971.06 659.08 L976.11 654.31 L981.16 649.10 L986.21 643.46 L991.26 637.42 L996.31 630.99 L1001.36 624.21 L1006.41 617.09 L1011.46 609.68 L1016.51 602.01 L1021.56 594.10 L1026.62 585.99 L1031.67 577.71 L1036.72 569.29 L1041.77 560.76 L1046.82 552.15 L1051.87 543.49 L1056.92 534.81 L1061.97 526.13 L1067.02 517.47 L1072.07 508.86 L1077.12 500.31 L1082.17 491.84 L1087.22 483.48 L1092.27 475.23 L1097.32 467.11 L1102.37 459.12 L1107.42 451.29 L1112.47 443.61 L1117.52 436.10 L1122.57 428.77 L1127.63 421.61 L1132.68 414.63 L1137.73 407.84 L1142.78 401.23 L1147.83 394.81 L1152.88 388.58 L1157.93 382.54 L1162.98 376.68 L1168.03 371.01 L1173.08 365.53 L1178.13 360.23 L1183.18 355.11 L1188.23 350.17 L1193.28 345.40 L1198.33 340.80 L1203.38 336.37 L1208.43 332.10 L1213.48 327.99 L1218.53 324.03 L1223.58 320.23 L1228.64 316.57 L1233.69 313.06 L1238.74 309.68 L1243.79 306.44 L1248.84 303.33 L1253.89 300.34 L1258.94 297.48 L1263.99 294.73 L1269.04 292.09 L1274.09 289.57 L1279.14 287.15 L1284.19 284.83 L1289.24 282.61 L1294.29 280.48 L1299.34 278.44 L1304.39 276.49 L1309.44 274.63 L1314.49 272.84 L1319.54 271.14 L1324.59 269.50 L1329.65 267.94 L1334.70 266.45 L1339.75 265.02 L1344.80 263.65 L1349.85 262.35 L1354.90 261.10 L1359.95 259.91 L1365.00 258.77 L1370.05 257.68 L1375.10 256.64"/><path d="M875.10 684.30 L880.15 684.30 L885.20 684.30 L890.25 684.30 L895.30 684.30 L900.35 684.29 L905.40 684.28 L910.45 684.25 L915.50 684.21 L920.55 684.15 L925.61 684.05 L930.66 683.91 L935.71 683.71 L940.76 683.46 L945.81 683.13 L950.86 682.72 L955.91 682.22 L960.96 681.61 L966.01 680.89 L971.06 680.04 L976.11 679.06 L981.16 677.94 L986.21 676.67 L991.26 675.24 L996.31 673.66 L1001.36 671.90 L1006.41 669.98 L1011.46 667.89 L1016.51 665.63 L1021.56 663.19 L1026.62 660.57 L1031.67 657.79 L1036.72 654.83 L1041.77 651.70 L1046.82 648.41 L1051.87 644.96 L1056.92 641.35 L1061.97 637.58 L1067.02 633.67 L1072.07 629.62 L1077.12 625.44 L1082.17 621.13 L1087.22 616.69 L1092.27 612.14 L1097.32 607.49 L1102.37 602.73 L1107.42 597.88 L1112.47 592.95 L1117.52 587.93 L1122.57 582.85 L1127.63 577.70 L1132.68 572.50 L1137.73 567.25 L1142.78 561.95 L1147.83 556.62 L1152.88 551.26 L1157.93 545.88 L1162.98 540.48 L1168.03 535.07 L1173.08 529.66 L1178.13 524.25 L1183.18 518.84 L1188.23 513.45 L1193.28 508.07 L1198.33 502.71 L1203.38 497.38 L1208.43 492.07 L1213.48 486.80 L1218.53 481.57 L1223.58 476.38 L1228.64 471.23 L1233.69 466.12 L1238.74 461.07 L1243.79 456.07 L1248.84 451.12 L1253.89 446.23 L1258.94 441.40 L1263.99 436.63 L1269.04 431.92 L1274.09 427.27 L1279.14 422.69 L1284.19 418.18 L1289.24 413.73 L1294.29 409.35 L1299.34 405.04 L1304.39 400.80 L1309.44 396.63 L1314.49 392.53 L1319.54 388.50 L1324.59 384.54 L1329.65 380.65 L1334.70 376.83 L1339.75 373.08 L1344.80 369.40 L1349.85 365.80 L1354.90 362.26 L1359.95 358.79 L1365.00 355.39 L1370.05 352.06 L1375.10 348.80"/><path d="M875.10 684.30 L880.15 684.30 L885.20 684.30 L890.25 684.29 L895.30 684.27 L900.35 684.22 L905.40 684.14 L910.45 684.02 L915.50 683.85 L920.55 683.62 L925.61 683.31 L930.66 682.91 L935.71 682.43 L940.76 681.84 L945.81 681.14 L950.86 680.33 L955.91 679.40 L960.96 678.34 L966.01 677.15 L971.06 675.82 L976.11 674.36 L981.16 672.77 L986.21 671.03 L991.26 669.16 L996.31 667.14 L1001.36 665.00 L1006.41 662.71 L1011.46 660.30 L1016.51 657.75 L1021.56 655.08 L1026.62 652.29 L1031.67 649.38 L1036.72 646.35 L1041.77 643.22 L1046.82 639.98 L1051.87 636.64 L1056.92 633.20 L1061.97 629.68 L1067.02 626.07 L1072.07 622.38 L1077.12 618.62 L1082.17 614.80 L1087.22 610.91 L1092.27 606.96 L1097.32 602.96 L1102.37 598.91 L1107.42 594.82 L1112.47 590.69 L1117.52 586.53 L1122.57 582.34 L1127.63 578.13 L1132.68 573.90 L1137.73 569.66 L1142.78 565.41 L1147.83 561.15 L1152.88 556.89 L1157.93 552.63 L1162.98 548.37 L1168.03 544.12 L1173.08 539.88 L1178.13 535.66 L1183.18 531.46 L1188.23 527.27 L1193.28 523.11 L1198.33 518.98 L1203.38 514.87 L1208.43 510.79 L1213.48 506.74 L1218.53 502.73 L1223.58 498.75 L1228.64 494.81 L1233.69 490.91 L1238.74 487.05 L1243.79 483.23 L1248.84 479.46 L1253.89 475.72 L1258.94 472.03 L1263.99 468.39 L1269.04 464.80 L1274.09 461.25 L1279.14 457.75 L1284.19 454.29 L1289.24 450.89 L1294.29 447.53 L1299.34 444.23 L1304.39 440.97 L1309.44 437.77 L1314.49 434.61 L1319.54 431.51 L1324.59 428.45 L1329.65 425.44 L1334.70 422.49 L1339.75 419.58 L1344.80 416.73 L1349.85 413.92 L1354.90 411.17 L1359.95 408.46 L1365.00 405.80 L1370.05 403.19 L1375.10 400.62"/><path d="M875.10 684.30 L880.15 684.30 L885.20 684.30 L890.25 684.30 L895.30 684.29 L900.35 684.28 L905.40 684.25 L910.45 684.20 L915.50 684.12 L920.55 683.99 L925.61 683.81 L930.66 683.56 L935.71 683.23 L940.76 682.80 L945.81 682.25 L950.86 681.59 L955.91 680.79 L960.96 679.84 L966.01 678.73 L971.06 677.45 L976.11 676.00 L981.16 674.37 L986.21 672.54 L991.26 670.53 L996.31 668.31 L1001.36 665.91 L1006.41 663.30 L1011.46 660.50 L1016.51 657.50 L1021.56 654.31 L1026.62 650.94 L1031.67 647.38 L1036.72 643.64 L1041.77 639.74 L1046.82 635.67 L1051.87 631.45 L1056.92 627.07 L1061.97 622.56 L1067.02 617.92 L1072.07 613.15 L1077.12 608.28 L1082.17 603.29 L1087.22 598.22 L1092.27 593.05 L1097.32 587.81 L1102.37 582.50 L1107.42 577.13 L1112.47 571.71 L1117.52 566.25 L1122.57 560.75 L1127.63 555.23 L1132.68 549.69 L1137.73 544.13 L1142.78 538.58 L1147.83 533.02 L1152.88 527.47 L1157.93 521.94 L1162.98 516.43 L1168.03 510.94 L1173.08 505.49 L1178.13 500.07 L1183.18 494.69 L1188.23 489.36 L1193.28 484.08 L1198.33 478.85 L1203.38 473.67 L1208.43 468.55 L1213.48 463.50 L1218.53 458.51 L1223.58 453.59 L1228.64 448.73 L1233.69 443.95 L1238.74 439.23 L1243.79 434.60 L1248.84 430.03 L1253.89 425.55 L1258.94 421.14 L1263.99 416.81 L1269.04 412.55 L1274.09 408.38 L1279.14 404.28 L1284.19 400.26 L1289.24 396.32 L1294.29 392.46 L1299.34 388.68 L1304.39 384.98 L1309.44 381.36 L1314.49 377.81 L1319.54 374.34 L1324.59 370.95 L1329.65 367.63 L1334.70 364.38 L1339.75 361.22 L1344.80 358.12 L1349.85 355.10 L1354.90 352.14 L1359.95 349.26 L1365.00 346.45 L1370.05 343.70 L1375.10 341.02"/><path d="M875.10 684.30 L880.15 684.30 L885.20 684.30 L890.25 684.30 L895.30 684.29 L900.35 684.27 L905.40 684.24 L910.45 684.19 L915.50 684.11 L920.55 684.01 L925.61 683.88 L930.66 683.70 L935.71 683.49 L940.76 683.22 L945.81 682.90 L950.86 682.53 L955.91 682.09 L960.96 681.58 L966.01 681.01 L971.06 680.36 L976.11 679.63 L981.16 678.82 L986.21 677.93 L991.26 676.95 L996.31 675.89 L1001.36 674.74 L1006.41 673.50 L1011.46 672.17 L1016.51 670.74 L1021.56 669.22 L1026.62 667.61 L1031.67 665.91 L1036.72 664.11 L1041.77 662.23 L1046.82 660.25 L1051.87 658.18 L1056.92 656.02 L1061.97 653.77 L1067.02 651.43 L1072.07 649.01 L1077.12 646.51 L1082.17 643.92 L1087.22 641.26 L1092.27 638.51 L1097.32 635.69 L1102.37 632.80 L1107.42 629.83 L1112.47 626.80 L1117.52 623.70 L1122.57 620.54 L1127.63 617.31 L1132.68 614.02 L1137.73 610.68 L1142.78 607.28 L1147.83 603.84 L1152.88 600.34 L1157.93 596.80 L1162.98 593.21 L1168.03 589.58 L1173.08 585.91 L1178.13 582.21 L1183.18 578.47 L1188.23 574.70 L1193.28 570.90 L1198.33 567.08 L1203.38 563.23 L1208.43 559.36 L1213.48 555.47 L1218.53 551.56 L1223.58 547.64 L1228.64 543.70 L1233.69 539.75 L1238.74 535.80 L1243.79 531.83 L1248.84 527.87 L1253.89 523.89 L1258.94 519.92 L1263.99 515.95 L1269.04 511.98 L1274.09 508.01 L1279.14 504.05 L1284.19 500.09 L1289.24 496.15 L1294.29 492.21 L1299.34 488.29 L1304.39 484.37 L1309.44 480.47 L1314.49 476.59 L1319.54 472.72 L1324.59 468.87 L1329.65 465.04 L1334.70 461.23 L1339.75 457.44 L1344.80 453.67 L1349.85 449.92 L1354.90 446.20 L1359.95 442.50 L1365.00 438.82 L1370.05 435.17 L1375.10 431.55"/><path d="M875.10 684.30 L880.15 684.30 L885.20 684.30 L890.25 684.30 L895.30 684.28 L900.35 684.25 L905.40 684.18 L910.45 684.04 L915.50 683.82 L920.55 683.47 L925.61 682.97 L930.66 682.27 L935.71 681.35 L940.76 680.17 L945.81 678.71 L950.86 676.92 L955.91 674.80 L960.96 672.32 L966.01 669.48 L971.06 666.25 L976.11 662.64 L981.16 658.65 L986.21 654.27 L991.26 649.53 L996.31 644.42 L1001.36 638.97 L1006.41 633.19 L1011.46 627.10 L1016.51 620.72 L1021.56 614.07 L1026.62 607.18 L1031.67 600.06 L1036.72 592.75 L1041.77 585.27 L1046.82 577.64 L1051.87 569.88 L1056.92 562.03 L1061.97 554.09 L1067.02 546.10 L1072.07 538.07 L1077.12 530.02 L1082.17 521.98 L1087.22 513.95 L1092.27 505.96 L1097.32 498.03 L1102.37 490.15 L1107.42 482.36 L1112.47 474.65 L1117.52 467.04 L1122.57 459.55 L1127.63 452.17 L1132.68 444.92 L1137.73 437.79 L1142.78 430.81 L1147.83 423.97 L1152.88 417.28 L1157.93 410.74 L1162.98 404.35 L1168.03 398.11 L1173.08 392.03 L1178.13 386.11 L1183.18 380.35 L1188.23 374.74 L1193.28 369.29 L1198.33 364.00 L1203.38 358.86 L1208.43 353.87 L1213.48 349.04 L1218.53 344.35 L1223.58 339.81 L1228.64 335.42 L1233.69 331.17 L1238.74 327.06 L1243.79 323.08 L1248.84 319.24 L1253.89 315.53 L1258.94 311.95 L1263.99 308.49 L1269.04 305.15 L1274.09 301.93 L1279.14 298.82 L1284.19 295.83 L1289.24 292.94 L1294.29 290.16 L1299.34 287.48 L1304.39 284.90 L1309.44 282.41 L1314.49 280.02 L1319.54 277.72 L1324.59 275.51 L1329.65 273.37 L1334.70 271.32 L1339.75 269.35 L1344.80 267.46 L1349.85 265.64 L1354.90 263.88 L1359.95 262.20 L1365.00 260.58 L1370.05 259.03 L1375.10 257.54"/><path d="M875.10 684.30 L880.15 684.30 L885.20 684.30 L890.25 684.30 L895.30 684.30 L900.35 684.30 L905.40 684.29 L910.45 684.29 L915.50 684.27 L920.55 684.25 L925.61 684.22 L930.66 684.17 L935.71 684.10 L940.76 684.01 L945.81 683.89 L950.86 683.73 L955.91 683.52 L960.96 683.27 L966.01 682.97 L971.06 682.60 L976.11 682.17 L981.16 681.67 L986.21 681.08 L991.26 680.41 L996.31 679.65 L1001.36 678.80 L1006.41 677.84 L1011.46 676.79 L1016.51 675.62 L1021.56 674.34 L1026.62 672.94 L1031.67 671.43 L1036.72 669.80 L1041.77 668.05 L1046.82 666.17 L1051.87 664.17 L1056.92 662.05 L1061.97 659.81 L1067.02 657.45 L1072.07 654.96 L1077.12 652.36 L1082.17 649.64 L1087.22 646.80 L1092.27 643.85 L1097.32 640.79 L1102.37 637.62 L1107.42 634.35 L1112.47 630.98 L1117.52 627.51 L1122.57 623.95 L1127.63 620.30 L1132.68 616.56 L1137.73 612.75 L1142.78 608.86 L1147.83 604.89 L1152.88 600.86 L1157.93 596.77 L1162.98 592.62 L1168.03 588.41 L1173.08 584.15 L1178.13 579.85 L1183.18 575.51 L1188.23 571.13 L1193.28 566.71 L1198.33 562.27 L1203.38 557.81 L1208.43 553.32 L1213.48 548.82 L1218.53 544.30 L1223.58 539.78 L1228.64 535.25 L1233.69 530.71 L1238.74 526.18 L1243.79 521.66 L1248.84 517.14 L1253.89 512.63 L1258.94 508.13 L1263.99 503.65 L1269.04 499.19 L1274.09 494.75 L1279.14 490.34 L1284.19 485.95 L1289.24 481.59 L1294.29 477.25 L1299.34 472.95 L1304.39 468.69 L1309.44 464.46 L1314.49 460.26 L1319.54 456.11 L1324.59 452.00 L1329.65 447.92 L1334.70 443.89 L1339.75 439.90 L1344.80 435.96 L1349.85 432.06 L1354.90 428.21 L1359.95 424.40 L1365.00 420.65 L1370.05 416.94 L1375.10 413.28"/><path d="M875.10 684.30 L880.15 684.30 L885.20 684.30 L890.25 684.28 L895.30 684.25 L900.35 684.19 L905.40 684.09 L910.45 683.94 L915.50 683.72 L920.55 683.43 L925.61 683.05 L930.66 682.58 L935.71 682.01 L940.76 681.32 L945.81 680.52 L950.86 679.59 L955.91 678.53 L960.96 677.33 L966.01 676.00 L971.06 674.53 L976.11 672.92 L981.16 671.16 L986.21 669.27 L991.26 667.23 L996.31 665.05 L1001.36 662.74 L1006.41 660.29 L1011.46 657.71 L1016.51 655.00 L1021.56 652.16 L1026.62 649.21 L1031.67 646.14 L1036.72 642.95 L1041.77 639.67 L1046.82 636.28 L1051.87 632.79 L1056.92 629.22 L1061.97 625.56 L1067.02 621.82 L1072.07 618.01 L1077.12 614.12 L1082.17 610.18 L1087.22 606.17 L1092.27 602.12 L1097.32 598.01 L1102.37 593.87 L1107.42 589.68 L1112.47 585.47 L1117.52 581.22 L1122.57 576.96 L1127.63 572.67 L1132.68 568.37 L1137.73 564.06 L1142.78 559.74 L1147.83 555.42 L1152.88 551.11 L1157.93 546.79 L1162.98 542.49 L1168.03 538.19 L1173.08 533.91 L1178.13 529.65 L1183.18 525.41 L1188.23 521.19 L1193.28 517.00 L1198.33 512.83 L1203.38 508.70 L1208.43 504.60 L1213.48 500.53 L1218.53 496.49 L1223.58 492.49 L1228.64 488.54 L1233.69 484.62 L1238.74 480.74 L1243.79 476.91 L1248.84 473.12 L1253.89 469.37 L1258.94 465.67 L1263.99 462.02 L1269.04 458.41 L1274.09 454.85 L1279.14 451.35 L1284.19 447.88 L1289.24 444.47 L1294.29 441.11 L1299.34 437.80 L1304.39 434.54 L1309.44 431.33 L1314.49 428.16 L1319.54 425.05 L1324.59 421.99 L1329.65 418.98 L1334.70 416.02 L1339.75 413.11 L1344.80 410.25 L1349.85 407.44 L1354.90 404.68 L1359.95 401.96 L1365.00 399.30 L1370.05 396.68 L1375.10 394.11"/><path d="M875.10 684.30 L880.15 684.30 L885.20 684.29 L890.25 684.27 L895.30 684.21 L900.35 684.10 L905.40 683.92 L910.45 683.66 L915.50 683.30 L920.55 682.82 L925.61 682.22 L930.66 681.47 L935.71 680.57 L940.76 679.51 L945.81 678.29 L950.86 676.89 L955.91 675.30 L960.96 673.54 L966.01 671.60 L971.06 669.47 L976.11 667.15 L981.16 664.66 L986.21 661.98 L991.26 659.13 L996.31 656.11 L1001.36 652.92 L1006.41 649.56 L1011.46 646.06 L1016.51 642.40 L1021.56 638.60 L1026.62 634.67 L1031.67 630.61 L1036.72 626.42 L1041.77 622.13 L1046.82 617.72 L1051.87 613.22 L1056.92 608.63 L1061.97 603.96 L1067.02 599.21 L1072.07 594.39 L1077.12 589.51 L1082.17 584.57 L1087.22 579.59 L1092.27 574.57 L1097.32 569.51 L1102.37 564.43 L1107.42 559.32 L1112.47 554.20 L1117.52 549.07 L1122.57 543.93 L1127.63 538.80 L1132.68 533.67 L1137.73 528.55 L1142.78 523.44 L1147.83 518.35 L1152.88 513.28 L1157.93 508.24 L1162.98 503.24 L1168.03 498.26 L1173.08 493.32 L1178.13 488.42 L1183.18 483.56 L1188.23 478.74 L1193.28 473.98 L1198.33 469.26 L1203.38 464.59 L1208.43 459.97 L1213.48 455.41 L1218.53 450.91 L1223.58 446.46 L1228.64 442.07 L1233.69 437.74 L1238.74 433.47 L1243.79 429.26 L1248.84 425.12 L1253.89 421.03 L1258.94 417.01 L1263.99 413.05 L1269.04 409.16 L1274.09 405.33 L1279.14 401.56 L1284.19 397.86 L1289.24 394.22 L1294.29 390.65 L1299.34 387.14 L1304.39 383.69 L1309.44 380.31 L1314.49 376.99 L1319.54 373.73 L1324.59 370.53 L1329.65 367.40 L1334.70 364.32 L1339.75 361.31 L1344.80 358.36 L1349.85 355.46 L1354.90 352.63 L1359.95 349.85 L1365.00 347.13 L1370.05 344.46 L1375.10 341.85"/><path d="M875.10 684.30 L880.15 684.30 L885.20 684.30 L890.25 684.29 L895.30 684.26 L900.35 684.20 L905.40 684.09 L910.45 683.94 L915.50 683.71 L920.55 683.40 L925.61 683.00 L930.66 682.49 L935.71 681.86 L940.76 681.10 L945.81 680.20 L950.86 679.16 L955.91 677.96 L960.96 676.60 L966.01 675.08 L971.06 673.39 L976.11 671.54 L981.16 669.51 L986.21 667.31 L991.26 664.94 L996.31 662.41 L1001.36 659.71 L1006.41 656.84 L1011.46 653.82 L1016.51 650.64 L1021.56 647.32 L1026.62 643.85 L1031.67 640.23 L1036.72 636.49 L1041.77 632.62 L1046.82 628.63 L1051.87 624.52 L1056.92 620.31 L1061.97 616.00 L1067.02 611.59 L1072.07 607.10 L1077.12 602.52 L1082.17 597.88 L1087.22 593.16 L1092.27 588.39 L1097.32 583.56 L1102.37 578.69 L1107.42 573.78 L1112.47 568.83 L1117.52 563.85 L1122.57 558.85 L1127.63 553.83 L1132.68 548.80 L1137.73 543.76 L1142.78 538.72 L1147.83 533.69 L1152.88 528.66 L1157.93 523.64 L1162.98 518.63 L1168.03 513.65 L1173.08 508.69 L1178.13 503.75 L1183.18 498.85 L1188.23 493.97 L1193.28 489.13 L1198.33 484.33 L1203.38 479.57 L1208.43 474.86 L1213.48 470.19 L1218.53 465.56 L1223.58 460.99 L1228.64 456.47 L1233.69 452.00 L1238.74 447.58 L1243.79 443.22 L1248.84 438.91 L1253.89 434.66 L1258.94 430.47 L1263.99 426.34 L1269.04 422.27 L1274.09 418.26 L1279.14 414.30 L1284.19 410.41 L1289.24 406.58 L1294.29 402.82 L1299.34 399.11 L1304.39 395.47 L1309.44 391.89 L1314.49 388.36 L1319.54 384.91 L1324.59 381.51 L1329.65 378.17 L1334.70 374.89 L1339.75 371.68 L1344.80 368.52 L1349.85 365.43 L1354.90 362.39 L1359.95 359.41 L1365.00 356.49 L1370.05 353.63 L1375.10 350.82"/><path d="M875.10 684.30 L880.15 684.30 L885.20 684.29 L890.25 684.27 L895.30 684.21 L900.35 684.11 L905.40 683.95 L910.45 683.72 L915.50 683.40 L920.55 682.99 L925.61 682.47 L930.66 681.83 L935.71 681.07 L940.76 680.18 L945.81 679.14 L950.86 677.97 L955.91 676.64 L960.96 675.16 L966.01 673.53 L971.06 671.74 L976.11 669.80 L981.16 667.71 L986.21 665.46 L991.26 663.06 L996.31 660.51 L1001.36 657.81 L1006.41 654.97 L1011.46 652.00 L1016.51 648.88 L1021.56 645.64 L1026.62 642.27 L1031.67 638.78 L1036.72 635.18 L1041.77 631.46 L1046.82 627.64 L1051.87 623.72 L1056.92 619.71 L1061.97 615.61 L1067.02 611.42 L1072.07 607.16 L1077.12 602.83 L1082.17 598.44 L1087.22 593.98 L1092.27 589.47 L1097.32 584.90 L1102.37 580.30 L1107.42 575.65 L1112.47 570.97 L1117.52 566.26 L1122.57 561.53 L1127.63 556.77 L1132.68 552.00 L1137.73 547.21 L1142.78 542.42 L1147.83 537.63 L1152.88 532.83 L1157.93 528.04 L1162.98 523.25 L1168.03 518.48 L1173.08 513.71 L1178.13 508.97 L1183.18 504.24 L1188.23 499.54 L1193.28 494.86 L1198.33 490.20 L1203.38 485.58 L1208.43 480.98 L1213.48 476.42 L1218.53 471.90 L1223.58 467.41 L1228.64 462.96 L1233.69 458.55 L1238.74 454.18 L1243.79 449.86 L1248.84 445.58 L1253.89 441.34 L1258.94 437.15 L1263.99 433.01 L1269.04 428.91 L1274.09 424.87 L1279.14 420.87 L1284.19 416.93 L1289.24 413.03 L1294.29 409.19 L1299.34 405.40 L1304.39 401.66 L1309.44 397.97 L1314.49 394.33 L1319.54 390.75 L1324.59 387.22 L1329.65 383.74 L1334.70 380.31 L1339.75 376.93 L1344.80 373.61 L1349.85 370.34 L1354.90 367.12 L1359.95 363.96 L1365.00 360.84 L1370.05 357.78 L1375.10 354.77"/><path d="M875.10 684.30 L880.15 684.30 L885.20 684.28 L890.25 684.23 L895.30 684.11 L900.35 683.88 L905.40 683.53 L910.45 683.02 L915.50 682.31 L920.55 681.40 L925.61 680.26 L930.66 678.87 L935.71 677.23 L940.76 675.32 L945.81 673.14 L950.86 670.69 L955.91 667.96 L960.96 664.96 L966.01 661.70 L971.06 658.18 L976.11 654.41 L981.16 650.40 L986.21 646.16 L991.26 641.71 L996.31 637.06 L1001.36 632.21 L1006.41 627.19 L1011.46 622.01 L1016.51 616.67 L1021.56 611.21 L1026.62 605.63 L1031.67 599.93 L1036.72 594.15 L1041.77 588.29 L1046.82 582.36 L1051.87 576.37 L1056.92 570.35 L1061.97 564.29 L1067.02 558.21 L1072.07 552.12 L1077.12 546.03 L1082.17 539.95 L1087.22 533.89 L1092.27 527.85 L1097.32 521.84 L1102.37 515.88 L1107.42 509.96 L1112.47 504.09 L1117.52 498.28 L1122.57 492.53 L1127.63 486.85 L1132.68 481.25 L1137.73 475.71 L1142.78 470.26 L1147.83 464.89 L1152.88 459.60 L1157.93 454.40 L1162.98 449.28 L1168.03 444.26 L1173.08 439.33 L1178.13 434.49 L1183.18 429.75 L1188.23 425.10 L1193.28 420.54 L1198.33 416.08 L1203.38 411.72 L1208.43 407.45 L1213.48 403.27 L1218.53 399.19 L1223.58 395.21 L1228.64 391.31 L1233.69 387.51 L1238.74 383.80 L1243.79 380.18 L1248.84 376.65 L1253.89 373.20 L1258.94 369.85 L1263.99 366.58 L1269.04 363.39 L1274.09 360.29 L1279.14 357.27 L1284.19 354.33 L1289.24 351.47 L1294.29 348.68 L1299.34 345.97 L1304.39 343.34 L1309.44 340.78 L1314.49 338.28 L1319.54 335.86 L1324.59 333.51 L1329.65 331.22 L1334.70 329.00 L1339.75 326.85 L1344.80 324.75 L1349.85 322.72 L1354.90 320.74 L1359.95 318.82 L1365.00 316.96 L1370.05 315.15 L1375.10 313.40"/><path d="M875.10 684.30 L880.15 684.30 L885.20 684.29 L890.25 684.25 L895.30 684.18 L900.35 684.04 L905.40 683.83 L910.45 683.53 L915.50 683.12 L920.55 682.60 L925.61 681.94 L930.66 681.14 L935.71 680.19 L940.76 679.09 L945.81 677.82 L950.86 676.39 L955.91 674.78 L960.96 673.01 L966.01 671.06 L971.06 668.94 L976.11 666.66 L981.16 664.20 L986.21 661.58 L991.26 658.80 L996.31 655.86 L1001.36 652.77 L1006.41 649.53 L1011.46 646.15 L1016.51 642.64 L1021.56 639.00 L1026.62 635.23 L1031.67 631.35 L1036.72 627.36 L1041.77 623.26 L1046.82 619.07 L1051.87 614.79 L1056.92 610.43 L1061.97 605.99 L1067.02 601.48 L1072.07 596.91 L1077.12 592.28 L1082.17 587.60 L1087.22 582.88 L1092.27 578.12 L1097.32 573.32 L1102.37 568.50 L1107.42 563.66 L1112.47 558.80 L1117.52 553.93 L1122.57 549.05 L1127.63 544.17 L1132.68 539.29 L1137.73 534.41 L1142.78 529.55 L1147.83 524.70 L1152.88 519.87 L1157.93 515.06 L1162.98 510.27 L1168.03 505.51 L1173.08 500.78 L1178.13 496.08 L1183.18 491.42 L1188.23 486.79 L1193.28 482.21 L1198.33 477.67 L1203.38 473.17 L1208.43 468.71 L1213.48 464.31 L1218.53 459.95 L1223.58 455.64 L1228.64 451.38 L1233.69 447.17 L1238.74 443.02 L1243.79 438.92 L1248.84 434.88 L1253.89 430.89 L1258.94 426.96 L1263.99 423.08 L1269.04 419.26 L1274.09 415.50 L1279.14 411.79 L1284.19 408.14 L1289.24 404.55 L1294.29 401.02 L1299.34 397.55 L1304.39 394.13 L1309.44 390.77 L1314.49 387.47 L1319.54 384.22 L1324.59 381.03 L1329.65 377.90 L1334.70 374.82 L1339.75 371.80 L1344.80 368.84 L1349.85 365.92 L1354.90 363.07 L1359.95 360.26 L1365.00 357.52 L1370.05 354.82 L1375.10 352.17"/><path d="M875.10 684.30 L880.15 684.30 L885.20 684.30 L890.25 684.29 L895.30 684.26 L900.35 684.21 L905.40 684.10 L910.45 683.93 L915.50 683.67 L920.55 683.31 L925.61 682.81 L930.66 682.17 L935.71 681.36 L940.76 680.37 L945.81 679.18 L950.86 677.78 L955.91 676.16 L960.96 674.31 L966.01 672.22 L971.06 669.90 L976.11 667.33 L981.16 664.52 L986.21 661.47 L991.26 658.19 L996.31 654.68 L1001.36 650.94 L1006.41 646.99 L1011.46 642.83 L1016.51 638.47 L1021.56 633.92 L1026.62 629.20 L1031.67 624.31 L1036.72 619.27 L1041.77 614.09 L1046.82 608.78 L1051.87 603.35 L1056.92 597.82 L1061.97 592.19 L1067.02 586.48 L1072.07 580.70 L1077.12 574.86 L1082.17 568.98 L1087.22 563.05 L1092.27 557.10 L1097.32 551.14 L1102.37 545.16 L1107.42 539.19 L1112.47 533.22 L1117.52 527.27 L1122.57 521.35 L1127.63 515.45 L1132.68 509.60 L1137.73 503.79 L1142.78 498.02 L1147.83 492.32 L1152.88 486.67 L1157.93 481.09 L1162.98 475.57 L1168.03 470.13 L1173.08 464.76 L1178.13 459.47 L1183.18 454.26 L1188.23 449.14 L1193.28 444.10 L1198.33 439.14 L1203.38 434.27 L1208.43 429.50 L1213.48 424.81 L1218.53 420.22 L1223.58 415.71 L1228.64 411.30 L1233.69 406.98 L1238.74 402.75 L1243.79 398.62 L1248.84 394.57 L1253.89 390.62 L1258.94 386.76 L1263.99 382.98 L1269.04 379.30 L1274.09 375.71 L1279.14 372.20 L1284.19 368.78 L1289.24 365.44 L1294.29 362.19 L1299.34 359.02 L1304.39 355.93 L1309.44 352.92 L1314.49 349.99 L1319.54 347.14 L1324.59 344.37 L1329.65 341.67 L1334.70 339.04 L1339.75 336.48 L1344.80 334.00 L1349.85 331.58 L1354.90 329.23 L1359.95 326.95 L1365.00 324.73 L1370.05 322.58 L1375.10 320.48"/><path d="M875.10 684.30 L880.15 684.30 L885.20 684.29 L890.25 684.24 L895.30 684.06 L900.35 683.67 L905.40 682.94 L910.45 681.75 L915.50 679.97 L920.55 677.49 L925.61 674.23 L930.66 670.13 L935.71 665.15 L940.76 659.27 L945.81 652.49 L950.86 644.84 L955.91 636.38 L960.96 627.14 L966.01 617.20 L971.06 606.64 L976.11 595.53 L981.16 583.95 L986.21 571.99 L991.26 559.72 L996.31 547.22 L1001.36 534.57 L1006.41 521.84 L1011.46 509.09 L1016.51 496.38 L1021.56 483.77 L1026.62 471.29 L1031.67 459.00 L1036.72 446.93 L1041.77 435.11 L1046.82 423.57 L1051.87 412.33 L1056.92 401.41 L1061.97 390.82 L1067.02 380.58 L1072.07 370.68 L1077.12 361.15 L1082.17 351.97 L1087.22 343.15 L1092.27 334.68 L1097.32 326.56 L1102.37 318.80 L1107.42 311.37 L1112.47 304.27 L1117.52 297.50 L1122.57 291.05 L1127.63 284.90 L1132.68 279.05 L1137.73 273.48 L1142.78 268.19 L1147.83 263.17 L1152.88 258.40 L1157.93 253.88 L1162.98 249.59 L1168.03 245.52 L1173.08 241.67 L1178.13 238.03 L1183.18 234.58 L1188.23 231.31 L1193.28 228.23 L1198.33 225.31 L1203.38 222.55 L1208.43 219.94 L1213.48 217.48 L1218.53 215.16 L1223.58 212.97 L1228.64 210.90 L1233.69 208.94 L1238.74 207.10 L1243.79 205.36 L1248.84 203.72 L1253.89 202.18 L1258.94 200.72 L1263.99 199.34 L1269.04 198.05 L1274.09 196.83 L1279.14 195.68 L1284.19 194.60 L1289.24 193.58 L1294.29 192.62 L1299.34 191.71 L1304.39 190.86 L1309.44 190.06 L1314.49 189.30 L1319.54 188.59 L1324.59 187.92 L1329.65 187.29 L1334.70 186.70 L1339.75 186.14 L1344.80 185.61 L1349.85 185.12 L1354.90 184.65 L1359.95 184.21 L1365.00 183.80 L1370.05 183.41 L1375.10 183.05"/><path d="M875.10 684.30 L880.15 684.30 L885.20 684.29 L890.25 684.25 L895.30 684.18 L900.35 684.05 L905.40 683.86 L910.45 683.57 L915.50 683.20 L920.55 682.71 L925.61 682.10 L930.66 681.36 L935.71 680.48 L940.76 679.46 L945.81 678.29 L950.86 676.97 L955.91 675.50 L960.96 673.87 L966.01 672.08 L971.06 670.13 L976.11 668.03 L981.16 665.77 L986.21 663.36 L991.26 660.80 L996.31 658.10 L1001.36 655.26 L1006.41 652.28 L1011.46 649.17 L1016.51 645.93 L1021.56 642.57 L1026.62 639.10 L1031.67 635.52 L1036.72 631.83 L1041.77 628.05 L1046.82 624.18 L1051.87 620.22 L1056.92 616.18 L1061.97 612.07 L1067.02 607.89 L1072.07 603.65 L1077.12 599.36 L1082.17 595.01 L1087.22 590.62 L1092.27 586.19 L1097.32 581.72 L1102.37 577.23 L1107.42 572.71 L1112.47 568.17 L1117.52 563.62 L1122.57 559.05 L1127.63 554.48 L1132.68 549.91 L1137.73 545.34 L1142.78 540.77 L1147.83 536.21 L1152.88 531.67 L1157.93 527.14 L1162.98 522.63 L1168.03 518.14 L1173.08 513.67 L1178.13 509.23 L1183.18 504.82 L1188.23 500.44 L1193.28 496.10 L1198.33 491.79 L1203.38 487.51 L1208.43 483.28 L1213.48 479.09 L1218.53 474.93 L1223.58 470.83 L1228.64 466.76 L1233.69 462.74 L1238.74 458.77 L1243.79 454.85 L1248.84 450.98 L1253.89 447.15 L1258.94 443.37 L1263.99 439.65 L1269.04 435.98 L1274.09 432.35 L1279.14 428.78 L1284.19 425.26 L1289.24 421.80 L1294.29 418.38 L1299.34 415.02 L1304.39 411.71 L1309.44 408.45 L1314.49 405.25 L1319.54 402.10 L1324.59 398.99 L1329.65 395.95 L1334.70 392.95 L1339.75 390.00 L1344.80 387.11 L1349.85 384.27 L1354.90 381.47 L1359.95 378.73 L1365.00 376.03 L1370.05 373.39 L1375.10 370.79"/><path d="M875.10 684.30 L880.15 684.30 L885.20 684.30 L890.25 684.30 L895.30 684.30 L900.35 684.30 L905.40 684.29 L910.45 684.29 L915.50 684.27 L920.55 684.24 L925.61 684.19 L930.66 684.11 L935.71 683.99 L940.76 683.83 L945.81 683.59 L950.86 683.28 L955.91 682.88 L960.96 682.37 L966.01 681.74 L971.06 680.97 L976.11 680.04 L981.16 678.94 L986.21 677.67 L991.26 676.19 L996.31 674.51 L1001.36 672.61 L1006.41 670.49 L1011.46 668.14 L1016.51 665.54 L1021.56 662.71 L1026.62 659.64 L1031.67 656.32 L1036.72 652.77 L1041.77 648.97 L1046.82 644.94 L1051.87 640.69 L1056.92 636.21 L1061.97 631.52 L1067.02 626.62 L1072.07 621.52 L1077.12 616.24 L1082.17 610.79 L1087.22 605.17 L1092.27 599.39 L1097.32 593.48 L1102.37 587.44 L1107.42 581.28 L1112.47 575.02 L1117.52 568.67 L1122.57 562.23 L1127.63 555.73 L1132.68 549.17 L1137.73 542.57 L1142.78 535.93 L1147.83 529.27 L1152.88 522.59 L1157.93 515.92 L1162.98 509.24 L1168.03 502.59 L1173.08 495.95 L1178.13 489.35 L1183.18 482.79 L1188.23 476.27 L1193.28 469.80 L1198.33 463.39 L1203.38 457.05 L1208.43 450.78 L1213.48 444.58 L1218.53 438.46 L1223.58 432.42 L1228.64 426.47 L1233.69 420.61 L1238.74 414.84 L1243.79 409.16 L1248.84 403.59 L1253.89 398.11 L1258.94 392.73 L1263.99 387.45 L1269.04 382.28 L1274.09 377.21 L1279.14 372.25 L1284.19 367.39 L1289.24 362.63 L1294.29 357.98 L1299.34 353.43 L1304.39 348.99 L1309.44 344.65 L1314.49 340.42 L1319.54 336.28 L1324.59 332.25 L1329.65 328.32 L1334.70 324.48 L1339.75 320.74 L1344.80 317.10 L1349.85 313.56 L1354.90 310.10 L1359.95 306.74 L1365.00 303.47 L1370.05 300.29 L1375.10 297.19"/><path d="M875.10 684.30 L880.15 684.30 L885.20 684.29 L890.25 684.26 L895.30 684.18 L900.35 684.05 L905.40 683.82 L910.45 683.49 L915.50 683.03 L920.55 682.42 L925.61 681.66 L930.66 680.71 L935.71 679.58 L940.76 678.24 L945.81 676.70 L950.86 674.95 L955.91 672.99 L960.96 670.81 L966.01 668.41 L971.06 665.79 L976.11 662.97 L981.16 659.94 L986.21 656.71 L991.26 653.28 L996.31 649.67 L1001.36 645.87 L1006.41 641.91 L1011.46 637.78 L1016.51 633.50 L1021.56 629.08 L1026.62 624.53 L1031.67 619.85 L1036.72 615.07 L1041.77 610.18 L1046.82 605.19 L1051.87 600.13 L1056.92 594.99 L1061.97 589.79 L1067.02 584.53 L1072.07 579.23 L1077.12 573.89 L1082.17 568.52 L1087.22 563.13 L1092.27 557.73 L1097.32 552.32 L1102.37 546.91 L1107.42 541.51 L1112.47 536.12 L1117.52 530.75 L1122.57 525.41 L1127.63 520.09 L1132.68 514.81 L1137.73 509.57 L1142.78 504.37 L1147.83 499.22 L1152.88 494.12 L1157.93 489.07 L1162.98 484.08 L1168.03 479.15 L1173.08 474.28 L1178.13 469.47 L1183.18 464.74 L1188.23 460.07 L1193.28 455.47 L1198.33 450.94 L1203.38 446.48 L1208.43 442.10 L1213.48 437.79 L1218.53 433.55 L1223.58 429.39 L1228.64 425.31 L1233.69 421.30 L1238.74 417.37 L1243.79 413.51 L1248.84 409.73 L1253.89 406.03 L1258.94 402.40 L1263.99 398.85 L1269.04 395.37 L1274.09 391.96 L1279.14 388.63 L1284.19 385.37 L1289.24 382.18 L1294.29 379.06 L1299.34 376.02 L1304.39 373.04 L1309.44 370.13 L1314.49 367.29 L1319.54 364.52 L1324.59 361.81 L1329.65 359.16 L1334.70 356.58 L1339.75 354.06 L1344.80 351.61 L1349.85 349.21 L1354.90 346.87 L1359.95 344.59 L1365.00 342.37 L1370.05 340.21 L1375.10 338.10"/><path d="M875.10 684.30 L880.15 684.30 L885.20 684.30 L890.25 684.30 L895.30 684.30 L900.35 684.30 L905.40 684.30 L910.45 684.30 L915.50 684.29 L920.55 684.29 L925.61 684.27 L930.66 684.25 L935.71 684.21 L940.76 684.16 L945.81 684.09 L950.86 683.98 L955.91 683.84 L960.96 683.66 L966.01 683.42 L971.06 683.13 L976.11 682.76 L981.16 682.32 L986.21 681.79 L991.26 681.16 L996.31 680.42 L1001.36 679.58 L1006.41 678.60 L1011.46 677.50 L1016.51 676.26 L1021.56 674.87 L1026.62 673.34 L1031.67 671.65 L1036.72 669.80 L1041.77 667.79 L1046.82 665.62 L1051.87 663.28 L1056.92 660.77 L1061.97 658.10 L1067.02 655.26 L1072.07 652.26 L1077.12 649.09 L1082.17 645.77 L1087.22 642.30 L1092.27 638.67 L1097.32 634.90 L1102.37 630.99 L1107.42 626.95 L1112.47 622.78 L1117.52 618.49 L1122.57 614.08 L1127.63 609.57 L1132.68 604.95 L1137.73 600.25 L1142.78 595.45 L1147.83 590.58 L1152.88 585.64 L1157.93 580.63 L1162.98 575.57 L1168.03 570.45 L1173.08 565.30 L1178.13 560.11 L1183.18 554.89 L1188.23 549.65 L1193.28 544.39 L1198.33 539.12 L1203.38 533.85 L1208.43 528.59 L1213.48 523.33 L1218.53 518.08 L1223.58 512.85 L1228.64 507.65 L1233.69 502.47 L1238.74 497.33 L1243.79 492.22 L1248.84 487.15 L1253.89 482.12 L1258.94 477.14 L1263.99 472.21 L1269.04 467.34 L1274.09 462.51 L1279.14 457.75 L1284.19 453.04 L1289.24 448.40 L1294.29 443.82 L1299.34 439.31 L1304.39 434.86 L1309.44 430.48 L1314.49 426.17 L1319.54 421.93 L1324.59 417.76 L1329.65 413.66 L1334.70 409.63 L1339.75 405.68 L1344.80 401.80 L1349.85 397.99 L1354.90 394.25 L1359.95 390.59 L1365.00 387.00 L1370.05 383.48 L1375.10 380.03"/></g>
<rect x="851.45" y="158.85" width="547.60" height="549.60" fill="none" stroke="#000" stroke-width="2.2"/>
<line x1="875.10" x2="875.10" y1="708.45" y2="719.75" stroke="#000" stroke-width="1.9"/>
<text class="t" x="874.8" y="748.2" font-size="32" text-anchor="middle">0</text>
<line x1="958.43" x2="958.43" y1="708.45" y2="719.75" stroke="#000" stroke-width="1.9"/>
<text class="t" x="958.1" y="748.2" font-size="32" text-anchor="middle">4</text>
<line x1="1041.77" x2="1041.77" y1="708.45" y2="719.75" stroke="#000" stroke-width="1.9"/>
<text class="t" x="1041.5" y="748.2" font-size="32" text-anchor="middle">8</text>
<line x1="1125.10" x2="1125.10" y1="708.45" y2="719.75" stroke="#000" stroke-width="1.9"/>
<text class="t" x="1124.8" y="748.2" font-size="32" text-anchor="middle">12</text>
<line x1="1208.43" x2="1208.43" y1="708.45" y2="719.75" stroke="#000" stroke-width="1.9"/>
<text class="t" x="1208.1" y="748.2" font-size="32" text-anchor="middle">16</text>
<line x1="1291.77" x2="1291.77" y1="708.45" y2="719.75" stroke="#000" stroke-width="1.9"/>
<text class="t" x="1291.5" y="748.2" font-size="32" text-anchor="middle">20</text>
<line x1="1375.10" x2="1375.10" y1="708.45" y2="719.75" stroke="#000" stroke-width="1.9"/>
<text class="t" x="1374.8" y="748.2" font-size="32" text-anchor="middle">24</text>
<line x1="839.95" x2="851.45" y1="684.05" y2="684.05" stroke="#000" stroke-width="1.9"/>
<text class="t" x="832.9" y="694.8" font-size="32" text-anchor="end">0.0</text>
<line x1="839.95" x2="851.45" y1="552.33" y2="552.33" stroke="#000" stroke-width="1.9"/>
<text class="t" x="832.9" y="563.1" font-size="32" text-anchor="end">0.3</text>
<line x1="839.95" x2="851.45" y1="420.61" y2="420.61" stroke="#000" stroke-width="1.9"/>
<text class="t" x="832.9" y="431.4" font-size="32" text-anchor="end">0.6</text>
<line x1="839.95" x2="851.45" y1="288.90" y2="288.90" stroke="#000" stroke-width="1.9"/>
<text class="t" x="832.9" y="299.7" font-size="32" text-anchor="end">0.9</text>
<text class="t" x="1125.2" y="792" font-size="40" text-anchor="middle">age</text>
<text class="t" transform="translate(773.9,434.1) rotate(-90)" font-size="40" text-anchor="middle">nuts per second</text>
</svg>
</body></html>
